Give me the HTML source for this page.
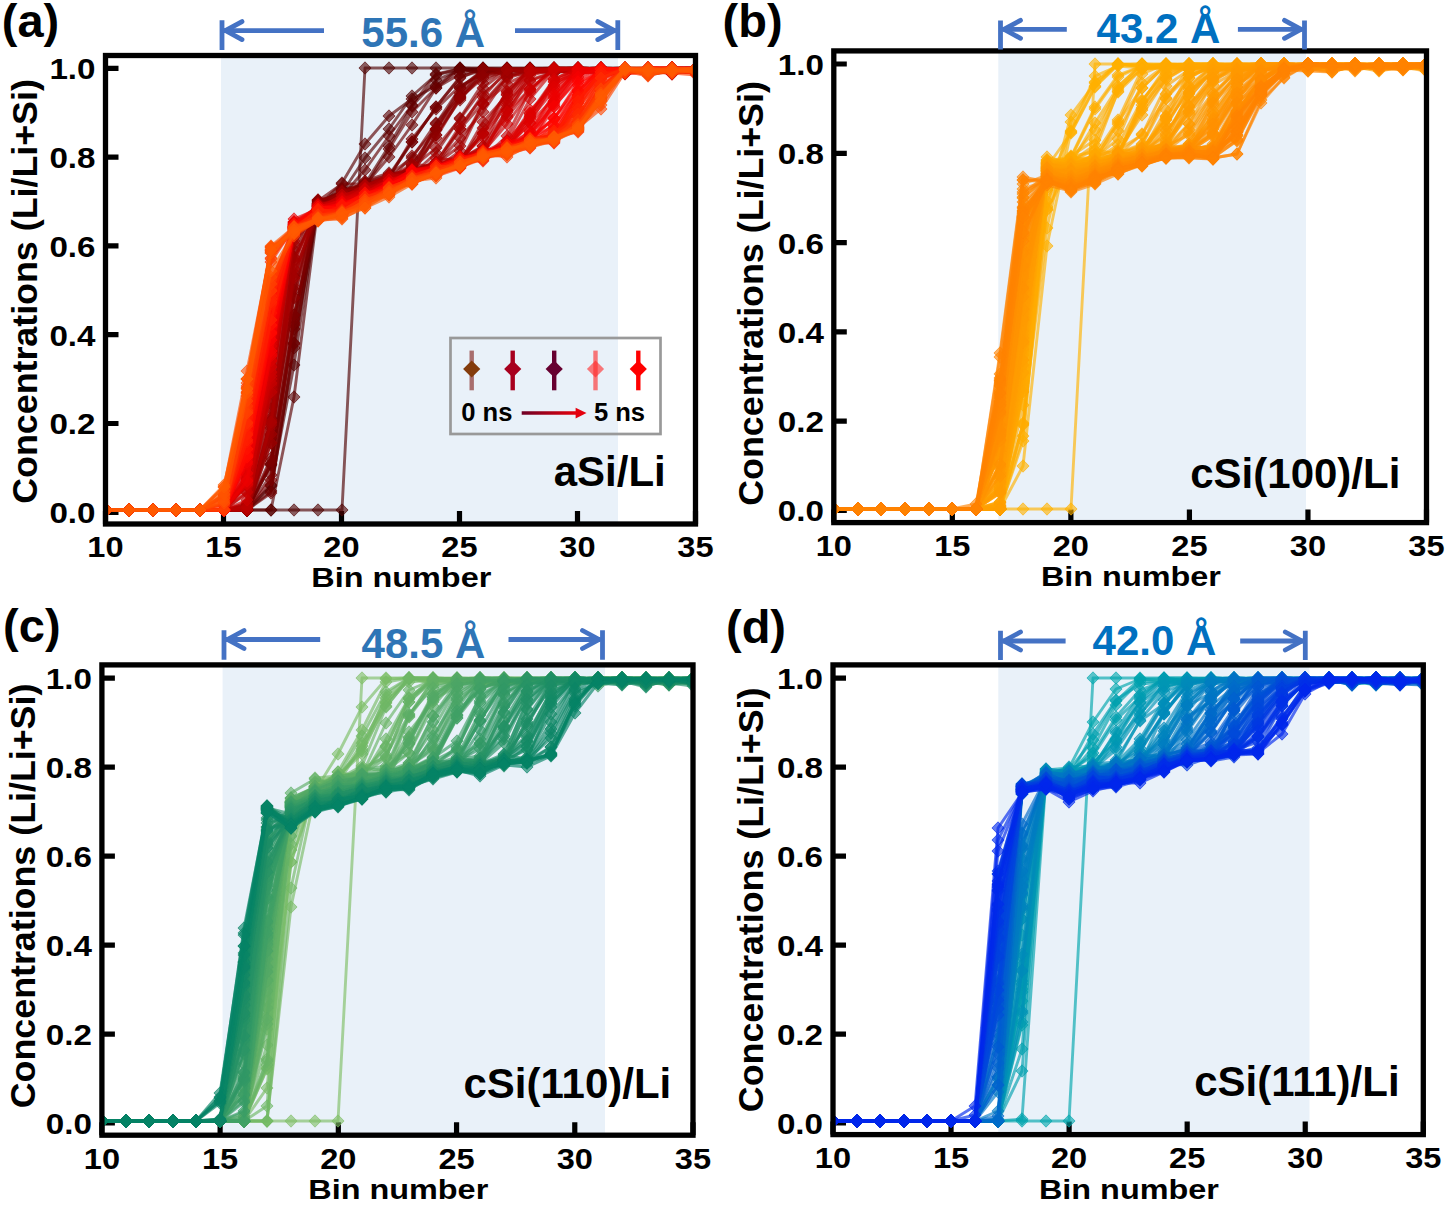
<!DOCTYPE html>
<html><head><meta charset="utf-8"><title>Li concentration profiles</title>
<style>html,body{margin:0;padding:0;background:#fff;}svg{display:block;}</style></head>
<body><svg width="1450" height="1207" viewBox="0 0 1450 1207" font-family="'Liberation Sans', sans-serif" font-weight="bold">
<defs><clipPath id="cla"><rect x="105.5" y="55.5" width="590.0" height="468.5"/></clipPath>
<marker id="m0" viewBox="-6 -6 12 12" markerWidth="12" markerHeight="12" markerUnits="userSpaceOnUse" refX="0" refY="0" overflow="visible"><path d="M0-6.2L6.1 0 0 6.2-6.1 0z" fill="#4e0000" fill-opacity="0.62" stroke="#4e0000" stroke-opacity="0.62" stroke-width="1"/></marker>
<marker id="m1" viewBox="-6 -6 12 12" markerWidth="12" markerHeight="12" markerUnits="userSpaceOnUse" refX="0" refY="0" overflow="visible"><path d="M0-6.2L6.1 0 0 6.2-6.1 0z" fill="#540000" fill-opacity="0.62" stroke="#540000" stroke-opacity="0.62" stroke-width="1"/></marker>
<marker id="m2" viewBox="-6 -6 12 12" markerWidth="12" markerHeight="12" markerUnits="userSpaceOnUse" refX="0" refY="0" overflow="visible"><path d="M0-6.2L6.1 0 0 6.2-6.1 0z" fill="#5b0000" fill-opacity="0.62" stroke="#5b0000" stroke-opacity="0.62" stroke-width="1"/></marker>
<marker id="m3" viewBox="-6 -6 12 12" markerWidth="12" markerHeight="12" markerUnits="userSpaceOnUse" refX="0" refY="0" overflow="visible"><path d="M0-6.2L6.1 0 0 6.2-6.1 0z" fill="#620000" fill-opacity="0.62" stroke="#620000" stroke-opacity="0.62" stroke-width="1"/></marker>
<marker id="m4" viewBox="-6 -6 12 12" markerWidth="12" markerHeight="12" markerUnits="userSpaceOnUse" refX="0" refY="0" overflow="visible"><path d="M0-6.2L6.1 0 0 6.2-6.1 0z" fill="#680000" fill-opacity="0.62" stroke="#680000" stroke-opacity="0.62" stroke-width="1"/></marker>
<marker id="m5" viewBox="-6 -6 12 12" markerWidth="12" markerHeight="12" markerUnits="userSpaceOnUse" refX="0" refY="0" overflow="visible"><path d="M0-6.2L6.1 0 0 6.2-6.1 0z" fill="#6f0000" fill-opacity="0.62" stroke="#6f0000" stroke-opacity="0.62" stroke-width="1"/></marker>
<marker id="m6" viewBox="-6 -6 12 12" markerWidth="12" markerHeight="12" markerUnits="userSpaceOnUse" refX="0" refY="0" overflow="visible"><path d="M0-6.2L6.1 0 0 6.2-6.1 0z" fill="#760000" fill-opacity="0.62" stroke="#760000" stroke-opacity="0.62" stroke-width="1"/></marker>
<marker id="m7" viewBox="-6 -6 12 12" markerWidth="12" markerHeight="12" markerUnits="userSpaceOnUse" refX="0" refY="0" overflow="visible"><path d="M0-6.2L6.1 0 0 6.2-6.1 0z" fill="#7c0000" fill-opacity="0.62" stroke="#7c0000" stroke-opacity="0.62" stroke-width="1"/></marker>
<marker id="m8" viewBox="-6 -6 12 12" markerWidth="12" markerHeight="12" markerUnits="userSpaceOnUse" refX="0" refY="0" overflow="visible"><path d="M0-6.2L6.1 0 0 6.2-6.1 0z" fill="#830000" fill-opacity="0.62" stroke="#830000" stroke-opacity="0.62" stroke-width="1"/></marker>
<marker id="m9" viewBox="-6 -6 12 12" markerWidth="12" markerHeight="12" markerUnits="userSpaceOnUse" refX="0" refY="0" overflow="visible"><path d="M0-6.2L6.1 0 0 6.2-6.1 0z" fill="#8a0000" fill-opacity="0.62" stroke="#8a0000" stroke-opacity="0.62" stroke-width="1"/></marker>
<marker id="m10" viewBox="-6 -6 12 12" markerWidth="12" markerHeight="12" markerUnits="userSpaceOnUse" refX="0" refY="0" overflow="visible"><path d="M0-6.2L6.1 0 0 6.2-6.1 0z" fill="#900000" fill-opacity="0.62" stroke="#900000" stroke-opacity="0.62" stroke-width="1"/></marker>
<marker id="m11" viewBox="-6 -6 12 12" markerWidth="12" markerHeight="12" markerUnits="userSpaceOnUse" refX="0" refY="0" overflow="visible"><path d="M0-6.2L6.1 0 0 6.2-6.1 0z" fill="#970000" fill-opacity="0.62" stroke="#970000" stroke-opacity="0.62" stroke-width="1"/></marker>
<marker id="m12" viewBox="-6 -6 12 12" markerWidth="12" markerHeight="12" markerUnits="userSpaceOnUse" refX="0" refY="0" overflow="visible"><path d="M0-6.2L6.1 0 0 6.2-6.1 0z" fill="#9e0000" fill-opacity="0.62" stroke="#9e0000" stroke-opacity="0.62" stroke-width="1"/></marker>
<marker id="m13" viewBox="-6 -6 12 12" markerWidth="12" markerHeight="12" markerUnits="userSpaceOnUse" refX="0" refY="0" overflow="visible"><path d="M0-6.2L6.1 0 0 6.2-6.1 0z" fill="#a50000" fill-opacity="0.62" stroke="#a50000" stroke-opacity="0.62" stroke-width="1"/></marker>
<marker id="m14" viewBox="-6 -6 12 12" markerWidth="12" markerHeight="12" markerUnits="userSpaceOnUse" refX="0" refY="0" overflow="visible"><path d="M0-6.2L6.1 0 0 6.2-6.1 0z" fill="#ab0000" fill-opacity="0.62" stroke="#ab0000" stroke-opacity="0.62" stroke-width="1"/></marker>
<marker id="m15" viewBox="-6 -6 12 12" markerWidth="12" markerHeight="12" markerUnits="userSpaceOnUse" refX="0" refY="0" overflow="visible"><path d="M0-6.2L6.1 0 0 6.2-6.1 0z" fill="#b20000" fill-opacity="0.62" stroke="#b20000" stroke-opacity="0.62" stroke-width="1"/></marker>
<marker id="m16" viewBox="-6 -6 12 12" markerWidth="12" markerHeight="12" markerUnits="userSpaceOnUse" refX="0" refY="0" overflow="visible"><path d="M0-6.2L6.1 0 0 6.2-6.1 0z" fill="#b90000" fill-opacity="0.62" stroke="#b90000" stroke-opacity="0.62" stroke-width="1"/></marker>
<marker id="m17" viewBox="-6 -6 12 12" markerWidth="12" markerHeight="12" markerUnits="userSpaceOnUse" refX="0" refY="0" overflow="visible"><path d="M0-6.2L6.1 0 0 6.2-6.1 0z" fill="#bf0000" fill-opacity="0.62" stroke="#bf0000" stroke-opacity="0.62" stroke-width="1"/></marker>
<marker id="m18" viewBox="-6 -6 12 12" markerWidth="12" markerHeight="12" markerUnits="userSpaceOnUse" refX="0" refY="0" overflow="visible"><path d="M0-6.2L6.1 0 0 6.2-6.1 0z" fill="#c60000" fill-opacity="0.62" stroke="#c60000" stroke-opacity="0.62" stroke-width="1"/></marker>
<marker id="m19" viewBox="-6 -6 12 12" markerWidth="12" markerHeight="12" markerUnits="userSpaceOnUse" refX="0" refY="0" overflow="visible"><path d="M0-6.2L6.1 0 0 6.2-6.1 0z" fill="#cd0000" fill-opacity="0.62" stroke="#cd0000" stroke-opacity="0.62" stroke-width="1"/></marker>
<marker id="m20" viewBox="-6 -6 12 12" markerWidth="12" markerHeight="12" markerUnits="userSpaceOnUse" refX="0" refY="0" overflow="visible"><path d="M0-6.2L6.1 0 0 6.2-6.1 0z" fill="#d30000" fill-opacity="0.62" stroke="#d30000" stroke-opacity="0.62" stroke-width="1"/></marker>
<marker id="m21" viewBox="-6 -6 12 12" markerWidth="12" markerHeight="12" markerUnits="userSpaceOnUse" refX="0" refY="0" overflow="visible"><path d="M0-6.2L6.1 0 0 6.2-6.1 0z" fill="#da0000" fill-opacity="0.62" stroke="#da0000" stroke-opacity="0.62" stroke-width="1"/></marker>
<marker id="m22" viewBox="-6 -6 12 12" markerWidth="12" markerHeight="12" markerUnits="userSpaceOnUse" refX="0" refY="0" overflow="visible"><path d="M0-6.2L6.1 0 0 6.2-6.1 0z" fill="#e10000" fill-opacity="0.62" stroke="#e10000" stroke-opacity="0.62" stroke-width="1"/></marker>
<marker id="m23" viewBox="-6 -6 12 12" markerWidth="12" markerHeight="12" markerUnits="userSpaceOnUse" refX="0" refY="0" overflow="visible"><path d="M0-6.2L6.1 0 0 6.2-6.1 0z" fill="#e80000" fill-opacity="0.62" stroke="#e80000" stroke-opacity="0.62" stroke-width="1"/></marker>
<marker id="m24" viewBox="-6 -6 12 12" markerWidth="12" markerHeight="12" markerUnits="userSpaceOnUse" refX="0" refY="0" overflow="visible"><path d="M0-6.2L6.1 0 0 6.2-6.1 0z" fill="#ee0000" fill-opacity="0.62" stroke="#ee0000" stroke-opacity="0.62" stroke-width="1"/></marker>
<marker id="m25" viewBox="-6 -6 12 12" markerWidth="12" markerHeight="12" markerUnits="userSpaceOnUse" refX="0" refY="0" overflow="visible"><path d="M0-6.2L6.1 0 0 6.2-6.1 0z" fill="#f50000" fill-opacity="0.62" stroke="#f50000" stroke-opacity="0.62" stroke-width="1"/></marker>
<marker id="m26" viewBox="-6 -6 12 12" markerWidth="12" markerHeight="12" markerUnits="userSpaceOnUse" refX="0" refY="0" overflow="visible"><path d="M0-6.2L6.1 0 0 6.2-6.1 0z" fill="#fc0000" fill-opacity="0.62" stroke="#fc0000" stroke-opacity="0.62" stroke-width="1"/></marker>
<marker id="m27" viewBox="-6 -6 12 12" markerWidth="12" markerHeight="12" markerUnits="userSpaceOnUse" refX="0" refY="0" overflow="visible"><path d="M0-6.2L6.1 0 0 6.2-6.1 0z" fill="#ff0300" fill-opacity="0.62" stroke="#ff0300" stroke-opacity="0.62" stroke-width="1"/></marker>
<marker id="m28" viewBox="-6 -6 12 12" markerWidth="12" markerHeight="12" markerUnits="userSpaceOnUse" refX="0" refY="0" overflow="visible"><path d="M0-6.2L6.1 0 0 6.2-6.1 0z" fill="#ff0a00" fill-opacity="0.62" stroke="#ff0a00" stroke-opacity="0.62" stroke-width="1"/></marker>
<marker id="m29" viewBox="-6 -6 12 12" markerWidth="12" markerHeight="12" markerUnits="userSpaceOnUse" refX="0" refY="0" overflow="visible"><path d="M0-6.2L6.1 0 0 6.2-6.1 0z" fill="#ff1100" fill-opacity="0.62" stroke="#ff1100" stroke-opacity="0.62" stroke-width="1"/></marker>
<marker id="m30" viewBox="-6 -6 12 12" markerWidth="12" markerHeight="12" markerUnits="userSpaceOnUse" refX="0" refY="0" overflow="visible"><path d="M0-6.2L6.1 0 0 6.2-6.1 0z" fill="#ff1700" fill-opacity="0.62" stroke="#ff1700" stroke-opacity="0.62" stroke-width="1"/></marker>
<marker id="m31" viewBox="-6 -6 12 12" markerWidth="12" markerHeight="12" markerUnits="userSpaceOnUse" refX="0" refY="0" overflow="visible"><path d="M0-6.2L6.1 0 0 6.2-6.1 0z" fill="#ff1e00" fill-opacity="0.62" stroke="#ff1e00" stroke-opacity="0.62" stroke-width="1"/></marker>
<marker id="m32" viewBox="-6 -6 12 12" markerWidth="12" markerHeight="12" markerUnits="userSpaceOnUse" refX="0" refY="0" overflow="visible"><path d="M0-6.2L6.1 0 0 6.2-6.1 0z" fill="#ff2500" fill-opacity="0.62" stroke="#ff2500" stroke-opacity="0.62" stroke-width="1"/></marker>
<marker id="m33" viewBox="-6 -6 12 12" markerWidth="12" markerHeight="12" markerUnits="userSpaceOnUse" refX="0" refY="0" overflow="visible"><path d="M0-6.2L6.1 0 0 6.2-6.1 0z" fill="#ff2b00" fill-opacity="0.62" stroke="#ff2b00" stroke-opacity="0.62" stroke-width="1"/></marker>
<marker id="m34" viewBox="-6 -6 12 12" markerWidth="12" markerHeight="12" markerUnits="userSpaceOnUse" refX="0" refY="0" overflow="visible"><path d="M0-6.2L6.1 0 0 6.2-6.1 0z" fill="#ff3200" fill-opacity="0.62" stroke="#ff3200" stroke-opacity="0.62" stroke-width="1"/></marker>
<marker id="m35" viewBox="-6 -6 12 12" markerWidth="12" markerHeight="12" markerUnits="userSpaceOnUse" refX="0" refY="0" overflow="visible"><path d="M0-6.2L6.1 0 0 6.2-6.1 0z" fill="#ff3900" fill-opacity="0.62" stroke="#ff3900" stroke-opacity="0.62" stroke-width="1"/></marker>
<marker id="m36" viewBox="-6 -6 12 12" markerWidth="12" markerHeight="12" markerUnits="userSpaceOnUse" refX="0" refY="0" overflow="visible"><path d="M0-6.2L6.1 0 0 6.2-6.1 0z" fill="#ff4000" fill-opacity="0.62" stroke="#ff4000" stroke-opacity="0.62" stroke-width="1"/></marker>
<marker id="m37" viewBox="-6 -6 12 12" markerWidth="12" markerHeight="12" markerUnits="userSpaceOnUse" refX="0" refY="0" overflow="visible"><path d="M0-6.2L6.1 0 0 6.2-6.1 0z" fill="#ff4600" fill-opacity="0.62" stroke="#ff4600" stroke-opacity="0.62" stroke-width="1"/></marker>
<marker id="m38" viewBox="-6 -6 12 12" markerWidth="12" markerHeight="12" markerUnits="userSpaceOnUse" refX="0" refY="0" overflow="visible"><path d="M0-6.2L6.1 0 0 6.2-6.1 0z" fill="#ff4d00" fill-opacity="0.62" stroke="#ff4d00" stroke-opacity="0.62" stroke-width="1"/></marker>
<marker id="m39" viewBox="-6 -6 12 12" markerWidth="12" markerHeight="12" markerUnits="userSpaceOnUse" refX="0" refY="0" overflow="visible"><path d="M0-6.2L6.1 0 0 6.2-6.1 0z" fill="#ff5400" fill-opacity="0.62" stroke="#ff5400" stroke-opacity="0.62" stroke-width="1"/></marker>
<marker id="m40" viewBox="-6 -6 12 12" markerWidth="12" markerHeight="12" markerUnits="userSpaceOnUse" refX="0" refY="0" overflow="visible"><path d="M0-6.2L6.1 0 0 6.2-6.1 0z" fill="#ff5a00" fill-opacity="0.62" stroke="#ff5a00" stroke-opacity="0.62" stroke-width="1"/></marker>
<clipPath id="clb"><rect x="833.8" y="50.9" width="592.7" height="471.7"/></clipPath>
<marker id="m41" viewBox="-6 -6 12 12" markerWidth="12" markerHeight="12" markerUnits="userSpaceOnUse" refX="0" refY="0" overflow="visible"><path d="M0-6.2L6.1 0 0 6.2-6.1 0z" fill="#ffb200" fill-opacity="0.62" stroke="#ffb200" stroke-opacity="0.62" stroke-width="1"/></marker>
<marker id="m42" viewBox="-6 -6 12 12" markerWidth="12" markerHeight="12" markerUnits="userSpaceOnUse" refX="0" refY="0" overflow="visible"><path d="M0-6.2L6.1 0 0 6.2-6.1 0z" fill="#ffb100" fill-opacity="0.62" stroke="#ffb100" stroke-opacity="0.62" stroke-width="1"/></marker>
<marker id="m43" viewBox="-6 -6 12 12" markerWidth="12" markerHeight="12" markerUnits="userSpaceOnUse" refX="0" refY="0" overflow="visible"><path d="M0-6.2L6.1 0 0 6.2-6.1 0z" fill="#ffb000" fill-opacity="0.62" stroke="#ffb000" stroke-opacity="0.62" stroke-width="1"/></marker>
<marker id="m44" viewBox="-6 -6 12 12" markerWidth="12" markerHeight="12" markerUnits="userSpaceOnUse" refX="0" refY="0" overflow="visible"><path d="M0-6.2L6.1 0 0 6.2-6.1 0z" fill="#ffaf00" fill-opacity="0.62" stroke="#ffaf00" stroke-opacity="0.62" stroke-width="1"/></marker>
<marker id="m45" viewBox="-6 -6 12 12" markerWidth="12" markerHeight="12" markerUnits="userSpaceOnUse" refX="0" refY="0" overflow="visible"><path d="M0-6.2L6.1 0 0 6.2-6.1 0z" fill="#ffae00" fill-opacity="0.62" stroke="#ffae00" stroke-opacity="0.62" stroke-width="1"/></marker>
<marker id="m46" viewBox="-6 -6 12 12" markerWidth="12" markerHeight="12" markerUnits="userSpaceOnUse" refX="0" refY="0" overflow="visible"><path d="M0-6.2L6.1 0 0 6.2-6.1 0z" fill="#ffac00" fill-opacity="0.62" stroke="#ffac00" stroke-opacity="0.62" stroke-width="1"/></marker>
<marker id="m47" viewBox="-6 -6 12 12" markerWidth="12" markerHeight="12" markerUnits="userSpaceOnUse" refX="0" refY="0" overflow="visible"><path d="M0-6.2L6.1 0 0 6.2-6.1 0z" fill="#ffab00" fill-opacity="0.62" stroke="#ffab00" stroke-opacity="0.62" stroke-width="1"/></marker>
<marker id="m48" viewBox="-6 -6 12 12" markerWidth="12" markerHeight="12" markerUnits="userSpaceOnUse" refX="0" refY="0" overflow="visible"><path d="M0-6.2L6.1 0 0 6.2-6.1 0z" fill="#ffaa00" fill-opacity="0.62" stroke="#ffaa00" stroke-opacity="0.62" stroke-width="1"/></marker>
<marker id="m49" viewBox="-6 -6 12 12" markerWidth="12" markerHeight="12" markerUnits="userSpaceOnUse" refX="0" refY="0" overflow="visible"><path d="M0-6.2L6.1 0 0 6.2-6.1 0z" fill="#ffa900" fill-opacity="0.62" stroke="#ffa900" stroke-opacity="0.62" stroke-width="1"/></marker>
<marker id="m50" viewBox="-6 -6 12 12" markerWidth="12" markerHeight="12" markerUnits="userSpaceOnUse" refX="0" refY="0" overflow="visible"><path d="M0-6.2L6.1 0 0 6.2-6.1 0z" fill="#ffa800" fill-opacity="0.62" stroke="#ffa800" stroke-opacity="0.62" stroke-width="1"/></marker>
<marker id="m51" viewBox="-6 -6 12 12" markerWidth="12" markerHeight="12" markerUnits="userSpaceOnUse" refX="0" refY="0" overflow="visible"><path d="M0-6.2L6.1 0 0 6.2-6.1 0z" fill="#ffa600" fill-opacity="0.62" stroke="#ffa600" stroke-opacity="0.62" stroke-width="1"/></marker>
<marker id="m52" viewBox="-6 -6 12 12" markerWidth="12" markerHeight="12" markerUnits="userSpaceOnUse" refX="0" refY="0" overflow="visible"><path d="M0-6.2L6.1 0 0 6.2-6.1 0z" fill="#ffa500" fill-opacity="0.62" stroke="#ffa500" stroke-opacity="0.62" stroke-width="1"/></marker>
<marker id="m53" viewBox="-6 -6 12 12" markerWidth="12" markerHeight="12" markerUnits="userSpaceOnUse" refX="0" refY="0" overflow="visible"><path d="M0-6.2L6.1 0 0 6.2-6.1 0z" fill="#ffa400" fill-opacity="0.62" stroke="#ffa400" stroke-opacity="0.62" stroke-width="1"/></marker>
<marker id="m54" viewBox="-6 -6 12 12" markerWidth="12" markerHeight="12" markerUnits="userSpaceOnUse" refX="0" refY="0" overflow="visible"><path d="M0-6.2L6.1 0 0 6.2-6.1 0z" fill="#ffa300" fill-opacity="0.62" stroke="#ffa300" stroke-opacity="0.62" stroke-width="1"/></marker>
<marker id="m55" viewBox="-6 -6 12 12" markerWidth="12" markerHeight="12" markerUnits="userSpaceOnUse" refX="0" refY="0" overflow="visible"><path d="M0-6.2L6.1 0 0 6.2-6.1 0z" fill="#ffa200" fill-opacity="0.62" stroke="#ffa200" stroke-opacity="0.62" stroke-width="1"/></marker>
<marker id="m56" viewBox="-6 -6 12 12" markerWidth="12" markerHeight="12" markerUnits="userSpaceOnUse" refX="0" refY="0" overflow="visible"><path d="M0-6.2L6.1 0 0 6.2-6.1 0z" fill="#ffa000" fill-opacity="0.62" stroke="#ffa000" stroke-opacity="0.62" stroke-width="1"/></marker>
<marker id="m57" viewBox="-6 -6 12 12" markerWidth="12" markerHeight="12" markerUnits="userSpaceOnUse" refX="0" refY="0" overflow="visible"><path d="M0-6.2L6.1 0 0 6.2-6.1 0z" fill="#ff9f00" fill-opacity="0.62" stroke="#ff9f00" stroke-opacity="0.62" stroke-width="1"/></marker>
<marker id="m58" viewBox="-6 -6 12 12" markerWidth="12" markerHeight="12" markerUnits="userSpaceOnUse" refX="0" refY="0" overflow="visible"><path d="M0-6.2L6.1 0 0 6.2-6.1 0z" fill="#ff9e00" fill-opacity="0.62" stroke="#ff9e00" stroke-opacity="0.62" stroke-width="1"/></marker>
<marker id="m59" viewBox="-6 -6 12 12" markerWidth="12" markerHeight="12" markerUnits="userSpaceOnUse" refX="0" refY="0" overflow="visible"><path d="M0-6.2L6.1 0 0 6.2-6.1 0z" fill="#ff9d00" fill-opacity="0.62" stroke="#ff9d00" stroke-opacity="0.62" stroke-width="1"/></marker>
<marker id="m60" viewBox="-6 -6 12 12" markerWidth="12" markerHeight="12" markerUnits="userSpaceOnUse" refX="0" refY="0" overflow="visible"><path d="M0-6.2L6.1 0 0 6.2-6.1 0z" fill="#ff9b00" fill-opacity="0.62" stroke="#ff9b00" stroke-opacity="0.62" stroke-width="1"/></marker>
<marker id="m61" viewBox="-6 -6 12 12" markerWidth="12" markerHeight="12" markerUnits="userSpaceOnUse" refX="0" refY="0" overflow="visible"><path d="M0-6.2L6.1 0 0 6.2-6.1 0z" fill="#ff9a00" fill-opacity="0.62" stroke="#ff9a00" stroke-opacity="0.62" stroke-width="1"/></marker>
<marker id="m62" viewBox="-6 -6 12 12" markerWidth="12" markerHeight="12" markerUnits="userSpaceOnUse" refX="0" refY="0" overflow="visible"><path d="M0-6.2L6.1 0 0 6.2-6.1 0z" fill="#ff9900" fill-opacity="0.62" stroke="#ff9900" stroke-opacity="0.62" stroke-width="1"/></marker>
<marker id="m63" viewBox="-6 -6 12 12" markerWidth="12" markerHeight="12" markerUnits="userSpaceOnUse" refX="0" refY="0" overflow="visible"><path d="M0-6.2L6.1 0 0 6.2-6.1 0z" fill="#ff9800" fill-opacity="0.62" stroke="#ff9800" stroke-opacity="0.62" stroke-width="1"/></marker>
<marker id="m64" viewBox="-6 -6 12 12" markerWidth="12" markerHeight="12" markerUnits="userSpaceOnUse" refX="0" refY="0" overflow="visible"><path d="M0-6.2L6.1 0 0 6.2-6.1 0z" fill="#ff9700" fill-opacity="0.62" stroke="#ff9700" stroke-opacity="0.62" stroke-width="1"/></marker>
<marker id="m65" viewBox="-6 -6 12 12" markerWidth="12" markerHeight="12" markerUnits="userSpaceOnUse" refX="0" refY="0" overflow="visible"><path d="M0-6.2L6.1 0 0 6.2-6.1 0z" fill="#ff9500" fill-opacity="0.62" stroke="#ff9500" stroke-opacity="0.62" stroke-width="1"/></marker>
<marker id="m66" viewBox="-6 -6 12 12" markerWidth="12" markerHeight="12" markerUnits="userSpaceOnUse" refX="0" refY="0" overflow="visible"><path d="M0-6.2L6.1 0 0 6.2-6.1 0z" fill="#ff9400" fill-opacity="0.62" stroke="#ff9400" stroke-opacity="0.62" stroke-width="1"/></marker>
<marker id="m67" viewBox="-6 -6 12 12" markerWidth="12" markerHeight="12" markerUnits="userSpaceOnUse" refX="0" refY="0" overflow="visible"><path d="M0-6.2L6.1 0 0 6.2-6.1 0z" fill="#ff9300" fill-opacity="0.62" stroke="#ff9300" stroke-opacity="0.62" stroke-width="1"/></marker>
<marker id="m68" viewBox="-6 -6 12 12" markerWidth="12" markerHeight="12" markerUnits="userSpaceOnUse" refX="0" refY="0" overflow="visible"><path d="M0-6.2L6.1 0 0 6.2-6.1 0z" fill="#ff9200" fill-opacity="0.62" stroke="#ff9200" stroke-opacity="0.62" stroke-width="1"/></marker>
<marker id="m69" viewBox="-6 -6 12 12" markerWidth="12" markerHeight="12" markerUnits="userSpaceOnUse" refX="0" refY="0" overflow="visible"><path d="M0-6.2L6.1 0 0 6.2-6.1 0z" fill="#ff9100" fill-opacity="0.62" stroke="#ff9100" stroke-opacity="0.62" stroke-width="1"/></marker>
<marker id="m70" viewBox="-6 -6 12 12" markerWidth="12" markerHeight="12" markerUnits="userSpaceOnUse" refX="0" refY="0" overflow="visible"><path d="M0-6.2L6.1 0 0 6.2-6.1 0z" fill="#ff8f00" fill-opacity="0.62" stroke="#ff8f00" stroke-opacity="0.62" stroke-width="1"/></marker>
<marker id="m71" viewBox="-6 -6 12 12" markerWidth="12" markerHeight="12" markerUnits="userSpaceOnUse" refX="0" refY="0" overflow="visible"><path d="M0-6.2L6.1 0 0 6.2-6.1 0z" fill="#ff8e00" fill-opacity="0.62" stroke="#ff8e00" stroke-opacity="0.62" stroke-width="1"/></marker>
<marker id="m72" viewBox="-6 -6 12 12" markerWidth="12" markerHeight="12" markerUnits="userSpaceOnUse" refX="0" refY="0" overflow="visible"><path d="M0-6.2L6.1 0 0 6.2-6.1 0z" fill="#ff8d00" fill-opacity="0.62" stroke="#ff8d00" stroke-opacity="0.62" stroke-width="1"/></marker>
<marker id="m73" viewBox="-6 -6 12 12" markerWidth="12" markerHeight="12" markerUnits="userSpaceOnUse" refX="0" refY="0" overflow="visible"><path d="M0-6.2L6.1 0 0 6.2-6.1 0z" fill="#ff8c00" fill-opacity="0.62" stroke="#ff8c00" stroke-opacity="0.62" stroke-width="1"/></marker>
<marker id="m74" viewBox="-6 -6 12 12" markerWidth="12" markerHeight="12" markerUnits="userSpaceOnUse" refX="0" refY="0" overflow="visible"><path d="M0-6.2L6.1 0 0 6.2-6.1 0z" fill="#ff8b00" fill-opacity="0.62" stroke="#ff8b00" stroke-opacity="0.62" stroke-width="1"/></marker>
<marker id="m75" viewBox="-6 -6 12 12" markerWidth="12" markerHeight="12" markerUnits="userSpaceOnUse" refX="0" refY="0" overflow="visible"><path d="M0-6.2L6.1 0 0 6.2-6.1 0z" fill="#ff8900" fill-opacity="0.62" stroke="#ff8900" stroke-opacity="0.62" stroke-width="1"/></marker>
<marker id="m76" viewBox="-6 -6 12 12" markerWidth="12" markerHeight="12" markerUnits="userSpaceOnUse" refX="0" refY="0" overflow="visible"><path d="M0-6.2L6.1 0 0 6.2-6.1 0z" fill="#ff8800" fill-opacity="0.62" stroke="#ff8800" stroke-opacity="0.62" stroke-width="1"/></marker>
<marker id="m77" viewBox="-6 -6 12 12" markerWidth="12" markerHeight="12" markerUnits="userSpaceOnUse" refX="0" refY="0" overflow="visible"><path d="M0-6.2L6.1 0 0 6.2-6.1 0z" fill="#ff8700" fill-opacity="0.62" stroke="#ff8700" stroke-opacity="0.62" stroke-width="1"/></marker>
<marker id="m78" viewBox="-6 -6 12 12" markerWidth="12" markerHeight="12" markerUnits="userSpaceOnUse" refX="0" refY="0" overflow="visible"><path d="M0-6.2L6.1 0 0 6.2-6.1 0z" fill="#ff8600" fill-opacity="0.62" stroke="#ff8600" stroke-opacity="0.62" stroke-width="1"/></marker>
<marker id="m79" viewBox="-6 -6 12 12" markerWidth="12" markerHeight="12" markerUnits="userSpaceOnUse" refX="0" refY="0" overflow="visible"><path d="M0-6.2L6.1 0 0 6.2-6.1 0z" fill="#ff8400" fill-opacity="0.62" stroke="#ff8400" stroke-opacity="0.62" stroke-width="1"/></marker>
<marker id="m80" viewBox="-6 -6 12 12" markerWidth="12" markerHeight="12" markerUnits="userSpaceOnUse" refX="0" refY="0" overflow="visible"><path d="M0-6.2L6.1 0 0 6.2-6.1 0z" fill="#ff8300" fill-opacity="0.62" stroke="#ff8300" stroke-opacity="0.62" stroke-width="1"/></marker>
<marker id="m81" viewBox="-6 -6 12 12" markerWidth="12" markerHeight="12" markerUnits="userSpaceOnUse" refX="0" refY="0" overflow="visible"><path d="M0-6.2L6.1 0 0 6.2-6.1 0z" fill="#ff8200" fill-opacity="0.62" stroke="#ff8200" stroke-opacity="0.62" stroke-width="1"/></marker>
<clipPath id="clc"><rect x="101.9" y="664.9" width="591.1" height="470.3"/></clipPath>
<marker id="m82" viewBox="-6 -6 12 12" markerWidth="12" markerHeight="12" markerUnits="userSpaceOnUse" refX="0" refY="0" overflow="visible"><path d="M0-6.2L6.1 0 0 6.2-6.1 0z" fill="#80bf66" fill-opacity="0.62" stroke="#80bf66" stroke-opacity="0.62" stroke-width="1"/></marker>
<marker id="m83" viewBox="-6 -6 12 12" markerWidth="12" markerHeight="12" markerUnits="userSpaceOnUse" refX="0" refY="0" overflow="visible"><path d="M0-6.2L6.1 0 0 6.2-6.1 0z" fill="#7cbe66" fill-opacity="0.62" stroke="#7cbe66" stroke-opacity="0.62" stroke-width="1"/></marker>
<marker id="m84" viewBox="-6 -6 12 12" markerWidth="12" markerHeight="12" markerUnits="userSpaceOnUse" refX="0" refY="0" overflow="visible"><path d="M0-6.2L6.1 0 0 6.2-6.1 0z" fill="#79bc66" fill-opacity="0.62" stroke="#79bc66" stroke-opacity="0.62" stroke-width="1"/></marker>
<marker id="m85" viewBox="-6 -6 12 12" markerWidth="12" markerHeight="12" markerUnits="userSpaceOnUse" refX="0" refY="0" overflow="visible"><path d="M0-6.2L6.1 0 0 6.2-6.1 0z" fill="#76bb66" fill-opacity="0.62" stroke="#76bb66" stroke-opacity="0.62" stroke-width="1"/></marker>
<marker id="m86" viewBox="-6 -6 12 12" markerWidth="12" markerHeight="12" markerUnits="userSpaceOnUse" refX="0" refY="0" overflow="visible"><path d="M0-6.2L6.1 0 0 6.2-6.1 0z" fill="#73b966" fill-opacity="0.62" stroke="#73b966" stroke-opacity="0.62" stroke-width="1"/></marker>
<marker id="m87" viewBox="-6 -6 12 12" markerWidth="12" markerHeight="12" markerUnits="userSpaceOnUse" refX="0" refY="0" overflow="visible"><path d="M0-6.2L6.1 0 0 6.2-6.1 0z" fill="#70b866" fill-opacity="0.62" stroke="#70b866" stroke-opacity="0.62" stroke-width="1"/></marker>
<marker id="m88" viewBox="-6 -6 12 12" markerWidth="12" markerHeight="12" markerUnits="userSpaceOnUse" refX="0" refY="0" overflow="visible"><path d="M0-6.2L6.1 0 0 6.2-6.1 0z" fill="#6db666" fill-opacity="0.62" stroke="#6db666" stroke-opacity="0.62" stroke-width="1"/></marker>
<marker id="m89" viewBox="-6 -6 12 12" markerWidth="12" markerHeight="12" markerUnits="userSpaceOnUse" refX="0" refY="0" overflow="visible"><path d="M0-6.2L6.1 0 0 6.2-6.1 0z" fill="#6ab566" fill-opacity="0.62" stroke="#6ab566" stroke-opacity="0.62" stroke-width="1"/></marker>
<marker id="m90" viewBox="-6 -6 12 12" markerWidth="12" markerHeight="12" markerUnits="userSpaceOnUse" refX="0" refY="0" overflow="visible"><path d="M0-6.2L6.1 0 0 6.2-6.1 0z" fill="#67b366" fill-opacity="0.62" stroke="#67b366" stroke-opacity="0.62" stroke-width="1"/></marker>
<marker id="m91" viewBox="-6 -6 12 12" markerWidth="12" markerHeight="12" markerUnits="userSpaceOnUse" refX="0" refY="0" overflow="visible"><path d="M0-6.2L6.1 0 0 6.2-6.1 0z" fill="#64b166" fill-opacity="0.62" stroke="#64b166" stroke-opacity="0.62" stroke-width="1"/></marker>
<marker id="m92" viewBox="-6 -6 12 12" markerWidth="12" markerHeight="12" markerUnits="userSpaceOnUse" refX="0" refY="0" overflow="visible"><path d="M0-6.2L6.1 0 0 6.2-6.1 0z" fill="#61b066" fill-opacity="0.62" stroke="#61b066" stroke-opacity="0.62" stroke-width="1"/></marker>
<marker id="m93" viewBox="-6 -6 12 12" markerWidth="12" markerHeight="12" markerUnits="userSpaceOnUse" refX="0" refY="0" overflow="visible"><path d="M0-6.2L6.1 0 0 6.2-6.1 0z" fill="#5eae66" fill-opacity="0.62" stroke="#5eae66" stroke-opacity="0.62" stroke-width="1"/></marker>
<marker id="m94" viewBox="-6 -6 12 12" markerWidth="12" markerHeight="12" markerUnits="userSpaceOnUse" refX="0" refY="0" overflow="visible"><path d="M0-6.2L6.1 0 0 6.2-6.1 0z" fill="#5bad66" fill-opacity="0.62" stroke="#5bad66" stroke-opacity="0.62" stroke-width="1"/></marker>
<marker id="m95" viewBox="-6 -6 12 12" markerWidth="12" markerHeight="12" markerUnits="userSpaceOnUse" refX="0" refY="0" overflow="visible"><path d="M0-6.2L6.1 0 0 6.2-6.1 0z" fill="#58ab66" fill-opacity="0.62" stroke="#58ab66" stroke-opacity="0.62" stroke-width="1"/></marker>
<marker id="m96" viewBox="-6 -6 12 12" markerWidth="12" markerHeight="12" markerUnits="userSpaceOnUse" refX="0" refY="0" overflow="visible"><path d="M0-6.2L6.1 0 0 6.2-6.1 0z" fill="#55aa66" fill-opacity="0.62" stroke="#55aa66" stroke-opacity="0.62" stroke-width="1"/></marker>
<marker id="m97" viewBox="-6 -6 12 12" markerWidth="12" markerHeight="12" markerUnits="userSpaceOnUse" refX="0" refY="0" overflow="visible"><path d="M0-6.2L6.1 0 0 6.2-6.1 0z" fill="#52a866" fill-opacity="0.62" stroke="#52a866" stroke-opacity="0.62" stroke-width="1"/></marker>
<marker id="m98" viewBox="-6 -6 12 12" markerWidth="12" markerHeight="12" markerUnits="userSpaceOnUse" refX="0" refY="0" overflow="visible"><path d="M0-6.2L6.1 0 0 6.2-6.1 0z" fill="#4fa766" fill-opacity="0.62" stroke="#4fa766" stroke-opacity="0.62" stroke-width="1"/></marker>
<marker id="m99" viewBox="-6 -6 12 12" markerWidth="12" markerHeight="12" markerUnits="userSpaceOnUse" refX="0" refY="0" overflow="visible"><path d="M0-6.2L6.1 0 0 6.2-6.1 0z" fill="#4ba566" fill-opacity="0.62" stroke="#4ba566" stroke-opacity="0.62" stroke-width="1"/></marker>
<marker id="m100" viewBox="-6 -6 12 12" markerWidth="12" markerHeight="12" markerUnits="userSpaceOnUse" refX="0" refY="0" overflow="visible"><path d="M0-6.2L6.1 0 0 6.2-6.1 0z" fill="#48a466" fill-opacity="0.62" stroke="#48a466" stroke-opacity="0.62" stroke-width="1"/></marker>
<marker id="m101" viewBox="-6 -6 12 12" markerWidth="12" markerHeight="12" markerUnits="userSpaceOnUse" refX="0" refY="0" overflow="visible"><path d="M0-6.2L6.1 0 0 6.2-6.1 0z" fill="#45a266" fill-opacity="0.62" stroke="#45a266" stroke-opacity="0.62" stroke-width="1"/></marker>
<marker id="m102" viewBox="-6 -6 12 12" markerWidth="12" markerHeight="12" markerUnits="userSpaceOnUse" refX="0" refY="0" overflow="visible"><path d="M0-6.2L6.1 0 0 6.2-6.1 0z" fill="#42a166" fill-opacity="0.62" stroke="#42a166" stroke-opacity="0.62" stroke-width="1"/></marker>
<marker id="m103" viewBox="-6 -6 12 12" markerWidth="12" markerHeight="12" markerUnits="userSpaceOnUse" refX="0" refY="0" overflow="visible"><path d="M0-6.2L6.1 0 0 6.2-6.1 0z" fill="#3f9f66" fill-opacity="0.62" stroke="#3f9f66" stroke-opacity="0.62" stroke-width="1"/></marker>
<marker id="m104" viewBox="-6 -6 12 12" markerWidth="12" markerHeight="12" markerUnits="userSpaceOnUse" refX="0" refY="0" overflow="visible"><path d="M0-6.2L6.1 0 0 6.2-6.1 0z" fill="#3c9e66" fill-opacity="0.62" stroke="#3c9e66" stroke-opacity="0.62" stroke-width="1"/></marker>
<marker id="m105" viewBox="-6 -6 12 12" markerWidth="12" markerHeight="12" markerUnits="userSpaceOnUse" refX="0" refY="0" overflow="visible"><path d="M0-6.2L6.1 0 0 6.2-6.1 0z" fill="#399c66" fill-opacity="0.62" stroke="#399c66" stroke-opacity="0.62" stroke-width="1"/></marker>
<marker id="m106" viewBox="-6 -6 12 12" markerWidth="12" markerHeight="12" markerUnits="userSpaceOnUse" refX="0" refY="0" overflow="visible"><path d="M0-6.2L6.1 0 0 6.2-6.1 0z" fill="#369b66" fill-opacity="0.62" stroke="#369b66" stroke-opacity="0.62" stroke-width="1"/></marker>
<marker id="m107" viewBox="-6 -6 12 12" markerWidth="12" markerHeight="12" markerUnits="userSpaceOnUse" refX="0" refY="0" overflow="visible"><path d="M0-6.2L6.1 0 0 6.2-6.1 0z" fill="#339966" fill-opacity="0.62" stroke="#339966" stroke-opacity="0.62" stroke-width="1"/></marker>
<marker id="m108" viewBox="-6 -6 12 12" markerWidth="12" markerHeight="12" markerUnits="userSpaceOnUse" refX="0" refY="0" overflow="visible"><path d="M0-6.2L6.1 0 0 6.2-6.1 0z" fill="#309766" fill-opacity="0.62" stroke="#309766" stroke-opacity="0.62" stroke-width="1"/></marker>
<marker id="m109" viewBox="-6 -6 12 12" markerWidth="12" markerHeight="12" markerUnits="userSpaceOnUse" refX="0" refY="0" overflow="visible"><path d="M0-6.2L6.1 0 0 6.2-6.1 0z" fill="#2d9666" fill-opacity="0.62" stroke="#2d9666" stroke-opacity="0.62" stroke-width="1"/></marker>
<marker id="m110" viewBox="-6 -6 12 12" markerWidth="12" markerHeight="12" markerUnits="userSpaceOnUse" refX="0" refY="0" overflow="visible"><path d="M0-6.2L6.1 0 0 6.2-6.1 0z" fill="#2a9466" fill-opacity="0.62" stroke="#2a9466" stroke-opacity="0.62" stroke-width="1"/></marker>
<marker id="m111" viewBox="-6 -6 12 12" markerWidth="12" markerHeight="12" markerUnits="userSpaceOnUse" refX="0" refY="0" overflow="visible"><path d="M0-6.2L6.1 0 0 6.2-6.1 0z" fill="#279366" fill-opacity="0.62" stroke="#279366" stroke-opacity="0.62" stroke-width="1"/></marker>
<marker id="m112" viewBox="-6 -6 12 12" markerWidth="12" markerHeight="12" markerUnits="userSpaceOnUse" refX="0" refY="0" overflow="visible"><path d="M0-6.2L6.1 0 0 6.2-6.1 0z" fill="#249166" fill-opacity="0.62" stroke="#249166" stroke-opacity="0.62" stroke-width="1"/></marker>
<marker id="m113" viewBox="-6 -6 12 12" markerWidth="12" markerHeight="12" markerUnits="userSpaceOnUse" refX="0" refY="0" overflow="visible"><path d="M0-6.2L6.1 0 0 6.2-6.1 0z" fill="#219066" fill-opacity="0.62" stroke="#219066" stroke-opacity="0.62" stroke-width="1"/></marker>
<marker id="m114" viewBox="-6 -6 12 12" markerWidth="12" markerHeight="12" markerUnits="userSpaceOnUse" refX="0" refY="0" overflow="visible"><path d="M0-6.2L6.1 0 0 6.2-6.1 0z" fill="#1e8e66" fill-opacity="0.62" stroke="#1e8e66" stroke-opacity="0.62" stroke-width="1"/></marker>
<marker id="m115" viewBox="-6 -6 12 12" markerWidth="12" markerHeight="12" markerUnits="userSpaceOnUse" refX="0" refY="0" overflow="visible"><path d="M0-6.2L6.1 0 0 6.2-6.1 0z" fill="#1b8d66" fill-opacity="0.62" stroke="#1b8d66" stroke-opacity="0.62" stroke-width="1"/></marker>
<marker id="m116" viewBox="-6 -6 12 12" markerWidth="12" markerHeight="12" markerUnits="userSpaceOnUse" refX="0" refY="0" overflow="visible"><path d="M0-6.2L6.1 0 0 6.2-6.1 0z" fill="#178b66" fill-opacity="0.62" stroke="#178b66" stroke-opacity="0.62" stroke-width="1"/></marker>
<marker id="m117" viewBox="-6 -6 12 12" markerWidth="12" markerHeight="12" markerUnits="userSpaceOnUse" refX="0" refY="0" overflow="visible"><path d="M0-6.2L6.1 0 0 6.2-6.1 0z" fill="#148a66" fill-opacity="0.62" stroke="#148a66" stroke-opacity="0.62" stroke-width="1"/></marker>
<marker id="m118" viewBox="-6 -6 12 12" markerWidth="12" markerHeight="12" markerUnits="userSpaceOnUse" refX="0" refY="0" overflow="visible"><path d="M0-6.2L6.1 0 0 6.2-6.1 0z" fill="#118866" fill-opacity="0.62" stroke="#118866" stroke-opacity="0.62" stroke-width="1"/></marker>
<marker id="m119" viewBox="-6 -6 12 12" markerWidth="12" markerHeight="12" markerUnits="userSpaceOnUse" refX="0" refY="0" overflow="visible"><path d="M0-6.2L6.1 0 0 6.2-6.1 0z" fill="#0e8766" fill-opacity="0.62" stroke="#0e8766" stroke-opacity="0.62" stroke-width="1"/></marker>
<marker id="m120" viewBox="-6 -6 12 12" markerWidth="12" markerHeight="12" markerUnits="userSpaceOnUse" refX="0" refY="0" overflow="visible"><path d="M0-6.2L6.1 0 0 6.2-6.1 0z" fill="#0b8566" fill-opacity="0.62" stroke="#0b8566" stroke-opacity="0.62" stroke-width="1"/></marker>
<marker id="m121" viewBox="-6 -6 12 12" markerWidth="12" markerHeight="12" markerUnits="userSpaceOnUse" refX="0" refY="0" overflow="visible"><path d="M0-6.2L6.1 0 0 6.2-6.1 0z" fill="#088466" fill-opacity="0.62" stroke="#088466" stroke-opacity="0.62" stroke-width="1"/></marker>
<marker id="m122" viewBox="-6 -6 12 12" markerWidth="12" markerHeight="12" markerUnits="userSpaceOnUse" refX="0" refY="0" overflow="visible"><path d="M0-6.2L6.1 0 0 6.2-6.1 0z" fill="#058266" fill-opacity="0.62" stroke="#058266" stroke-opacity="0.62" stroke-width="1"/></marker>
<clipPath id="cld"><rect x="833.0" y="664.9" width="590.3" height="469.7"/></clipPath>
<marker id="m123" viewBox="-6 -6 12 12" markerWidth="12" markerHeight="12" markerUnits="userSpaceOnUse" refX="0" refY="0" overflow="visible"><path d="M0-6.2L6.1 0 0 6.2-6.1 0z" fill="#00a6ac" fill-opacity="0.62" stroke="#00a6ac" stroke-opacity="0.62" stroke-width="1"/></marker>
<marker id="m124" viewBox="-6 -6 12 12" markerWidth="12" markerHeight="12" markerUnits="userSpaceOnUse" refX="0" refY="0" overflow="visible"><path d="M0-6.2L6.1 0 0 6.2-6.1 0z" fill="#00a3ae" fill-opacity="0.62" stroke="#00a3ae" stroke-opacity="0.62" stroke-width="1"/></marker>
<marker id="m125" viewBox="-6 -6 12 12" markerWidth="12" markerHeight="12" markerUnits="userSpaceOnUse" refX="0" refY="0" overflow="visible"><path d="M0-6.2L6.1 0 0 6.2-6.1 0z" fill="#009faf" fill-opacity="0.62" stroke="#009faf" stroke-opacity="0.62" stroke-width="1"/></marker>
<marker id="m126" viewBox="-6 -6 12 12" markerWidth="12" markerHeight="12" markerUnits="userSpaceOnUse" refX="0" refY="0" overflow="visible"><path d="M0-6.2L6.1 0 0 6.2-6.1 0z" fill="#009cb1" fill-opacity="0.62" stroke="#009cb1" stroke-opacity="0.62" stroke-width="1"/></marker>
<marker id="m127" viewBox="-6 -6 12 12" markerWidth="12" markerHeight="12" markerUnits="userSpaceOnUse" refX="0" refY="0" overflow="visible"><path d="M0-6.2L6.1 0 0 6.2-6.1 0z" fill="#0099b2" fill-opacity="0.62" stroke="#0099b2" stroke-opacity="0.62" stroke-width="1"/></marker>
<marker id="m128" viewBox="-6 -6 12 12" markerWidth="12" markerHeight="12" markerUnits="userSpaceOnUse" refX="0" refY="0" overflow="visible"><path d="M0-6.2L6.1 0 0 6.2-6.1 0z" fill="#0096b4" fill-opacity="0.62" stroke="#0096b4" stroke-opacity="0.62" stroke-width="1"/></marker>
<marker id="m129" viewBox="-6 -6 12 12" markerWidth="12" markerHeight="12" markerUnits="userSpaceOnUse" refX="0" refY="0" overflow="visible"><path d="M0-6.2L6.1 0 0 6.2-6.1 0z" fill="#0093b6" fill-opacity="0.62" stroke="#0093b6" stroke-opacity="0.62" stroke-width="1"/></marker>
<marker id="m130" viewBox="-6 -6 12 12" markerWidth="12" markerHeight="12" markerUnits="userSpaceOnUse" refX="0" refY="0" overflow="visible"><path d="M0-6.2L6.1 0 0 6.2-6.1 0z" fill="#008fb7" fill-opacity="0.62" stroke="#008fb7" stroke-opacity="0.62" stroke-width="1"/></marker>
<marker id="m131" viewBox="-6 -6 12 12" markerWidth="12" markerHeight="12" markerUnits="userSpaceOnUse" refX="0" refY="0" overflow="visible"><path d="M0-6.2L6.1 0 0 6.2-6.1 0z" fill="#008cb9" fill-opacity="0.62" stroke="#008cb9" stroke-opacity="0.62" stroke-width="1"/></marker>
<marker id="m132" viewBox="-6 -6 12 12" markerWidth="12" markerHeight="12" markerUnits="userSpaceOnUse" refX="0" refY="0" overflow="visible"><path d="M0-6.2L6.1 0 0 6.2-6.1 0z" fill="#0089ba" fill-opacity="0.62" stroke="#0089ba" stroke-opacity="0.62" stroke-width="1"/></marker>
<marker id="m133" viewBox="-6 -6 12 12" markerWidth="12" markerHeight="12" markerUnits="userSpaceOnUse" refX="0" refY="0" overflow="visible"><path d="M0-6.2L6.1 0 0 6.2-6.1 0z" fill="#0086bc" fill-opacity="0.62" stroke="#0086bc" stroke-opacity="0.62" stroke-width="1"/></marker>
<marker id="m134" viewBox="-6 -6 12 12" markerWidth="12" markerHeight="12" markerUnits="userSpaceOnUse" refX="0" refY="0" overflow="visible"><path d="M0-6.2L6.1 0 0 6.2-6.1 0z" fill="#0083be" fill-opacity="0.62" stroke="#0083be" stroke-opacity="0.62" stroke-width="1"/></marker>
<marker id="m135" viewBox="-6 -6 12 12" markerWidth="12" markerHeight="12" markerUnits="userSpaceOnUse" refX="0" refY="0" overflow="visible"><path d="M0-6.2L6.1 0 0 6.2-6.1 0z" fill="#0080bf" fill-opacity="0.62" stroke="#0080bf" stroke-opacity="0.62" stroke-width="1"/></marker>
<marker id="m136" viewBox="-6 -6 12 12" markerWidth="12" markerHeight="12" markerUnits="userSpaceOnUse" refX="0" refY="0" overflow="visible"><path d="M0-6.2L6.1 0 0 6.2-6.1 0z" fill="#007cc1" fill-opacity="0.62" stroke="#007cc1" stroke-opacity="0.62" stroke-width="1"/></marker>
<marker id="m137" viewBox="-6 -6 12 12" markerWidth="12" markerHeight="12" markerUnits="userSpaceOnUse" refX="0" refY="0" overflow="visible"><path d="M0-6.2L6.1 0 0 6.2-6.1 0z" fill="#0079c2" fill-opacity="0.62" stroke="#0079c2" stroke-opacity="0.62" stroke-width="1"/></marker>
<marker id="m138" viewBox="-6 -6 12 12" markerWidth="12" markerHeight="12" markerUnits="userSpaceOnUse" refX="0" refY="0" overflow="visible"><path d="M0-6.2L6.1 0 0 6.2-6.1 0z" fill="#0076c4" fill-opacity="0.62" stroke="#0076c4" stroke-opacity="0.62" stroke-width="1"/></marker>
<marker id="m139" viewBox="-6 -6 12 12" markerWidth="12" markerHeight="12" markerUnits="userSpaceOnUse" refX="0" refY="0" overflow="visible"><path d="M0-6.2L6.1 0 0 6.2-6.1 0z" fill="#0073c6" fill-opacity="0.62" stroke="#0073c6" stroke-opacity="0.62" stroke-width="1"/></marker>
<marker id="m140" viewBox="-6 -6 12 12" markerWidth="12" markerHeight="12" markerUnits="userSpaceOnUse" refX="0" refY="0" overflow="visible"><path d="M0-6.2L6.1 0 0 6.2-6.1 0z" fill="#0070c7" fill-opacity="0.62" stroke="#0070c7" stroke-opacity="0.62" stroke-width="1"/></marker>
<marker id="m141" viewBox="-6 -6 12 12" markerWidth="12" markerHeight="12" markerUnits="userSpaceOnUse" refX="0" refY="0" overflow="visible"><path d="M0-6.2L6.1 0 0 6.2-6.1 0z" fill="#006cc9" fill-opacity="0.62" stroke="#006cc9" stroke-opacity="0.62" stroke-width="1"/></marker>
<marker id="m142" viewBox="-6 -6 12 12" markerWidth="12" markerHeight="12" markerUnits="userSpaceOnUse" refX="0" refY="0" overflow="visible"><path d="M0-6.2L6.1 0 0 6.2-6.1 0z" fill="#0069ca" fill-opacity="0.62" stroke="#0069ca" stroke-opacity="0.62" stroke-width="1"/></marker>
<marker id="m143" viewBox="-6 -6 12 12" markerWidth="12" markerHeight="12" markerUnits="userSpaceOnUse" refX="0" refY="0" overflow="visible"><path d="M0-6.2L6.1 0 0 6.2-6.1 0z" fill="#0066cc" fill-opacity="0.62" stroke="#0066cc" stroke-opacity="0.62" stroke-width="1"/></marker>
<marker id="m144" viewBox="-6 -6 12 12" markerWidth="12" markerHeight="12" markerUnits="userSpaceOnUse" refX="0" refY="0" overflow="visible"><path d="M0-6.2L6.1 0 0 6.2-6.1 0z" fill="#0063ce" fill-opacity="0.62" stroke="#0063ce" stroke-opacity="0.62" stroke-width="1"/></marker>
<marker id="m145" viewBox="-6 -6 12 12" markerWidth="12" markerHeight="12" markerUnits="userSpaceOnUse" refX="0" refY="0" overflow="visible"><path d="M0-6.2L6.1 0 0 6.2-6.1 0z" fill="#0060cf" fill-opacity="0.62" stroke="#0060cf" stroke-opacity="0.62" stroke-width="1"/></marker>
<marker id="m146" viewBox="-6 -6 12 12" markerWidth="12" markerHeight="12" markerUnits="userSpaceOnUse" refX="0" refY="0" overflow="visible"><path d="M0-6.2L6.1 0 0 6.2-6.1 0z" fill="#005cd1" fill-opacity="0.62" stroke="#005cd1" stroke-opacity="0.62" stroke-width="1"/></marker>
<marker id="m147" viewBox="-6 -6 12 12" markerWidth="12" markerHeight="12" markerUnits="userSpaceOnUse" refX="0" refY="0" overflow="visible"><path d="M0-6.2L6.1 0 0 6.2-6.1 0z" fill="#0059d2" fill-opacity="0.62" stroke="#0059d2" stroke-opacity="0.62" stroke-width="1"/></marker>
<marker id="m148" viewBox="-6 -6 12 12" markerWidth="12" markerHeight="12" markerUnits="userSpaceOnUse" refX="0" refY="0" overflow="visible"><path d="M0-6.2L6.1 0 0 6.2-6.1 0z" fill="#0056d4" fill-opacity="0.62" stroke="#0056d4" stroke-opacity="0.62" stroke-width="1"/></marker>
<marker id="m149" viewBox="-6 -6 12 12" markerWidth="12" markerHeight="12" markerUnits="userSpaceOnUse" refX="0" refY="0" overflow="visible"><path d="M0-6.2L6.1 0 0 6.2-6.1 0z" fill="#0053d6" fill-opacity="0.62" stroke="#0053d6" stroke-opacity="0.62" stroke-width="1"/></marker>
<marker id="m150" viewBox="-6 -6 12 12" markerWidth="12" markerHeight="12" markerUnits="userSpaceOnUse" refX="0" refY="0" overflow="visible"><path d="M0-6.2L6.1 0 0 6.2-6.1 0z" fill="#0050d7" fill-opacity="0.62" stroke="#0050d7" stroke-opacity="0.62" stroke-width="1"/></marker>
<marker id="m151" viewBox="-6 -6 12 12" markerWidth="12" markerHeight="12" markerUnits="userSpaceOnUse" refX="0" refY="0" overflow="visible"><path d="M0-6.2L6.1 0 0 6.2-6.1 0z" fill="#004dd9" fill-opacity="0.62" stroke="#004dd9" stroke-opacity="0.62" stroke-width="1"/></marker>
<marker id="m152" viewBox="-6 -6 12 12" markerWidth="12" markerHeight="12" markerUnits="userSpaceOnUse" refX="0" refY="0" overflow="visible"><path d="M0-6.2L6.1 0 0 6.2-6.1 0z" fill="#0049da" fill-opacity="0.62" stroke="#0049da" stroke-opacity="0.62" stroke-width="1"/></marker>
<marker id="m153" viewBox="-6 -6 12 12" markerWidth="12" markerHeight="12" markerUnits="userSpaceOnUse" refX="0" refY="0" overflow="visible"><path d="M0-6.2L6.1 0 0 6.2-6.1 0z" fill="#0046dc" fill-opacity="0.62" stroke="#0046dc" stroke-opacity="0.62" stroke-width="1"/></marker>
<marker id="m154" viewBox="-6 -6 12 12" markerWidth="12" markerHeight="12" markerUnits="userSpaceOnUse" refX="0" refY="0" overflow="visible"><path d="M0-6.2L6.1 0 0 6.2-6.1 0z" fill="#0043de" fill-opacity="0.62" stroke="#0043de" stroke-opacity="0.62" stroke-width="1"/></marker>
<marker id="m155" viewBox="-6 -6 12 12" markerWidth="12" markerHeight="12" markerUnits="userSpaceOnUse" refX="0" refY="0" overflow="visible"><path d="M0-6.2L6.1 0 0 6.2-6.1 0z" fill="#0040df" fill-opacity="0.62" stroke="#0040df" stroke-opacity="0.62" stroke-width="1"/></marker>
<marker id="m156" viewBox="-6 -6 12 12" markerWidth="12" markerHeight="12" markerUnits="userSpaceOnUse" refX="0" refY="0" overflow="visible"><path d="M0-6.2L6.1 0 0 6.2-6.1 0z" fill="#003de1" fill-opacity="0.62" stroke="#003de1" stroke-opacity="0.62" stroke-width="1"/></marker>
<marker id="m157" viewBox="-6 -6 12 12" markerWidth="12" markerHeight="12" markerUnits="userSpaceOnUse" refX="0" refY="0" overflow="visible"><path d="M0-6.2L6.1 0 0 6.2-6.1 0z" fill="#0039e2" fill-opacity="0.62" stroke="#0039e2" stroke-opacity="0.62" stroke-width="1"/></marker>
<marker id="m158" viewBox="-6 -6 12 12" markerWidth="12" markerHeight="12" markerUnits="userSpaceOnUse" refX="0" refY="0" overflow="visible"><path d="M0-6.2L6.1 0 0 6.2-6.1 0z" fill="#0036e4" fill-opacity="0.62" stroke="#0036e4" stroke-opacity="0.62" stroke-width="1"/></marker>
<marker id="m159" viewBox="-6 -6 12 12" markerWidth="12" markerHeight="12" markerUnits="userSpaceOnUse" refX="0" refY="0" overflow="visible"><path d="M0-6.2L6.1 0 0 6.2-6.1 0z" fill="#0033e6" fill-opacity="0.62" stroke="#0033e6" stroke-opacity="0.62" stroke-width="1"/></marker>
<marker id="m160" viewBox="-6 -6 12 12" markerWidth="12" markerHeight="12" markerUnits="userSpaceOnUse" refX="0" refY="0" overflow="visible"><path d="M0-6.2L6.1 0 0 6.2-6.1 0z" fill="#0030e7" fill-opacity="0.62" stroke="#0030e7" stroke-opacity="0.62" stroke-width="1"/></marker>
<marker id="m161" viewBox="-6 -6 12 12" markerWidth="12" markerHeight="12" markerUnits="userSpaceOnUse" refX="0" refY="0" overflow="visible"><path d="M0-6.2L6.1 0 0 6.2-6.1 0z" fill="#002de9" fill-opacity="0.62" stroke="#002de9" stroke-opacity="0.62" stroke-width="1"/></marker>
<marker id="m162" viewBox="-6 -6 12 12" markerWidth="12" markerHeight="12" markerUnits="userSpaceOnUse" refX="0" refY="0" overflow="visible"><path d="M0-6.2L6.1 0 0 6.2-6.1 0z" fill="#0029ea" fill-opacity="0.62" stroke="#0029ea" stroke-opacity="0.62" stroke-width="1"/></marker>
<marker id="m163" viewBox="-6 -6 12 12" markerWidth="12" markerHeight="12" markerUnits="userSpaceOnUse" refX="0" refY="0" overflow="visible"><path d="M0-6.2L6.1 0 0 6.2-6.1 0z" fill="#0026ec" fill-opacity="0.62" stroke="#0026ec" stroke-opacity="0.62" stroke-width="1"/></marker>
<linearGradient id="lg" x1="0" x2="1" y1="0" y2="0"><stop offset="0" stop-color="#6e0025"/><stop offset="1" stop-color="#e8000c"/></linearGradient></defs>
<rect width="1450" height="1207" fill="#fff"/>
<rect x="221.0" y="55.5" width="397.0" height="468.5" fill="#e9f1f9"/>
<path d="M105.50 524.00V511.00M223.50 524.00V511.00M341.50 524.00V511.00M459.50 524.00V511.00M577.50 524.00V511.00M695.50 524.00V511.00M105.50 512.30H118.50M105.50 423.50H118.50M105.50 334.70H118.50M105.50 245.90H118.50M105.50 157.10H118.50M105.50 68.30H118.50" stroke="#000" stroke-width="5.2" fill="none"/>
<g clip-path="url(#cla)" fill="none" stroke-width="2.9" stroke-linejoin="round" stroke-opacity="0.65">
<polyline points="82,510 106,510 129,510 153,510 176,510 200,510 224,510 247,510 271,510 294,510 318,510 342,510 365,68 389,68 412,68 436,68 460,68 483,68 507,68 530,68 554,68 578,68 601,68 625,68 648,68 672,68 696,68 719,68" stroke="#4e0000" marker-start="url(#m0)" marker-mid="url(#m0)" marker-end="url(#m0)"/>
<polyline points="82,510 106,510 129,510 153,510 176,510 200,510 224,510 247,510 271,486 294,365 318,205 342,193 365,158 389,129 412,96 436,75 460,69 483,70 507,71 530,69 554,71 578,69 601,68 625,70 648,72 672,69 696,71 719,71" stroke="#540000" marker-start="url(#m1)" marker-mid="url(#m1)" marker-end="url(#m1)"/>
<polyline points="82,510 106,510 129,510 153,510 176,510 200,510 224,510 247,510 271,510 294,397 318,207 342,183 365,144 389,116 412,99 436,86 460,68 483,69 507,75 530,71 554,68 578,68 601,69 625,71 648,69 672,71 696,73 719,70" stroke="#5b0000" marker-start="url(#m2)" marker-mid="url(#m2)" marker-end="url(#m2)"/>
<polyline points="82,510 106,510 129,510 153,510 176,510 200,510 224,510 247,510 271,485 294,348 318,204 342,193 365,184 389,146 412,106 436,80 460,70 483,69 507,69 530,69 554,71 578,70 601,72 625,70 648,72 672,68 696,71 719,70" stroke="#5b0000" marker-start="url(#m2)" marker-mid="url(#m2)" marker-end="url(#m2)"/>
<polyline points="82,510 106,510 129,510 153,510 176,510 200,510 224,510 247,510 271,491 294,343 318,206 342,196 365,170 389,136 412,105 436,74 460,69 483,73 507,69 530,70 554,69 578,70 601,71 625,69 648,70 672,68 696,69 719,73" stroke="#620000" marker-start="url(#m3)" marker-mid="url(#m3)" marker-end="url(#m3)"/>
<polyline points="82,510 106,510 129,510 153,510 176,510 200,510 224,510 247,510 271,464 294,315 318,204 342,191 365,187 389,149 412,112 436,88 460,69 483,73 507,69 530,70 554,69 578,70 601,70 625,71 648,71 672,69 696,68 719,69" stroke="#680000" marker-start="url(#m4)" marker-mid="url(#m4)" marker-end="url(#m4)"/>
<polyline points="82,510 106,510 129,510 153,510 176,510 200,510 224,510 247,510 271,465 294,329 318,204 342,189 365,185 389,157 412,125 436,88 460,74 483,69 507,69 530,71 554,69 578,68 601,69 625,70 648,71 672,70 696,70 719,69" stroke="#680000" marker-start="url(#m4)" marker-mid="url(#m4)" marker-end="url(#m4)"/>
<polyline points="82,510 106,510 129,510 153,510 176,510 200,510 224,510 247,510 271,464 294,325 318,206 342,201 365,183 389,177 412,142 436,107 460,77 483,70 507,70 530,69 554,69 578,70 601,70 625,70 648,69 672,69 696,69 719,68" stroke="#6f0000" marker-start="url(#m5)" marker-mid="url(#m5)" marker-end="url(#m5)"/>
<polyline points="82,510 106,510 129,510 153,510 176,510 200,510 224,510 247,510 271,493 294,344 318,202 342,192 365,190 389,175 412,142 436,107 460,78 483,68 507,70 530,71 554,73 578,69 601,69 625,73 648,70 672,70 696,70 719,71" stroke="#6f0000" marker-start="url(#m5)" marker-mid="url(#m5)" marker-end="url(#m5)"/>
<polyline points="82,510 106,510 129,510 153,510 176,510 200,510 224,510 247,510 271,475 294,323 318,201 342,184 365,184 389,178 412,139 436,109 460,86 483,74 507,71 530,69 554,69 578,72 601,69 625,70 648,70 672,68 696,70 719,69" stroke="#760000" marker-start="url(#m6)" marker-mid="url(#m6)" marker-end="url(#m6)"/>
<polyline points="82,510 106,510 129,510 153,510 176,510 200,510 224,510 247,510 271,458 294,319 318,204 342,197 365,181 389,173 412,173 436,124 460,88 483,70 507,70 530,68 554,71 578,69 601,69 625,72 648,69 672,70 696,72 719,70" stroke="#760000" marker-start="url(#m6)" marker-mid="url(#m6)" marker-end="url(#m6)"/>
<polyline points="82,510 106,510 129,510 153,510 176,510 200,510 224,510 247,510 271,480 294,315 318,210 342,190 365,193 389,182 412,166 436,130 460,88 483,71 507,69 530,69 554,69 578,69 601,70 625,69 648,72 672,70 696,68 719,74" stroke="#7c0000" marker-start="url(#m7)" marker-mid="url(#m7)" marker-end="url(#m7)"/>
<polyline points="82,510 106,510 129,510 153,510 176,510 200,510 224,510 247,510 271,461 294,290 318,206 342,196 365,186 389,175 412,158 436,123 460,96 483,74 507,70 530,72 554,68 578,69 601,71 625,72 648,70 672,69 696,71 719,71" stroke="#7c0000" marker-start="url(#m7)" marker-mid="url(#m7)" marker-end="url(#m7)"/>
<polyline points="82,510 106,510 129,510 153,510 176,510 200,510 224,510 247,510 271,435 294,297 318,201 342,199 365,182 389,175 412,175 436,135 460,100 483,73 507,69 530,73 554,69 578,70 601,69 625,73 648,72 672,68 696,68 719,70" stroke="#830000" marker-start="url(#m8)" marker-mid="url(#m8)" marker-end="url(#m8)"/>
<polyline points="82,510 106,510 129,510 153,510 176,510 200,510 224,510 247,510 271,418 294,276 318,209 342,198 365,194 389,181 412,156 436,129 460,97 483,69 507,70 530,70 554,71 578,69 601,69 625,68 648,71 672,71 696,69 719,69" stroke="#830000" marker-start="url(#m8)" marker-mid="url(#m8)" marker-end="url(#m8)"/>
<polyline points="82,510 106,510 129,510 153,510 176,510 200,510 224,510 247,510 271,437 294,298 318,206 342,191 365,184 389,181 412,165 436,129 460,93 483,69 507,70 530,72 554,70 578,74 601,69 625,69 648,69 672,70 696,73 719,69" stroke="#8a0000" marker-start="url(#m9)" marker-mid="url(#m9)" marker-end="url(#m9)"/>
<polyline points="82,510 106,510 129,510 153,510 176,510 200,510 224,510 247,510 271,428 294,257 318,203 342,191 365,185 389,189 412,170 436,135 460,98 483,78 507,71 530,69 554,69 578,69 601,72 625,69 648,70 672,70 696,70 719,69" stroke="#8a0000" marker-start="url(#m9)" marker-mid="url(#m9)" marker-end="url(#m9)"/>
<polyline points="82,510 106,510 129,510 153,510 176,510 200,510 224,510 247,510 271,443 294,287 318,200 342,197 365,186 389,178 412,169 436,138 460,98 483,76 507,70 530,69 554,68 578,70 601,71 625,71 648,71 672,71 696,71 719,71" stroke="#900000" marker-start="url(#m10)" marker-mid="url(#m10)" marker-end="url(#m10)"/>
<polyline points="82,510 106,510 129,510 153,510 176,510 200,510 224,510 247,510 271,420 294,250 318,200 342,195 365,194 389,184 412,175 436,153 460,118 483,83 507,68 530,70 554,70 578,72 601,69 625,69 648,69 672,72 696,69 719,70" stroke="#900000" marker-start="url(#m10)" marker-mid="url(#m10)" marker-end="url(#m10)"/>
<polyline points="82,510 106,510 129,510 153,510 176,510 200,510 224,510 247,505 271,404 294,244 318,210 342,198 365,189 389,186 412,168 436,148 460,119 483,88 507,69 530,69 554,72 578,69 601,73 625,70 648,74 672,70 696,68 719,68" stroke="#970000" marker-start="url(#m11)" marker-mid="url(#m11)" marker-end="url(#m11)"/>
<polyline points="82,510 106,510 129,510 153,510 176,510 200,510 224,510 247,510 271,443 294,273 318,213 342,202 365,186 389,181 412,172 436,162 460,129 483,94 507,73 530,70 554,69 578,70 601,69 625,69 648,69 672,71 696,69 719,69" stroke="#970000" marker-start="url(#m11)" marker-mid="url(#m11)" marker-end="url(#m11)"/>
<polyline points="82,510 106,510 129,510 153,510 176,510 200,510 224,510 247,508 271,409 294,258 318,208 342,197 365,188 389,175 412,169 436,165 460,138 483,112 507,77 530,69 554,70 578,70 601,69 625,70 648,70 672,70 696,71 719,71" stroke="#9e0000" marker-start="url(#m12)" marker-mid="url(#m12)" marker-end="url(#m12)"/>
<polyline points="82,510 106,510 129,510 153,510 176,510 200,510 224,510 247,510 271,434 294,261 318,209 342,204 365,190 389,178 412,173 436,164 460,146 483,104 507,78 530,71 554,70 578,71 601,68 625,69 648,75 672,71 696,70 719,70" stroke="#9e0000" marker-start="url(#m12)" marker-mid="url(#m12)" marker-end="url(#m12)"/>
<polyline points="82,510 106,510 129,510 153,510 176,510 200,510 224,510 247,510 271,420 294,260 318,208 342,192 365,187 389,181 412,171 436,166 460,129 483,103 507,76 530,73 554,71 578,70 601,69 625,69 648,69 672,71 696,70 719,70" stroke="#9e0000" marker-start="url(#m12)" marker-mid="url(#m12)" marker-end="url(#m12)"/>
<polyline points="82,510 106,510 129,510 153,510 176,510 200,510 224,510 247,510 271,423 294,278 318,206 342,197 365,193 389,175 412,171 436,163 460,126 483,97 507,70 530,72 554,71 578,71 601,71 625,71 648,68 672,71 696,71 719,69" stroke="#a50000" marker-start="url(#m13)" marker-mid="url(#m13)" marker-end="url(#m13)"/>
<polyline points="82,510 106,510 129,510 153,510 176,510 200,510 224,510 247,510 271,425 294,269 318,203 342,201 365,192 389,179 412,164 436,167 460,162 483,122 507,95 530,71 554,69 578,70 601,69 625,69 648,73 672,69 696,68 719,69" stroke="#a50000" marker-start="url(#m13)" marker-mid="url(#m13)" marker-end="url(#m13)"/>
<polyline points="82,510 106,510 129,510 153,510 176,510 200,510 224,510 247,504 271,393 294,226 318,208 342,198 365,190 389,183 412,170 436,163 460,161 483,128 507,92 530,69 554,70 578,72 601,69 625,69 648,71 672,68 696,73 719,70" stroke="#ab0000" marker-start="url(#m14)" marker-mid="url(#m14)" marker-end="url(#m14)"/>
<polyline points="82,510 106,510 129,510 153,510 176,510 200,510 224,510 247,510 271,422 294,241 318,207 342,197 365,189 389,186 412,173 436,169 460,151 483,104 507,84 530,72 554,70 578,69 601,69 625,74 648,69 672,68 696,71 719,71" stroke="#ab0000" marker-start="url(#m14)" marker-mid="url(#m14)" marker-end="url(#m14)"/>
<polyline points="82,510 106,510 129,510 153,510 176,510 200,510 224,510 247,493 271,384 294,233 318,206 342,198 365,185 389,187 412,176 436,168 460,160 483,134 507,94 530,69 554,71 578,73 601,72 625,73 648,71 672,70 696,69 719,70" stroke="#b20000" marker-start="url(#m15)" marker-mid="url(#m15)" marker-end="url(#m15)"/>
<polyline points="82,510 106,510 129,510 153,510 176,510 200,510 224,510 247,506 271,389 294,236 318,205 342,208 365,194 389,181 412,178 436,158 460,161 483,133 507,91 530,69 554,69 578,68 601,69 625,68 648,73 672,68 696,70 719,69" stroke="#b20000" marker-start="url(#m15)" marker-mid="url(#m15)" marker-end="url(#m15)"/>
<polyline points="82,510 106,510 129,510 153,510 176,510 200,510 224,510 247,503 271,383 294,223 318,209 342,197 365,186 389,175 412,175 436,166 460,159 483,146 507,110 530,73 554,69 578,70 601,68 625,70 648,70 672,70 696,69 719,68" stroke="#b20000" marker-start="url(#m15)" marker-mid="url(#m15)" marker-end="url(#m15)"/>
<polyline points="82,510 106,510 129,510 153,510 176,510 200,510 224,510 247,475 271,365 294,228 318,210 342,198 365,197 389,184 412,179 436,169 460,161 483,133 507,102 530,80 554,72 578,70 601,72 625,71 648,72 672,68 696,70 719,72" stroke="#b90000" marker-start="url(#m16)" marker-mid="url(#m16)" marker-end="url(#m16)"/>
<polyline points="82,510 106,510 129,510 153,510 176,510 200,510 224,510 247,510 271,385 294,224 318,212 342,201 365,194 389,181 412,171 436,169 460,161 483,146 507,99 530,71 554,72 578,69 601,68 625,70 648,70 672,69 696,70 719,70" stroke="#b90000" marker-start="url(#m16)" marker-mid="url(#m16)" marker-end="url(#m16)"/>
<polyline points="82,510 106,510 129,510 153,510 176,510 200,510 224,510 247,477 271,360 294,225 318,212 342,200 365,188 389,183 412,173 436,166 460,159 483,137 507,105 530,71 554,69 578,69 601,70 625,68 648,71 672,70 696,69 719,73" stroke="#bf0000" marker-start="url(#m17)" marker-mid="url(#m17)" marker-end="url(#m17)"/>
<polyline points="82,510 106,510 129,510 153,510 176,510 200,510 224,510 247,484 271,373 294,234 318,209 342,200 365,191 389,184 412,170 436,172 460,163 483,152 507,110 530,81 554,72 578,70 601,73 625,68 648,70 672,70 696,69 719,70" stroke="#bf0000" marker-start="url(#m17)" marker-mid="url(#m17)" marker-end="url(#m17)"/>
<polyline points="82,510 106,510 129,510 153,510 176,510 200,510 224,510 247,507 271,392 294,230 318,204 342,202 365,190 389,177 412,173 436,163 460,156 483,150 507,115 530,75 554,70 578,73 601,68 625,69 648,70 672,74 696,68 719,69" stroke="#bf0000" marker-start="url(#m17)" marker-mid="url(#m17)" marker-end="url(#m17)"/>
<polyline points="82,510 106,510 129,510 153,510 176,510 200,510 224,510 247,486 271,383 294,233 318,209 342,195 365,190 389,180 412,172 436,170 460,161 483,154 507,117 530,89 554,68 578,71 601,68 625,71 648,69 672,72 696,72 719,71" stroke="#c60000" marker-start="url(#m18)" marker-mid="url(#m18)" marker-end="url(#m18)"/>
<polyline points="82,510 106,510 129,510 153,510 176,510 200,510 224,510 247,492 271,379 294,226 318,206 342,199 365,195 389,186 412,178 436,169 460,162 483,158 507,136 530,90 554,68 578,68 601,71 625,72 648,72 672,71 696,71 719,72" stroke="#c60000" marker-start="url(#m18)" marker-mid="url(#m18)" marker-end="url(#m18)"/>
<polyline points="82,510 106,510 129,510 153,510 176,510 200,510 224,510 247,480 271,360 294,231 318,215 342,198 365,192 389,184 412,177 436,166 460,158 483,152 507,112 530,89 554,69 578,69 601,71 625,69 648,70 672,68 696,68 719,71" stroke="#cd0000" marker-start="url(#m19)" marker-mid="url(#m19)" marker-end="url(#m19)"/>
<polyline points="82,510 106,510 129,510 153,510 176,510 200,510 224,510 247,500 271,372 294,222 318,215 342,200 365,194 389,183 412,175 436,165 460,158 483,152 507,124 530,92 554,69 578,68 601,69 625,71 648,68 672,74 696,69 719,70" stroke="#cd0000" marker-start="url(#m19)" marker-mid="url(#m19)" marker-end="url(#m19)"/>
<polyline points="82,510 106,510 129,510 153,510 176,510 200,510 224,510 247,485 271,376 294,225 318,214 342,205 365,195 389,180 412,180 436,168 460,163 483,156 507,141 530,99 554,70 578,69 601,68 625,70 648,70 672,69 696,69 719,68" stroke="#cd0000" marker-start="url(#m19)" marker-mid="url(#m19)" marker-end="url(#m19)"/>
<polyline points="82,510 106,510 129,510 153,510 176,510 200,510 224,510 247,479 271,367 294,228 318,209 342,200 365,189 389,193 412,176 436,167 460,164 483,152 507,145 530,113 554,79 578,69 601,70 625,72 648,69 672,69 696,71 719,68" stroke="#d30000" marker-start="url(#m20)" marker-mid="url(#m20)" marker-end="url(#m20)"/>
<polyline points="82,510 106,510 129,510 153,510 176,510 200,510 224,510 247,467 271,351 294,226 318,210 342,201 365,194 389,185 412,176 436,174 460,161 483,155 507,146 530,117 554,79 578,68 601,69 625,71 648,73 672,68 696,72 719,73" stroke="#d30000" marker-start="url(#m20)" marker-mid="url(#m20)" marker-end="url(#m20)"/>
<polyline points="82,510 106,510 129,510 153,510 176,510 200,510 224,510 247,482 271,361 294,225 318,210 342,199 365,193 389,191 412,174 436,169 460,162 483,153 507,148 530,116 554,85 578,68 601,71 625,69 648,72 672,70 696,70 719,69" stroke="#da0000" marker-start="url(#m21)" marker-mid="url(#m21)" marker-end="url(#m21)"/>
<polyline points="82,510 106,510 129,510 153,510 176,510 200,510 224,510 247,474 271,356 294,226 318,211 342,205 365,198 389,184 412,179 436,170 460,163 483,152 507,141 530,114 554,81 578,70 601,75 625,73 648,72 672,71 696,73 719,72" stroke="#da0000" marker-start="url(#m21)" marker-mid="url(#m21)" marker-end="url(#m21)"/>
<polyline points="82,510 106,510 129,510 153,510 176,510 200,510 224,510 247,478 271,343 294,225 318,213 342,205 365,193 389,183 412,170 436,166 460,161 483,150 507,148 530,123 554,82 578,74 601,68 625,71 648,70 672,72 696,69 719,71" stroke="#da0000" marker-start="url(#m21)" marker-mid="url(#m21)" marker-end="url(#m21)"/>
<polyline points="82,510 106,510 129,510 153,510 176,510 200,510 224,510 247,484 271,346 294,222 318,207 342,201 365,193 389,180 412,174 436,169 460,160 483,153 507,145 530,110 554,87 578,70 601,69 625,70 648,73 672,71 696,72 719,73" stroke="#e10000" marker-start="url(#m22)" marker-mid="url(#m22)" marker-end="url(#m22)"/>
<polyline points="82,510 106,510 129,510 153,510 176,510 200,510 224,510 247,452 271,322 294,232 318,212 342,210 365,197 389,187 412,178 436,168 460,162 483,160 507,148 530,119 554,90 578,70 601,69 625,70 648,68 672,69 696,71 719,72" stroke="#e10000" marker-start="url(#m22)" marker-mid="url(#m22)" marker-end="url(#m22)"/>
<polyline points="82,510 106,510 129,510 153,510 176,510 200,510 224,510 247,480 271,334 294,223 318,211 342,202 365,193 389,191 412,173 436,171 460,159 483,152 507,147 530,123 554,98 578,69 601,70 625,72 648,68 672,71 696,70 719,68" stroke="#e10000" marker-start="url(#m22)" marker-mid="url(#m22)" marker-end="url(#m22)"/>
<polyline points="82,510 106,510 129,510 153,510 176,510 200,510 224,510 247,473 271,356 294,227 318,205 342,208 365,195 389,185 412,172 436,173 460,160 483,153 507,148 530,131 554,94 578,71 601,70 625,68 648,71 672,72 696,69 719,69" stroke="#e80000" marker-start="url(#m23)" marker-mid="url(#m23)" marker-end="url(#m23)"/>
<polyline points="82,510 106,510 129,510 153,510 176,510 200,510 224,510 247,456 271,330 294,219 318,209 342,203 365,196 389,183 412,170 436,167 460,159 483,151 507,149 530,134 554,101 578,70 601,69 625,70 648,71 672,69 696,70 719,70" stroke="#e80000" marker-start="url(#m23)" marker-mid="url(#m23)" marker-end="url(#m23)"/>
<polyline points="82,510 106,510 129,510 153,510 176,510 200,510 224,510 247,481 271,354 294,231 318,212 342,206 365,197 389,189 412,176 436,164 460,166 483,154 507,147 530,132 554,96 578,69 601,68 625,71 648,68 672,69 696,71 719,71" stroke="#ee0000" marker-start="url(#m24)" marker-mid="url(#m24)" marker-end="url(#m24)"/>
<polyline points="82,510 106,510 129,510 153,510 176,510 200,510 224,510 247,464 271,318 294,227 318,213 342,204 365,195 389,185 412,177 436,170 460,162 483,153 507,150 530,144 554,102 578,73 601,70 625,70 648,70 672,68 696,68 719,68" stroke="#ee0000" marker-start="url(#m24)" marker-mid="url(#m24)" marker-end="url(#m24)"/>
<polyline points="82,510 106,510 129,510 153,510 176,510 200,510 224,510 247,453 271,323 294,222 318,212 342,204 365,194 389,185 412,179 436,169 460,159 483,153 507,149 530,135 554,104 578,73 601,70 625,72 648,68 672,68 696,74 719,69" stroke="#ee0000" marker-start="url(#m24)" marker-mid="url(#m24)" marker-end="url(#m24)"/>
<polyline points="82,510 106,510 129,510 153,510 176,510 200,510 224,510 247,462 271,351 294,229 318,214 342,204 365,196 389,184 412,170 436,168 460,160 483,155 507,145 530,144 554,107 578,77 601,68 625,71 648,69 672,69 696,71 719,70" stroke="#f50000" marker-start="url(#m25)" marker-mid="url(#m25)" marker-end="url(#m25)"/>
<polyline points="82,510 106,510 129,510 153,510 176,510 200,510 224,510 247,456 271,334 294,224 318,215 342,202 365,199 389,188 412,177 436,170 460,157 483,158 507,150 530,135 554,106 578,80 601,70 625,69 648,70 672,70 696,73 719,69" stroke="#f50000" marker-start="url(#m25)" marker-mid="url(#m25)" marker-end="url(#m25)"/>
<polyline points="82,510 106,510 129,510 153,510 176,510 200,510 224,510 247,443 271,323 294,228 318,215 342,204 365,196 389,191 412,171 436,169 460,161 483,155 507,146 530,140 554,118 578,91 601,69 625,69 648,70 672,69 696,70 719,68" stroke="#f50000" marker-start="url(#m25)" marker-mid="url(#m25)" marker-end="url(#m25)"/>
<polyline points="82,510 106,510 129,510 153,510 176,510 200,510 224,510 247,456 271,313 294,227 318,209 342,204 365,195 389,183 412,180 436,166 460,162 483,157 507,145 530,138 554,118 578,85 601,71 625,71 648,69 672,69 696,69 719,69" stroke="#fc0000" marker-start="url(#m26)" marker-mid="url(#m26)" marker-end="url(#m26)"/>
<polyline points="82,510 106,510 129,510 153,510 176,510 200,510 224,510 247,451 271,340 294,232 318,211 342,208 365,200 389,185 412,177 436,169 460,159 483,157 507,142 530,138 554,126 578,92 601,69 625,70 648,70 672,70 696,69 719,70" stroke="#fc0000" marker-start="url(#m26)" marker-mid="url(#m26)" marker-end="url(#m26)"/>
<polyline points="82,510 106,510 129,510 153,510 176,510 200,510 224,510 247,442 271,327 294,229 318,212 342,204 365,195 389,191 412,171 436,171 460,163 483,151 507,147 530,143 554,133 578,95 601,70 625,71 648,68 672,69 696,70 719,71" stroke="#fc0000" marker-start="url(#m26)" marker-mid="url(#m26)" marker-end="url(#m26)"/>
<polyline points="82,510 106,510 129,510 153,510 176,510 200,510 224,510 247,457 271,326 294,227 318,211 342,206 365,197 389,186 412,172 436,174 460,163 483,156 507,147 530,139 554,119 578,82 601,73 625,71 648,68 672,68 696,71 719,72" stroke="#ff0300" marker-start="url(#m27)" marker-mid="url(#m27)" marker-end="url(#m27)"/>
<polyline points="82,510 106,510 129,510 153,510 176,510 200,510 224,510 247,449 271,332 294,228 318,213 342,206 365,197 389,187 412,177 436,167 460,157 483,155 507,153 530,141 554,135 578,102 601,69 625,69 648,70 672,70 696,69 719,69" stroke="#ff0300" marker-start="url(#m27)" marker-mid="url(#m27)" marker-end="url(#m27)"/>
<polyline points="82,510 106,510 129,510 153,510 176,510 200,510 224,510 247,457 271,325 294,227 318,214 342,207 365,199 389,190 412,178 436,170 460,165 483,157 507,151 530,142 554,125 578,90 601,69 625,70 648,68 672,68 696,68 719,69" stroke="#ff0a00" marker-start="url(#m28)" marker-mid="url(#m28)" marker-end="url(#m28)"/>
<polyline points="82,510 106,510 129,510 153,510 176,510 200,510 224,510 247,455 271,333 294,228 318,216 342,208 365,199 389,184 412,175 436,168 460,160 483,158 507,146 530,143 554,138 578,103 601,72 625,68 648,69 672,72 696,71 719,69" stroke="#ff0a00" marker-start="url(#m28)" marker-mid="url(#m28)" marker-end="url(#m28)"/>
<polyline points="82,510 106,510 129,510 153,510 176,510 200,510 224,510 247,443 271,292 294,224 318,207 342,208 365,199 389,189 412,179 436,173 460,168 483,156 507,146 530,144 554,128 578,96 601,74 625,73 648,72 672,71 696,69 719,70" stroke="#ff0a00" marker-start="url(#m28)" marker-mid="url(#m28)" marker-end="url(#m28)"/>
<polyline points="82,510 106,510 129,510 153,510 176,510 200,510 224,510 247,433 271,313 294,227 318,213 342,207 365,195 389,194 412,177 436,171 460,164 483,155 507,148 530,142 554,134 578,95 601,69 625,69 648,69 672,70 696,68 719,68" stroke="#ff1100" marker-start="url(#m29)" marker-mid="url(#m29)" marker-end="url(#m29)"/>
<polyline points="82,510 106,510 129,510 153,510 176,510 200,510 224,510 247,449 271,325 294,228 318,214 342,206 365,193 389,189 412,179 436,172 460,161 483,153 507,146 530,138 554,136 578,108 601,69 625,69 648,68 672,72 696,69 719,72" stroke="#ff1100" marker-start="url(#m29)" marker-mid="url(#m29)" marker-end="url(#m29)"/>
<polyline points="82,510 106,510 129,510 153,510 176,510 200,510 224,510 247,425 271,287 294,224 318,217 342,209 365,196 389,189 412,178 436,171 460,162 483,155 507,147 530,141 554,137 578,98 601,78 625,73 648,73 672,69 696,71 719,70" stroke="#ff1100" marker-start="url(#m29)" marker-mid="url(#m29)" marker-end="url(#m29)"/>
<polyline points="82,510 106,510 129,510 153,510 176,510 200,510 224,510 247,431 271,320 294,227 318,215 342,209 365,200 389,188 412,179 436,171 460,163 483,156 507,153 530,148 554,132 578,117 601,79 625,69 648,69 672,71 696,73 719,69" stroke="#ff1700" marker-start="url(#m30)" marker-mid="url(#m30)" marker-end="url(#m30)"/>
<polyline points="82,510 106,510 129,510 153,510 176,510 200,510 224,510 247,433 271,299 294,229 318,218 342,205 365,200 389,188 412,178 436,171 460,162 483,156 507,148 530,138 554,137 578,97 601,76 625,68 648,71 672,71 696,68 719,69" stroke="#ff1700" marker-start="url(#m30)" marker-mid="url(#m30)" marker-end="url(#m30)"/>
<polyline points="82,510 106,510 129,510 153,510 176,510 200,510 224,510 247,442 271,305 294,229 318,214 342,212 365,204 389,188 412,179 436,168 460,159 483,154 507,148 530,143 554,139 578,108 601,78 625,69 648,72 672,71 696,69 719,69" stroke="#ff1700" marker-start="url(#m30)" marker-mid="url(#m30)" marker-end="url(#m30)"/>
<polyline points="82,510 106,510 129,510 153,510 176,510 200,510 224,510 247,440 271,320 294,229 318,209 342,214 365,204 389,188 412,178 436,171 460,160 483,152 507,149 530,143 554,143 578,117 601,86 625,69 648,71 672,70 696,69 719,70" stroke="#ff1e00" marker-start="url(#m31)" marker-mid="url(#m31)" marker-end="url(#m31)"/>
<polyline points="82,510 106,510 129,510 153,510 176,510 200,510 224,510 247,434 271,289 294,234 318,218 342,210 365,199 389,194 412,180 436,172 460,163 483,151 507,151 530,141 554,136 578,101 601,72 625,72 648,70 672,72 696,72 719,71" stroke="#ff1e00" marker-start="url(#m31)" marker-mid="url(#m31)" marker-end="url(#m31)"/>
<polyline points="82,510 106,510 129,510 153,510 176,510 200,510 224,510 247,435 271,304 294,227 318,211 342,213 365,198 389,187 412,180 436,169 460,162 483,157 507,154 530,142 554,141 578,106 601,75 625,70 648,69 672,69 696,70 719,71" stroke="#ff1e00" marker-start="url(#m31)" marker-mid="url(#m31)" marker-end="url(#m31)"/>
<polyline points="82,510 106,510 129,510 153,510 176,510 200,510 224,510 247,426 271,296 294,227 318,214 342,211 365,197 389,189 412,180 436,171 460,166 483,155 507,152 530,143 554,142 578,109 601,78 625,69 648,71 672,72 696,68 719,71" stroke="#ff2500" marker-start="url(#m32)" marker-mid="url(#m32)" marker-end="url(#m32)"/>
<polyline points="82,510 106,510 129,510 153,510 176,510 200,510 224,510 247,425 271,299 294,231 318,214 342,211 365,204 389,189 412,179 436,170 460,164 483,155 507,148 530,141 554,131 578,122 601,86 625,71 648,70 672,72 696,69 719,72" stroke="#ff2500" marker-start="url(#m32)" marker-mid="url(#m32)" marker-end="url(#m32)"/>
<polyline points="82,510 106,510 129,510 153,510 176,510 200,510 224,509 247,422 271,302 294,229 318,210 342,211 365,199 389,187 412,179 436,173 460,159 483,157 507,151 530,145 554,133 578,122 601,88 625,69 648,71 672,70 696,72 719,69" stroke="#ff2500" marker-start="url(#m32)" marker-mid="url(#m32)" marker-end="url(#m32)"/>
<polyline points="82,510 106,510 129,510 153,510 176,510 200,510 224,510 247,408 271,262 294,227 318,216 342,210 365,200 389,192 412,176 436,172 460,166 483,158 507,147 530,146 554,140 578,122 601,87 625,68 648,72 672,70 696,71 719,70" stroke="#ff2b00" marker-start="url(#m33)" marker-mid="url(#m33)" marker-end="url(#m33)"/>
<polyline points="82,510 106,510 129,510 153,510 176,510 200,510 224,510 247,423 271,283 294,230 318,217 342,215 365,201 389,192 412,179 436,170 460,161 483,161 507,145 530,145 554,139 578,117 601,78 625,68 648,70 672,68 696,71 719,71" stroke="#ff2b00" marker-start="url(#m33)" marker-mid="url(#m33)" marker-end="url(#m33)"/>
<polyline points="82,510 106,510 129,510 153,510 176,510 200,510 224,510 247,423 271,281 294,230 318,216 342,211 365,201 389,192 412,176 436,168 460,164 483,154 507,153 530,146 554,136 578,114 601,84 625,70 648,68 672,68 696,69 719,74" stroke="#ff2b00" marker-start="url(#m33)" marker-mid="url(#m33)" marker-end="url(#m33)"/>
<polyline points="82,510 106,510 129,510 153,510 176,510 200,510 224,510 247,411 271,280 294,233 318,216 342,213 365,203 389,189 412,182 436,175 460,163 483,155 507,147 530,144 554,136 578,127 601,90 625,69 648,70 672,69 696,70 719,72" stroke="#ff3200" marker-start="url(#m34)" marker-mid="url(#m34)" marker-end="url(#m34)"/>
<polyline points="82,510 106,510 129,510 153,510 176,510 200,510 224,506 247,413 271,291 294,229 318,219 342,211 365,197 389,191 412,180 436,171 460,165 483,152 507,151 530,142 554,138 578,128 601,91 625,73 648,72 672,68 696,71 719,69" stroke="#ff3200" marker-start="url(#m34)" marker-mid="url(#m34)" marker-end="url(#m34)"/>
<polyline points="82,510 106,510 129,510 153,510 176,510 200,510 224,503 247,410 271,290 294,228 318,219 342,211 365,202 389,190 412,182 436,166 460,167 483,158 507,150 530,139 554,138 578,125 601,91 625,73 648,69 672,70 696,68 719,70" stroke="#ff3200" marker-start="url(#m34)" marker-mid="url(#m34)" marker-end="url(#m34)"/>
<polyline points="82,510 106,510 129,510 153,510 176,510 200,510 224,510 247,406 271,258 294,229 318,215 342,213 365,204 389,189 412,184 436,173 460,166 483,158 507,149 530,145 554,138 578,123 601,90 625,68 648,71 672,71 696,72 719,68" stroke="#ff3900" marker-start="url(#m35)" marker-mid="url(#m35)" marker-end="url(#m35)"/>
<polyline points="82,510 106,510 129,510 153,510 176,510 200,510 224,504 247,411 271,291 294,227 318,220 342,214 365,202 389,191 412,178 436,176 460,168 483,153 507,152 530,145 554,136 578,132 601,89 625,71 648,76 672,69 696,69 719,71" stroke="#ff3900" marker-start="url(#m35)" marker-mid="url(#m35)" marker-end="url(#m35)"/>
<polyline points="82,510 106,510 129,510 153,510 176,510 200,510 224,504 247,393 271,251 294,226 318,219 342,214 365,201 389,192 412,181 436,171 460,162 483,155 507,151 530,144 554,137 578,120 601,89 625,73 648,69 672,73 696,75 719,69" stroke="#ff3900" marker-start="url(#m35)" marker-mid="url(#m35)" marker-end="url(#m35)"/>
<polyline points="82,510 106,510 129,510 153,510 176,510 200,510 224,495 247,388 271,250 294,229 318,220 342,215 365,203 389,188 412,178 436,172 460,166 483,153 507,150 530,145 554,139 578,126 601,89 625,70 648,68 672,69 696,72 719,69" stroke="#ff4000" marker-start="url(#m36)" marker-mid="url(#m36)" marker-end="url(#m36)"/>
<polyline points="82,510 106,510 129,510 153,510 176,510 200,510 224,510 247,413 271,284 294,232 318,217 342,214 365,203 389,190 412,180 436,171 460,163 483,154 507,157 530,145 554,139 578,131 601,93 625,70 648,70 672,69 696,71 719,69" stroke="#ff4000" marker-start="url(#m36)" marker-mid="url(#m36)" marker-end="url(#m36)"/>
<polyline points="82,510 106,510 129,510 153,510 176,510 200,510 224,499 247,386 271,247 294,230 318,217 342,213 365,203 389,192 412,179 436,174 460,165 483,155 507,152 530,145 554,137 578,130 601,100 625,70 648,72 672,69 696,68 719,69" stroke="#ff4000" marker-start="url(#m36)" marker-mid="url(#m36)" marker-end="url(#m36)"/>
<polyline points="82,510 106,510 129,510 153,510 176,510 200,510 224,495 247,383 271,252 294,231 318,219 342,213 365,205 389,188 412,184 436,173 460,164 483,158 507,154 530,139 554,140 578,128 601,109 625,72 648,72 672,69 696,72 719,71" stroke="#ff4600" marker-start="url(#m37)" marker-mid="url(#m37)" marker-end="url(#m37)"/>
<polyline points="82,510 106,510 129,510 153,510 176,510 200,510 224,497 247,396 271,259 294,227 318,220 342,215 365,203 389,195 412,178 436,172 460,166 483,155 507,151 530,144 554,141 578,124 601,96 625,69 648,70 672,72 696,69 719,70" stroke="#ff4600" marker-start="url(#m37)" marker-mid="url(#m37)" marker-end="url(#m37)"/>
<polyline points="82,510 106,510 129,510 153,510 176,510 200,510 224,496 247,401 271,277 294,236 318,220 342,212 365,204 389,193 412,179 436,175 460,167 483,159 507,148 530,141 554,139 578,129 601,98 625,69 648,73 672,71 696,69 719,70" stroke="#ff4600" marker-start="url(#m37)" marker-mid="url(#m37)" marker-end="url(#m37)"/>
<polyline points="82,510 106,510 129,510 153,510 176,510 200,510 224,503 247,392 271,253 294,228 318,219 342,212 365,202 389,192 412,179 436,173 460,164 483,155 507,151 530,143 554,142 578,127 601,105 625,70 648,73 672,70 696,68 719,69" stroke="#ff4d00" marker-start="url(#m38)" marker-mid="url(#m38)" marker-end="url(#m38)"/>
<polyline points="82,510 106,510 129,510 153,510 176,510 200,510 224,487 247,371 271,250 294,230 318,219 342,215 365,200 389,192 412,181 436,173 460,164 483,155 507,154 530,143 554,138 578,125 601,94 625,70 648,74 672,72 696,68 719,71" stroke="#ff4d00" marker-start="url(#m38)" marker-mid="url(#m38)" marker-end="url(#m38)"/>
<polyline points="82,510 106,510 129,510 153,510 176,510 200,510 224,498 247,388 271,247 294,234 318,221 342,217 365,202 389,195 412,182 436,175 460,165 483,155 507,151 530,147 554,140 578,128 601,93 625,70 648,69 672,73 696,70 719,71" stroke="#ff4d00" marker-start="url(#m38)" marker-mid="url(#m38)" marker-end="url(#m38)"/>
<polyline points="82,510 106,510 129,510 153,510 176,510 200,510 224,501 247,393 271,253 294,232 318,219 342,215 365,204 389,193 412,181 436,178 460,162 483,156 507,155 530,147 554,141 578,130 601,98 625,69 648,71 672,68 696,69 719,70" stroke="#ff5400" marker-start="url(#m39)" marker-mid="url(#m39)" marker-end="url(#m39)"/>
<polyline points="82,510 106,510 129,510 153,510 176,510 200,510 224,491 247,379 271,248 294,232 318,219 342,215 365,205 389,191 412,181 436,173 460,166 483,154 507,148 530,145 554,138 578,129 601,97 625,68 648,68 672,71 696,72 719,71" stroke="#ff5400" marker-start="url(#m39)" marker-mid="url(#m39)" marker-end="url(#m39)"/>
<polyline points="82,510 106,510 129,510 153,510 176,510 200,510 224,494 247,379 271,246 294,227 318,220 342,219 365,206 389,194 412,179 436,175 460,166 483,155 507,151 530,146 554,137 578,130 601,101 625,69 648,75 672,70 696,72 719,69" stroke="#ff5400" marker-start="url(#m39)" marker-mid="url(#m39)" marker-end="url(#m39)"/>
<polyline points="82,510 106,510 129,510 153,510 176,510 200,510 224,485 247,389 271,271 294,233 318,221 342,213 365,208 389,193 412,183 436,173 460,166 483,158 507,149 530,145 554,137 578,129 601,95 625,68 648,71 672,71 696,68 719,68" stroke="#ff5a00" marker-start="url(#m40)" marker-mid="url(#m40)" marker-end="url(#m40)"/>
<polyline points="82,510 106,510 129,510 153,510 176,510 200,510 224,487 247,379 271,250 294,230 318,218 342,218 365,208 389,197 412,184 436,173 460,166 483,156 507,152 530,141 554,140 578,127 601,101 625,70 648,70 672,70 696,71 719,71" stroke="#ff5a00" marker-start="url(#m40)" marker-mid="url(#m40)" marker-end="url(#m40)"/>
</g>
<rect x="105.50" y="55.50" width="590.00" height="468.50" fill="none" stroke="#000" stroke-width="5.3"/>
<text x="105.50" y="557.30" font-size="29.20" text-anchor="middle" fill="#000" textLength="36.23" lengthAdjust="spacingAndGlyphs">10</text>
<text x="223.50" y="557.30" font-size="29.20" text-anchor="middle" fill="#000" textLength="36.23" lengthAdjust="spacingAndGlyphs">15</text>
<text x="341.50" y="557.30" font-size="29.20" text-anchor="middle" fill="#000" textLength="36.23" lengthAdjust="spacingAndGlyphs">20</text>
<text x="459.50" y="557.30" font-size="29.20" text-anchor="middle" fill="#000" textLength="36.23" lengthAdjust="spacingAndGlyphs">25</text>
<text x="577.50" y="557.30" font-size="29.20" text-anchor="middle" fill="#000" textLength="36.23" lengthAdjust="spacingAndGlyphs">30</text>
<text x="695.50" y="557.30" font-size="29.20" text-anchor="middle" fill="#000" textLength="36.23" lengthAdjust="spacingAndGlyphs">35</text>
<text x="95.55" y="523.20" font-size="29.20" text-anchor="end" fill="#000" textLength="46.12" lengthAdjust="spacingAndGlyphs">0.0</text>
<text x="95.55" y="434.40" font-size="29.20" text-anchor="end" fill="#000" textLength="46.12" lengthAdjust="spacingAndGlyphs">0.2</text>
<text x="95.55" y="345.60" font-size="29.20" text-anchor="end" fill="#000" textLength="46.12" lengthAdjust="spacingAndGlyphs">0.4</text>
<text x="95.55" y="256.80" font-size="29.20" text-anchor="end" fill="#000" textLength="46.12" lengthAdjust="spacingAndGlyphs">0.6</text>
<text x="95.55" y="168.00" font-size="29.20" text-anchor="end" fill="#000" textLength="46.12" lengthAdjust="spacingAndGlyphs">0.8</text>
<text x="95.55" y="79.20" font-size="29.20" text-anchor="end" fill="#000" textLength="46.12" lengthAdjust="spacingAndGlyphs">1.0</text>
<text x="401.30" y="587.40" font-size="28.20" text-anchor="middle" fill="#000" textLength="180.00" lengthAdjust="spacingAndGlyphs">Bin number</text>
<text transform="translate(37.40 503.77) rotate(-90)" font-size="35.8" fill="#000">Concentrations (Li/Li+Si)</text>
<g stroke="#4472c4" stroke-width="4.8" fill="none">
<path d="M222.0 20.3V50.0M617.8 20.3V50.0"/>
<path d="M224.0 30.6H324.0M515.0 30.6H615.8"/>
<path d="M242.0 21.6L225.5 30.6L242.0 39.6M597.8 21.6L614.3 30.6L597.8 39.6" stroke-linecap="round" stroke-linejoin="miter"/>
</g>
<text x="361.36" y="47.30" font-size="42.00" text-anchor="start" fill="#2e75b6">55.6 Å</text>
<text x="553.70" y="486.30" font-size="42.00" text-anchor="start" fill="#000">aSi/Li</text>
<text x="1.80" y="37.20" font-size="47.00" text-anchor="start" fill="#000">(a)</text>
<rect x="998.3" y="50.9" width="307.7" height="471.7" fill="#e9f1f9"/>
<path d="M833.80 522.60V509.60M952.34 522.60V509.60M1070.88 522.60V509.60M1189.42 522.60V509.60M1307.96 522.60V509.60M1426.50 522.60V509.60M833.80 510.50H846.80M833.80 421.20H846.80M833.80 331.90H846.80M833.80 242.60H846.80M833.80 153.30H846.80M833.80 64.00H846.80" stroke="#000" stroke-width="5.2" fill="none"/>
<g clip-path="url(#clb)" fill="none" stroke-width="2.9" stroke-linejoin="round" stroke-opacity="0.65">
<polyline points="810,509 834,509 858,509 881,509 905,509 929,509 952,509 976,509 1000,509 1023,509 1047,509 1071,509 1095,64 1118,64 1142,64 1166,64 1189,64 1213,64 1237,64 1261,64 1284,64 1308,64 1332,64 1355,64 1379,64 1403,64 1426,64 1450,64" stroke="#ffb200" marker-start="url(#m41)" marker-mid="url(#m41)" marker-end="url(#m41)"/>
<polyline points="810,509 834,509 858,509 881,509 905,509 929,509 952,509 976,509 1000,509 1023,466 1047,246 1071,131 1095,76 1118,66 1142,68 1166,67 1189,64 1213,64 1237,73 1261,64 1284,67 1308,64 1332,64 1355,68 1379,65 1403,64 1426,67 1450,70" stroke="#ffb200" marker-start="url(#m41)" marker-mid="url(#m41)" marker-end="url(#m41)"/>
<polyline points="810,509 834,509 858,509 881,509 905,509 929,509 952,509 976,509 1000,509 1023,423 1047,228 1071,122 1095,82 1118,64 1142,66 1166,64 1189,70 1213,64 1237,66 1261,65 1284,64 1308,65 1332,64 1355,66 1379,65 1403,65 1426,67 1450,66" stroke="#ffb100" marker-start="url(#m42)" marker-mid="url(#m42)" marker-end="url(#m42)"/>
<polyline points="810,509 834,509 858,509 881,509 905,509 929,509 952,509 976,509 1000,509 1023,391 1047,207 1071,115 1095,83 1118,64 1142,67 1166,64 1189,67 1213,66 1237,66 1261,65 1284,66 1308,65 1332,66 1355,65 1379,66 1403,66 1426,67 1450,64" stroke="#ffb100" marker-start="url(#m42)" marker-mid="url(#m42)" marker-end="url(#m42)"/>
<polyline points="810,509 834,509 858,509 881,509 905,509 929,509 952,509 976,509 1000,507 1023,370 1047,167 1071,133 1095,87 1118,65 1142,64 1166,65 1189,64 1213,67 1237,65 1261,65 1284,68 1308,67 1332,64 1355,67 1379,64 1403,65 1426,70 1450,65" stroke="#ffb000" marker-start="url(#m43)" marker-mid="url(#m43)" marker-end="url(#m43)"/>
<polyline points="810,509 834,509 858,509 881,509 905,509 929,509 952,509 976,509 1000,509 1023,441 1047,185 1071,132 1095,86 1118,64 1142,66 1166,66 1189,65 1213,66 1237,69 1261,64 1284,68 1308,67 1332,66 1355,66 1379,64 1403,65 1426,66 1450,66" stroke="#ffb000" marker-start="url(#m43)" marker-mid="url(#m43)" marker-end="url(#m43)"/>
<polyline points="810,509 834,509 858,509 881,509 905,509 929,509 952,509 976,509 1000,509 1023,386 1047,170 1071,158 1095,109 1118,77 1142,66 1166,68 1189,66 1213,64 1237,66 1261,64 1284,68 1308,65 1332,64 1355,68 1379,65 1403,66 1426,65 1450,65" stroke="#ffb000" marker-start="url(#m43)" marker-mid="url(#m43)" marker-end="url(#m43)"/>
<polyline points="810,509 834,509 858,509 881,509 905,509 929,509 952,509 976,509 1000,509 1023,436 1047,183 1071,163 1095,123 1118,87 1142,64 1166,68 1189,64 1213,64 1237,65 1261,66 1284,66 1308,66 1332,66 1355,64 1379,69 1403,66 1426,68 1450,65" stroke="#ffaf00" marker-start="url(#m44)" marker-mid="url(#m44)" marker-end="url(#m44)"/>
<polyline points="810,509 834,509 858,509 881,509 905,509 929,509 952,509 976,509 1000,509 1023,380 1047,161 1071,157 1095,107 1118,75 1142,66 1166,67 1189,64 1213,64 1237,66 1261,67 1284,66 1308,65 1332,66 1355,65 1379,67 1403,66 1426,64 1450,70" stroke="#ffaf00" marker-start="url(#m44)" marker-mid="url(#m44)" marker-end="url(#m44)"/>
<polyline points="810,509 834,509 858,509 881,509 905,509 929,509 952,509 976,509 1000,507 1023,378 1047,201 1071,156 1095,140 1118,86 1142,65 1166,67 1189,67 1213,68 1237,65 1261,70 1284,68 1308,68 1332,71 1355,67 1379,66 1403,65 1426,64 1450,65" stroke="#ffae00" marker-start="url(#m45)" marker-mid="url(#m45)" marker-end="url(#m45)"/>
<polyline points="810,509 834,509 858,509 881,509 905,509 929,509 952,509 976,509 1000,509 1023,389 1047,209 1071,157 1095,151 1118,91 1142,65 1166,66 1189,66 1213,65 1237,67 1261,64 1284,66 1308,65 1332,64 1355,68 1379,65 1403,64 1426,64 1450,68" stroke="#ffae00" marker-start="url(#m45)" marker-mid="url(#m45)" marker-end="url(#m45)"/>
<polyline points="810,509 834,509 858,509 881,509 905,509 929,509 952,509 976,509 1000,509 1023,405 1047,183 1071,159 1095,130 1118,89 1142,69 1166,68 1189,69 1213,64 1237,65 1261,65 1284,66 1308,65 1332,66 1355,66 1379,65 1403,65 1426,65 1450,66" stroke="#ffae00" marker-start="url(#m45)" marker-mid="url(#m45)" marker-end="url(#m45)"/>
<polyline points="810,509 834,509 858,509 881,509 905,509 929,509 952,509 976,509 1000,509 1023,425 1047,210 1071,164 1095,155 1118,120 1142,69 1166,67 1189,64 1213,65 1237,66 1261,67 1284,67 1308,65 1332,68 1355,64 1379,65 1403,66 1426,70 1450,64" stroke="#ffac00" marker-start="url(#m46)" marker-mid="url(#m46)" marker-end="url(#m46)"/>
<polyline points="810,509 834,509 858,509 881,509 905,509 929,509 952,509 976,509 1000,509 1023,378 1047,160 1071,162 1095,145 1118,92 1142,69 1166,64 1189,66 1213,66 1237,65 1261,65 1284,66 1308,65 1332,65 1355,67 1379,67 1403,64 1426,65 1450,69" stroke="#ffac00" marker-start="url(#m46)" marker-mid="url(#m46)" marker-end="url(#m46)"/>
<polyline points="810,509 834,509 858,509 881,509 905,509 929,509 952,509 976,509 1000,506 1023,355 1047,162 1071,165 1095,159 1118,124 1142,74 1166,64 1189,65 1213,66 1237,65 1261,64 1284,67 1308,66 1332,66 1355,66 1379,66 1403,64 1426,69 1450,69" stroke="#ffab00" marker-start="url(#m47)" marker-mid="url(#m47)" marker-end="url(#m47)"/>
<polyline points="810,509 834,509 858,509 881,509 905,509 929,509 952,509 976,509 1000,509 1023,377 1047,163 1071,158 1095,158 1118,139 1142,83 1166,65 1189,65 1213,65 1237,70 1261,65 1284,67 1308,67 1332,68 1355,67 1379,66 1403,64 1426,66 1450,68" stroke="#ffab00" marker-start="url(#m47)" marker-mid="url(#m47)" marker-end="url(#m47)"/>
<polyline points="810,509 834,509 858,509 881,509 905,509 929,509 952,509 976,509 1000,509 1023,424 1047,190 1071,161 1095,150 1118,154 1142,101 1166,70 1189,65 1213,64 1237,64 1261,64 1284,64 1308,67 1332,66 1355,64 1379,64 1403,64 1426,66 1450,67" stroke="#ffab00" marker-start="url(#m47)" marker-mid="url(#m47)" marker-end="url(#m47)"/>
<polyline points="810,509 834,509 858,509 881,509 905,509 929,509 952,509 976,509 1000,502 1023,360 1047,163 1071,162 1095,159 1118,122 1142,88 1166,65 1189,68 1213,68 1237,65 1261,65 1284,65 1308,66 1332,64 1355,68 1379,64 1403,66 1426,66 1450,64" stroke="#ffaa00" marker-start="url(#m48)" marker-mid="url(#m48)" marker-end="url(#m48)"/>
<polyline points="810,509 834,509 858,509 881,509 905,509 929,509 952,509 976,509 1000,509 1023,387 1047,188 1071,160 1095,160 1118,154 1142,102 1166,67 1189,67 1213,66 1237,64 1261,66 1284,66 1308,64 1332,67 1355,64 1379,65 1403,69 1426,66 1450,65" stroke="#ffaa00" marker-start="url(#m48)" marker-mid="url(#m48)" marker-end="url(#m48)"/>
<polyline points="810,509 834,509 858,509 881,509 905,509 929,509 952,509 976,509 1000,509 1023,367 1047,157 1071,164 1095,159 1118,131 1142,88 1166,65 1189,65 1213,68 1237,66 1261,67 1284,65 1308,64 1332,66 1355,65 1379,67 1403,64 1426,67 1450,64" stroke="#ffa900" marker-start="url(#m49)" marker-mid="url(#m49)" marker-end="url(#m49)"/>
<polyline points="810,509 834,509 858,509 881,509 905,509 929,509 952,509 976,509 1000,509 1023,383 1047,163 1071,158 1095,160 1118,145 1142,100 1166,73 1189,64 1213,67 1237,68 1261,69 1284,64 1308,66 1332,64 1355,65 1379,65 1403,65 1426,67 1450,64" stroke="#ffa900" marker-start="url(#m49)" marker-mid="url(#m49)" marker-end="url(#m49)"/>
<polyline points="810,509 834,509 858,509 881,509 905,509 929,509 952,509 976,509 1000,509 1023,381 1047,176 1071,160 1095,164 1118,155 1142,105 1166,77 1189,64 1213,65 1237,66 1261,66 1284,66 1308,65 1332,65 1355,65 1379,65 1403,66 1426,66 1450,67" stroke="#ffa900" marker-start="url(#m49)" marker-mid="url(#m49)" marker-end="url(#m49)"/>
<polyline points="810,509 834,509 858,509 881,509 905,509 929,509 952,509 976,509 1000,509 1023,373 1047,166 1071,168 1095,159 1118,154 1142,108 1166,74 1189,65 1213,65 1237,65 1261,64 1284,66 1308,65 1332,64 1355,65 1379,65 1403,66 1426,67 1450,66" stroke="#ffa800" marker-start="url(#m50)" marker-mid="url(#m50)" marker-end="url(#m50)"/>
<polyline points="810,509 834,509 858,509 881,509 905,509 929,509 952,509 976,509 1000,508 1023,351 1047,166 1071,161 1095,164 1118,152 1142,115 1166,79 1189,66 1213,65 1237,64 1261,65 1284,65 1308,64 1332,65 1355,64 1379,66 1403,64 1426,64 1450,69" stroke="#ffa800" marker-start="url(#m50)" marker-mid="url(#m50)" marker-end="url(#m50)"/>
<polyline points="810,509 834,509 858,509 881,509 905,509 929,509 952,509 976,509 1000,509 1023,392 1047,160 1071,166 1095,156 1118,150 1142,135 1166,86 1189,70 1213,67 1237,66 1261,65 1284,66 1308,68 1332,67 1355,66 1379,68 1403,64 1426,69 1450,66" stroke="#ffa600" marker-start="url(#m51)" marker-mid="url(#m51)" marker-end="url(#m51)"/>
<polyline points="810,509 834,509 858,509 881,509 905,509 929,509 952,509 976,509 1000,479 1023,313 1047,167 1071,167 1095,154 1118,156 1142,110 1166,79 1189,65 1213,68 1237,65 1261,64 1284,65 1308,65 1332,69 1355,65 1379,66 1403,66 1426,65 1450,65" stroke="#ffa600" marker-start="url(#m51)" marker-mid="url(#m51)" marker-end="url(#m51)"/>
<polyline points="810,509 834,509 858,509 881,509 905,509 929,509 952,509 976,509 1000,509 1023,373 1047,162 1071,165 1095,164 1118,154 1142,145 1166,99 1189,69 1213,66 1237,65 1261,65 1284,66 1308,66 1332,70 1355,65 1379,65 1403,68 1426,65 1450,65" stroke="#ffa500" marker-start="url(#m52)" marker-mid="url(#m52)" marker-end="url(#m52)"/>
<polyline points="810,509 834,509 858,509 881,509 905,509 929,509 952,509 976,509 1000,487 1023,341 1047,165 1071,165 1095,160 1118,155 1142,134 1166,98 1189,75 1213,68 1237,69 1261,64 1284,65 1308,64 1332,65 1355,68 1379,69 1403,64 1426,66 1450,65" stroke="#ffa500" marker-start="url(#m52)" marker-mid="url(#m52)" marker-end="url(#m52)"/>
<polyline points="810,509 834,509 858,509 881,509 905,509 929,509 952,509 976,509 1000,509 1023,372 1047,171 1071,163 1095,161 1118,153 1142,144 1166,94 1189,75 1213,67 1237,67 1261,68 1284,66 1308,68 1332,67 1355,64 1379,69 1403,68 1426,67 1450,65" stroke="#ffa500" marker-start="url(#m52)" marker-mid="url(#m52)" marker-end="url(#m52)"/>
<polyline points="810,509 834,509 858,509 881,509 905,509 929,509 952,509 976,509 1000,502 1023,340 1047,163 1071,170 1095,167 1118,152 1142,149 1166,119 1189,78 1213,64 1237,65 1261,68 1284,66 1308,66 1332,64 1355,64 1379,67 1403,65 1426,65 1450,67" stroke="#ffa400" marker-start="url(#m53)" marker-mid="url(#m53)" marker-end="url(#m53)"/>
<polyline points="810,509 834,509 858,509 881,509 905,509 929,509 952,509 976,509 1000,487 1023,317 1047,166 1071,165 1095,165 1118,163 1142,149 1166,116 1189,73 1213,65 1237,65 1261,65 1284,65 1308,66 1332,66 1355,67 1379,66 1403,65 1426,67 1450,64" stroke="#ffa400" marker-start="url(#m53)" marker-mid="url(#m53)" marker-end="url(#m53)"/>
<polyline points="810,509 834,509 858,509 881,509 905,509 929,509 952,509 976,509 1000,506 1023,349 1047,165 1071,168 1095,163 1118,154 1142,152 1166,110 1189,78 1213,65 1237,69 1261,68 1284,64 1308,64 1332,64 1355,65 1379,64 1403,64 1426,66 1450,68" stroke="#ffa300" marker-start="url(#m54)" marker-mid="url(#m54)" marker-end="url(#m54)"/>
<polyline points="810,509 834,509 858,509 881,509 905,509 929,509 952,509 976,509 1000,509 1023,365 1047,165 1071,163 1095,164 1118,162 1142,152 1166,126 1189,87 1213,66 1237,66 1261,64 1284,64 1308,67 1332,65 1355,66 1379,66 1403,64 1426,65 1450,67" stroke="#ffa300" marker-start="url(#m54)" marker-mid="url(#m54)" marker-end="url(#m54)"/>
<polyline points="810,509 834,509 858,509 881,509 905,509 929,509 952,509 976,509 1000,489 1023,345 1047,164 1071,170 1095,160 1118,159 1142,152 1166,136 1189,94 1213,64 1237,66 1261,68 1284,66 1308,65 1332,64 1355,67 1379,65 1403,69 1426,64 1450,66" stroke="#ffa300" marker-start="url(#m54)" marker-mid="url(#m54)" marker-end="url(#m54)"/>
<polyline points="810,509 834,509 858,509 881,509 905,509 929,509 952,509 976,509 1000,493 1023,335 1047,169 1071,166 1095,162 1118,157 1142,154 1166,117 1189,86 1213,65 1237,67 1261,65 1284,65 1308,66 1332,67 1355,64 1379,66 1403,64 1426,64 1450,65" stroke="#ffa200" marker-start="url(#m55)" marker-mid="url(#m55)" marker-end="url(#m55)"/>
<polyline points="810,509 834,509 858,509 881,509 905,509 929,509 952,509 976,509 1000,484 1023,304 1047,171 1071,167 1095,167 1118,155 1142,147 1166,125 1189,89 1213,72 1237,64 1261,64 1284,64 1308,65 1332,65 1355,64 1379,66 1403,64 1426,67 1450,66" stroke="#ffa200" marker-start="url(#m55)" marker-mid="url(#m55)" marker-end="url(#m55)"/>
<polyline points="810,509 834,509 858,509 881,509 905,509 929,509 952,509 976,509 1000,477 1023,331 1047,168 1071,177 1095,163 1118,159 1142,155 1166,140 1189,92 1213,71 1237,67 1261,66 1284,66 1308,64 1332,67 1355,65 1379,68 1403,65 1426,66 1450,65" stroke="#ffa000" marker-start="url(#m56)" marker-mid="url(#m56)" marker-end="url(#m56)"/>
<polyline points="810,509 834,509 858,509 881,509 905,509 929,509 952,509 976,509 1000,509 1023,360 1047,164 1071,166 1095,162 1118,162 1142,150 1166,144 1189,98 1213,69 1237,64 1261,66 1284,66 1308,68 1332,65 1355,65 1379,67 1403,69 1426,65 1450,64" stroke="#ffa000" marker-start="url(#m56)" marker-mid="url(#m56)" marker-end="url(#m56)"/>
<polyline points="810,509 834,509 858,509 881,509 905,509 929,509 952,509 976,509 1000,503 1023,344 1047,167 1071,174 1095,170 1118,156 1142,152 1166,120 1189,93 1213,72 1237,67 1261,66 1284,69 1308,65 1332,64 1355,64 1379,67 1403,69 1426,68 1450,68" stroke="#ffa000" marker-start="url(#m56)" marker-mid="url(#m56)" marker-end="url(#m56)"/>
<polyline points="810,509 834,509 858,509 881,509 905,509 929,509 952,509 976,509 1000,505 1023,341 1047,167 1071,165 1095,165 1118,158 1142,153 1166,134 1189,97 1213,71 1237,64 1261,67 1284,64 1308,65 1332,66 1355,68 1379,65 1403,64 1426,67 1450,64" stroke="#ff9f00" marker-start="url(#m57)" marker-mid="url(#m57)" marker-end="url(#m57)"/>
<polyline points="810,509 834,509 858,509 881,509 905,509 929,509 952,509 976,509 1000,509 1023,342 1047,168 1071,169 1095,166 1118,164 1142,151 1166,147 1189,111 1213,81 1237,65 1261,68 1284,66 1308,64 1332,67 1355,65 1379,66 1403,67 1426,65 1450,64" stroke="#ff9f00" marker-start="url(#m57)" marker-mid="url(#m57)" marker-end="url(#m57)"/>
<polyline points="810,509 834,509 858,509 881,509 905,509 929,509 952,509 976,509 1000,509 1023,338 1047,171 1071,171 1095,161 1118,160 1142,152 1166,145 1189,114 1213,85 1237,71 1261,68 1284,66 1308,64 1332,68 1355,69 1379,64 1403,69 1426,65 1450,65" stroke="#ff9e00" marker-start="url(#m58)" marker-mid="url(#m58)" marker-end="url(#m58)"/>
<polyline points="810,509 834,509 858,509 881,509 905,509 929,509 952,509 976,509 1000,490 1023,317 1047,169 1071,177 1095,165 1118,156 1142,151 1166,144 1189,106 1213,78 1237,65 1261,67 1284,66 1308,64 1332,67 1355,67 1379,71 1403,67 1426,65 1450,65" stroke="#ff9e00" marker-start="url(#m58)" marker-mid="url(#m58)" marker-end="url(#m58)"/>
<polyline points="810,509 834,509 858,509 881,509 905,509 929,509 952,509 976,509 1000,489 1023,306 1047,169 1071,172 1095,172 1118,152 1142,156 1166,147 1189,124 1213,82 1237,66 1261,68 1284,64 1308,66 1332,64 1355,66 1379,65 1403,67 1426,64 1450,67" stroke="#ff9e00" marker-start="url(#m58)" marker-mid="url(#m58)" marker-end="url(#m58)"/>
<polyline points="810,509 834,509 858,509 881,509 905,509 929,509 952,509 976,509 1000,453 1023,299 1047,164 1071,169 1095,163 1118,158 1142,148 1166,145 1189,107 1213,79 1237,65 1261,64 1284,64 1308,70 1332,64 1355,64 1379,67 1403,66 1426,65 1450,64" stroke="#ff9d00" marker-start="url(#m59)" marker-mid="url(#m59)" marker-end="url(#m59)"/>
<polyline points="810,509 834,509 858,509 881,509 905,509 929,509 952,509 976,509 1000,482 1023,320 1047,167 1071,176 1095,165 1118,158 1142,155 1166,130 1189,106 1213,74 1237,65 1261,66 1284,65 1308,64 1332,65 1355,67 1379,69 1403,65 1426,66 1450,69" stroke="#ff9d00" marker-start="url(#m59)" marker-mid="url(#m59)" marker-end="url(#m59)"/>
<polyline points="810,509 834,509 858,509 881,509 905,509 929,509 952,509 976,509 1000,493 1023,342 1047,169 1071,170 1095,172 1118,153 1142,156 1166,149 1189,130 1213,94 1237,69 1261,66 1284,65 1308,64 1332,64 1355,69 1379,65 1403,66 1426,64 1450,67" stroke="#ff9b00" marker-start="url(#m60)" marker-mid="url(#m60)" marker-end="url(#m60)"/>
<polyline points="810,509 834,509 858,509 881,509 905,509 929,509 952,509 976,509 1000,492 1023,319 1047,171 1071,174 1095,167 1118,161 1142,154 1166,142 1189,112 1213,79 1237,70 1261,68 1284,66 1308,69 1332,65 1355,66 1379,66 1403,68 1426,66 1450,66" stroke="#ff9b00" marker-start="url(#m60)" marker-mid="url(#m60)" marker-end="url(#m60)"/>
<polyline points="810,509 834,509 858,509 881,509 905,509 929,509 952,509 976,509 1000,451 1023,309 1047,173 1071,173 1095,167 1118,159 1142,156 1166,150 1189,124 1213,93 1237,72 1261,65 1284,65 1308,67 1332,70 1355,68 1379,65 1403,69 1426,66 1450,65" stroke="#ff9b00" marker-start="url(#m60)" marker-mid="url(#m60)" marker-end="url(#m60)"/>
<polyline points="810,509 834,509 858,509 881,509 905,509 929,509 952,509 976,509 1000,448 1023,272 1047,171 1071,173 1095,166 1118,161 1142,153 1166,151 1189,133 1213,96 1237,70 1261,64 1284,64 1308,66 1332,64 1355,64 1379,66 1403,65 1426,64 1450,65" stroke="#ff9a00" marker-start="url(#m61)" marker-mid="url(#m61)" marker-end="url(#m61)"/>
<polyline points="810,509 834,509 858,509 881,509 905,509 929,509 952,509 976,509 1000,464 1023,290 1047,170 1071,172 1095,168 1118,167 1142,149 1166,149 1189,148 1213,111 1237,79 1261,65 1284,68 1308,67 1332,64 1355,66 1379,68 1403,64 1426,67 1450,67" stroke="#ff9a00" marker-start="url(#m61)" marker-mid="url(#m61)" marker-end="url(#m61)"/>
<polyline points="810,509 834,509 858,509 881,509 905,509 929,509 952,509 976,509 1000,454 1023,262 1047,168 1071,170 1095,167 1118,159 1142,152 1166,149 1189,148 1213,115 1237,81 1261,64 1284,64 1308,68 1332,65 1355,66 1379,69 1403,66 1426,64 1450,67" stroke="#ff9900" marker-start="url(#m62)" marker-mid="url(#m62)" marker-end="url(#m62)"/>
<polyline points="810,509 834,509 858,509 881,509 905,509 929,509 952,509 976,509 1000,447 1023,291 1047,169 1071,172 1095,169 1118,161 1142,155 1166,146 1189,135 1213,101 1237,75 1261,64 1284,65 1308,67 1332,66 1355,65 1379,65 1403,67 1426,71 1450,64" stroke="#ff9900" marker-start="url(#m62)" marker-mid="url(#m62)" marker-end="url(#m62)"/>
<polyline points="810,509 834,509 858,509 881,509 905,509 929,509 952,509 976,509 1000,469 1023,309 1047,171 1071,178 1095,167 1118,166 1142,154 1166,152 1189,144 1213,99 1237,77 1261,64 1284,66 1308,65 1332,68 1355,64 1379,70 1403,65 1426,65 1450,70" stroke="#ff9900" marker-start="url(#m62)" marker-mid="url(#m62)" marker-end="url(#m62)"/>
<polyline points="810,509 834,509 858,509 881,509 905,509 929,509 952,509 976,509 1000,451 1023,263 1047,170 1071,172 1095,171 1118,159 1142,153 1166,152 1189,145 1213,105 1237,73 1261,64 1284,65 1308,67 1332,66 1355,67 1379,68 1403,69 1426,64 1450,64" stroke="#ff9800" marker-start="url(#m63)" marker-mid="url(#m63)" marker-end="url(#m63)"/>
<polyline points="810,509 834,509 858,509 881,509 905,509 929,509 952,509 976,509 1000,451 1023,273 1047,174 1071,175 1095,168 1118,164 1142,153 1166,148 1189,147 1213,115 1237,81 1261,66 1284,64 1308,65 1332,66 1355,67 1379,65 1403,64 1426,68 1450,64" stroke="#ff9800" marker-start="url(#m63)" marker-mid="url(#m63)" marker-end="url(#m63)"/>
<polyline points="810,509 834,509 858,509 881,509 905,509 929,509 952,509 976,509 1000,467 1023,286 1047,169 1071,172 1095,167 1118,163 1142,155 1166,146 1189,147 1213,127 1237,84 1261,66 1284,70 1308,64 1332,64 1355,65 1379,64 1403,65 1426,67 1450,66" stroke="#ff9700" marker-start="url(#m64)" marker-mid="url(#m64)" marker-end="url(#m64)"/>
<polyline points="810,509 834,509 858,509 881,509 905,509 929,509 952,509 976,509 1000,473 1023,282 1047,174 1071,178 1095,168 1118,160 1142,155 1166,150 1189,144 1213,121 1237,84 1261,65 1284,65 1308,67 1332,67 1355,66 1379,64 1403,64 1426,67 1450,67" stroke="#ff9700" marker-start="url(#m64)" marker-mid="url(#m64)" marker-end="url(#m64)"/>
<polyline points="810,509 834,509 858,509 881,509 905,509 929,509 952,509 976,509 1000,451 1023,290 1047,174 1071,176 1095,166 1118,162 1142,153 1166,155 1189,152 1213,144 1237,102 1261,67 1284,66 1308,65 1332,69 1355,65 1379,65 1403,65 1426,66 1450,65" stroke="#ff9700" marker-start="url(#m64)" marker-mid="url(#m64)" marker-end="url(#m64)"/>
<polyline points="810,509 834,509 858,509 881,509 905,509 929,509 952,509 976,509 1000,476 1023,274 1047,174 1071,177 1095,171 1118,160 1142,154 1166,152 1189,151 1213,103 1237,79 1261,64 1284,65 1308,64 1332,64 1355,66 1379,68 1403,65 1426,65 1450,64" stroke="#ff9500" marker-start="url(#m65)" marker-mid="url(#m65)" marker-end="url(#m65)"/>
<polyline points="810,509 834,509 858,509 881,509 905,509 929,509 952,509 976,509 1000,441 1023,278 1047,171 1071,178 1095,170 1118,165 1142,159 1166,157 1189,152 1213,119 1237,87 1261,64 1284,64 1308,65 1332,66 1355,66 1379,65 1403,64 1426,71 1450,66" stroke="#ff9500" marker-start="url(#m65)" marker-mid="url(#m65)" marker-end="url(#m65)"/>
<polyline points="810,509 834,509 858,509 881,509 905,509 929,509 952,509 976,509 1000,440 1023,276 1047,176 1071,180 1095,178 1118,161 1142,156 1166,151 1189,149 1213,133 1237,91 1261,70 1284,64 1308,64 1332,69 1355,67 1379,64 1403,65 1426,65 1450,66" stroke="#ff9400" marker-start="url(#m66)" marker-mid="url(#m66)" marker-end="url(#m66)"/>
<polyline points="810,509 834,509 858,509 881,509 905,509 929,509 952,509 976,509 1000,466 1023,297 1047,173 1071,177 1095,167 1118,167 1142,157 1166,152 1189,152 1213,135 1237,84 1261,70 1284,68 1308,64 1332,65 1355,65 1379,68 1403,65 1426,64 1450,66" stroke="#ff9400" marker-start="url(#m66)" marker-mid="url(#m66)" marker-end="url(#m66)"/>
<polyline points="810,509 834,509 858,509 881,509 905,509 929,509 952,509 976,509 1000,421 1023,238 1047,176 1071,179 1095,171 1118,164 1142,155 1166,153 1189,147 1213,122 1237,87 1261,66 1284,69 1308,66 1332,68 1355,68 1379,67 1403,67 1426,65 1450,65" stroke="#ff9400" marker-start="url(#m66)" marker-mid="url(#m66)" marker-end="url(#m66)"/>
<polyline points="810,509 834,509 858,509 881,509 905,509 929,509 952,509 976,509 1000,424 1023,246 1047,168 1071,179 1095,174 1118,163 1142,156 1166,151 1189,151 1213,133 1237,96 1261,70 1284,67 1308,65 1332,65 1355,64 1379,66 1403,66 1426,67 1450,67" stroke="#ff9300" marker-start="url(#m67)" marker-mid="url(#m67)" marker-end="url(#m67)"/>
<polyline points="810,509 834,509 858,509 881,509 905,509 929,509 952,509 976,509 1000,430 1023,238 1047,173 1071,176 1095,167 1118,166 1142,159 1166,149 1189,149 1213,146 1237,112 1261,79 1284,64 1308,67 1332,68 1355,68 1379,64 1403,68 1426,68 1450,64" stroke="#ff9300" marker-start="url(#m67)" marker-mid="url(#m67)" marker-end="url(#m67)"/>
<polyline points="810,509 834,509 858,509 881,509 905,509 929,509 952,509 976,509 1000,440 1023,267 1047,174 1071,179 1095,177 1118,161 1142,156 1166,150 1189,147 1213,129 1237,96 1261,72 1284,64 1308,65 1332,65 1355,71 1379,64 1403,66 1426,68 1450,67" stroke="#ff9200" marker-start="url(#m68)" marker-mid="url(#m68)" marker-end="url(#m68)"/>
<polyline points="810,509 834,509 858,509 881,509 905,509 929,509 952,509 976,509 1000,464 1023,288 1047,171 1071,181 1095,174 1118,168 1142,160 1166,152 1189,148 1213,147 1237,105 1261,83 1284,64 1308,65 1332,64 1355,66 1379,64 1403,68 1426,64 1450,65" stroke="#ff9200" marker-start="url(#m68)" marker-mid="url(#m68)" marker-end="url(#m68)"/>
<polyline points="810,509 834,509 858,509 881,509 905,509 929,509 952,509 976,509 1000,440 1023,265 1047,173 1071,178 1095,172 1118,168 1142,160 1166,155 1189,148 1213,147 1237,104 1261,78 1284,64 1308,67 1332,64 1355,64 1379,64 1403,68 1426,65 1450,64" stroke="#ff9200" marker-start="url(#m68)" marker-mid="url(#m68)" marker-end="url(#m68)"/>
<polyline points="810,509 834,509 858,509 881,509 905,509 929,509 952,509 976,509 1000,431 1023,225 1047,176 1071,178 1095,172 1118,160 1142,159 1166,155 1189,154 1213,148 1237,111 1261,79 1284,65 1308,66 1332,65 1355,64 1379,67 1403,64 1426,67 1450,67" stroke="#ff9100" marker-start="url(#m69)" marker-mid="url(#m69)" marker-end="url(#m69)"/>
<polyline points="810,509 834,509 858,509 881,509 905,509 929,509 952,509 976,509 1000,410 1023,218 1047,176 1071,181 1095,170 1118,170 1142,162 1166,152 1189,149 1213,134 1237,97 1261,79 1284,65 1308,66 1332,64 1355,68 1379,64 1403,65 1426,67 1450,65" stroke="#ff9100" marker-start="url(#m69)" marker-mid="url(#m69)" marker-end="url(#m69)"/>
<polyline points="810,509 834,509 858,509 881,509 905,509 929,509 952,509 976,509 1000,432 1023,250 1047,177 1071,180 1095,175 1118,163 1142,155 1166,154 1189,148 1213,124 1237,93 1261,71 1284,64 1308,69 1332,72 1355,65 1379,64 1403,67 1426,64 1450,64" stroke="#ff8f00" marker-start="url(#m70)" marker-mid="url(#m70)" marker-end="url(#m70)"/>
<polyline points="810,509 834,509 858,509 881,509 905,509 929,509 952,509 976,509 1000,434 1023,216 1047,176 1071,185 1095,174 1118,167 1142,160 1166,153 1189,149 1213,154 1237,113 1261,82 1284,65 1308,65 1332,67 1355,65 1379,65 1403,64 1426,65 1450,64" stroke="#ff8f00" marker-start="url(#m70)" marker-mid="url(#m70)" marker-end="url(#m70)"/>
<polyline points="810,509 834,509 858,509 881,509 905,509 929,509 952,509 976,509 1000,425 1023,253 1047,177 1071,180 1095,175 1118,167 1142,160 1166,156 1189,151 1213,136 1237,98 1261,74 1284,64 1308,69 1332,67 1355,64 1379,68 1403,65 1426,67 1450,66" stroke="#ff8f00" marker-start="url(#m70)" marker-mid="url(#m70)" marker-end="url(#m70)"/>
<polyline points="810,509 834,509 858,509 881,509 905,509 929,509 952,509 976,509 1000,436 1023,228 1047,178 1071,181 1095,174 1118,166 1142,158 1166,150 1189,152 1213,151 1237,117 1261,81 1284,66 1308,71 1332,65 1355,65 1379,64 1403,64 1426,67 1450,64" stroke="#ff8e00" marker-start="url(#m71)" marker-mid="url(#m71)" marker-end="url(#m71)"/>
<polyline points="810,509 834,509 858,509 881,509 905,509 929,509 952,509 976,509 1000,430 1023,225 1047,175 1071,181 1095,170 1118,165 1142,159 1166,150 1189,149 1213,152 1237,111 1261,79 1284,66 1308,68 1332,66 1355,64 1379,65 1403,64 1426,65 1450,64" stroke="#ff8e00" marker-start="url(#m71)" marker-mid="url(#m71)" marker-end="url(#m71)"/>
<polyline points="810,509 834,509 858,509 881,509 905,509 929,509 952,509 976,509 1000,396 1023,207 1047,178 1071,184 1095,178 1118,169 1142,162 1166,156 1189,152 1213,154 1237,112 1261,79 1284,65 1308,66 1332,66 1355,66 1379,67 1403,64 1426,64 1450,66" stroke="#ff8d00" marker-start="url(#m72)" marker-mid="url(#m72)" marker-end="url(#m72)"/>
<polyline points="810,509 834,509 858,509 881,509 905,509 929,509 952,509 976,509 1000,401 1023,217 1047,179 1071,183 1095,173 1118,164 1142,161 1166,151 1189,155 1213,150 1237,125 1261,86 1284,64 1308,67 1332,67 1355,65 1379,65 1403,66 1426,64 1450,65" stroke="#ff8d00" marker-start="url(#m72)" marker-mid="url(#m72)" marker-end="url(#m72)"/>
<polyline points="810,509 834,509 858,509 881,509 905,509 929,509 952,509 976,509 1000,409 1023,211 1047,180 1071,185 1095,173 1118,167 1142,161 1166,154 1189,153 1213,148 1237,103 1261,80 1284,67 1308,67 1332,65 1355,64 1379,67 1403,69 1426,66 1450,65" stroke="#ff8c00" marker-start="url(#m73)" marker-mid="url(#m73)" marker-end="url(#m73)"/>
<polyline points="810,509 834,509 858,509 881,509 905,509 929,509 952,509 976,509 1000,411 1023,223 1047,177 1071,185 1095,178 1118,172 1142,159 1166,156 1189,150 1213,157 1237,141 1261,94 1284,73 1308,64 1332,68 1355,64 1379,67 1403,65 1426,64 1450,65" stroke="#ff8c00" marker-start="url(#m73)" marker-mid="url(#m73)" marker-end="url(#m73)"/>
<polyline points="810,509 834,509 858,509 881,509 905,509 929,509 952,509 976,509 1000,404 1023,198 1047,177 1071,181 1095,181 1118,172 1142,162 1166,154 1189,153 1213,156 1237,113 1261,81 1284,67 1308,66 1332,66 1355,69 1379,65 1403,65 1426,65 1450,68" stroke="#ff8c00" marker-start="url(#m73)" marker-mid="url(#m73)" marker-end="url(#m73)"/>
<polyline points="810,509 834,509 858,509 881,509 905,509 929,509 952,509 976,509 1000,413 1023,197 1047,179 1071,182 1095,175 1118,166 1142,163 1166,153 1189,151 1213,152 1237,135 1261,91 1284,68 1308,64 1332,65 1355,66 1379,64 1403,69 1426,66 1450,65" stroke="#ff8b00" marker-start="url(#m74)" marker-mid="url(#m74)" marker-end="url(#m74)"/>
<polyline points="810,509 834,509 858,509 881,509 905,509 929,509 952,509 976,509 1000,415 1023,221 1047,178 1071,184 1095,178 1118,169 1142,159 1166,157 1189,153 1213,154 1237,131 1261,90 1284,71 1308,65 1332,65 1355,67 1379,68 1403,65 1426,64 1450,66" stroke="#ff8b00" marker-start="url(#m74)" marker-mid="url(#m74)" marker-end="url(#m74)"/>
<polyline points="810,509 834,509 858,509 881,509 905,509 929,509 952,509 976,509 1000,386 1023,194 1047,175 1071,186 1095,176 1118,168 1142,159 1166,155 1189,153 1213,150 1237,135 1261,95 1284,71 1308,64 1332,65 1355,64 1379,65 1403,65 1426,65 1450,67" stroke="#ff8900" marker-start="url(#m75)" marker-mid="url(#m75)" marker-end="url(#m75)"/>
<polyline points="810,509 834,509 858,509 881,509 905,509 929,509 952,509 976,509 1000,374 1023,184 1047,175 1071,187 1095,175 1118,168 1142,166 1166,156 1189,152 1213,152 1237,136 1261,92 1284,69 1308,64 1332,67 1355,64 1379,69 1403,65 1426,64 1450,68" stroke="#ff8900" marker-start="url(#m75)" marker-mid="url(#m75)" marker-end="url(#m75)"/>
<polyline points="810,509 834,509 858,509 881,509 905,509 929,509 952,509 976,509 1000,391 1023,189 1047,180 1071,186 1095,177 1118,168 1142,161 1166,156 1189,152 1213,154 1237,114 1261,86 1284,72 1308,64 1332,69 1355,64 1379,70 1403,67 1426,66 1450,67" stroke="#ff8900" marker-start="url(#m75)" marker-mid="url(#m75)" marker-end="url(#m75)"/>
<polyline points="810,509 834,509 858,509 881,509 905,509 929,509 952,509 976,509 1000,398 1023,241 1047,178 1071,184 1095,183 1118,165 1142,160 1166,155 1189,155 1213,153 1237,126 1261,91 1284,68 1308,67 1332,66 1355,66 1379,64 1403,67 1426,65 1450,66" stroke="#ff8800" marker-start="url(#m76)" marker-mid="url(#m76)" marker-end="url(#m76)"/>
<polyline points="810,509 834,509 858,509 881,509 905,509 929,509 952,509 976,509 1000,412 1023,223 1047,179 1071,185 1095,179 1118,167 1142,162 1166,155 1189,151 1213,156 1237,132 1261,92 1284,67 1308,64 1332,64 1355,66 1379,66 1403,68 1426,64 1450,67" stroke="#ff8800" marker-start="url(#m76)" marker-mid="url(#m76)" marker-end="url(#m76)"/>
<polyline points="810,509 834,509 858,509 881,509 905,509 929,509 952,509 976,509 1000,394 1023,233 1047,182 1071,185 1095,180 1118,170 1142,165 1166,157 1189,152 1213,151 1237,117 1261,88 1284,69 1308,65 1332,65 1355,65 1379,68 1403,70 1426,64 1450,66" stroke="#ff8700" marker-start="url(#m77)" marker-mid="url(#m77)" marker-end="url(#m77)"/>
<polyline points="810,509 834,509 858,509 881,509 905,509 929,509 952,509 976,509 1000,406 1023,235 1047,181 1071,187 1095,181 1118,168 1142,161 1166,155 1189,156 1213,155 1237,121 1261,88 1284,69 1308,64 1332,66 1355,65 1379,66 1403,65 1426,66 1450,65" stroke="#ff8700" marker-start="url(#m77)" marker-mid="url(#m77)" marker-end="url(#m77)"/>
<polyline points="810,509 834,509 858,509 881,509 905,509 929,509 952,509 976,509 1000,405 1023,208 1047,183 1071,186 1095,180 1118,169 1142,163 1166,156 1189,152 1213,153 1237,139 1261,92 1284,69 1308,64 1332,67 1355,65 1379,64 1403,64 1426,64 1450,65" stroke="#ff8700" marker-start="url(#m77)" marker-mid="url(#m77)" marker-end="url(#m77)"/>
<polyline points="810,509 834,509 858,509 881,509 905,509 929,509 952,509 976,509 1000,402 1023,232 1047,181 1071,188 1095,183 1118,170 1142,164 1166,156 1189,153 1213,157 1237,119 1261,87 1284,70 1308,71 1332,72 1355,65 1379,67 1403,64 1426,64 1450,64" stroke="#ff8600" marker-start="url(#m78)" marker-mid="url(#m78)" marker-end="url(#m78)"/>
<polyline points="810,509 834,509 858,509 881,509 905,509 929,509 952,509 976,509 1000,385 1023,202 1047,181 1071,190 1095,178 1118,173 1142,165 1166,156 1189,155 1213,158 1237,154 1261,100 1284,78 1308,64 1332,64 1355,66 1379,64 1403,66 1426,67 1450,64" stroke="#ff8600" marker-start="url(#m78)" marker-mid="url(#m78)" marker-end="url(#m78)"/>
<polyline points="810,509 834,509 858,509 881,509 905,509 929,509 952,509 976,509 1000,380 1023,192 1047,180 1071,190 1095,178 1118,169 1142,165 1166,158 1189,155 1213,158 1237,154 1261,103 1284,77 1308,64 1332,66 1355,65 1379,64 1403,65 1426,65 1450,66" stroke="#ff8400" marker-start="url(#m79)" marker-mid="url(#m79)" marker-end="url(#m79)"/>
<polyline points="810,509 834,509 858,509 881,509 905,509 929,509 952,509 976,509 1000,383 1023,180 1047,182 1071,188 1095,181 1118,169 1142,163 1166,158 1189,157 1213,152 1237,132 1261,92 1284,71 1308,64 1332,65 1355,70 1379,65 1403,64 1426,68 1450,68" stroke="#ff8400" marker-start="url(#m79)" marker-mid="url(#m79)" marker-end="url(#m79)"/>
<polyline points="810,509 834,509 858,509 881,509 905,509 929,509 952,509 976,508 1000,381 1023,211 1047,180 1071,187 1095,181 1118,169 1142,163 1166,157 1189,154 1213,159 1237,127 1261,93 1284,73 1308,64 1332,67 1355,64 1379,66 1403,67 1426,67 1450,65" stroke="#ff8400" marker-start="url(#m79)" marker-mid="url(#m79)" marker-end="url(#m79)"/>
<polyline points="810,509 834,509 858,509 881,509 905,509 929,509 952,509 976,504 1000,378 1023,213 1047,181 1071,189 1095,176 1118,174 1142,163 1166,158 1189,158 1213,159 1237,116 1261,87 1284,69 1308,64 1332,65 1355,68 1379,64 1403,65 1426,64 1450,66" stroke="#ff8300" marker-start="url(#m80)" marker-mid="url(#m80)" marker-end="url(#m80)"/>
<polyline points="810,509 834,509 858,509 881,509 905,509 929,509 952,509 976,509 1000,393 1023,217 1047,185 1071,191 1095,182 1118,168 1142,166 1166,157 1189,155 1213,158 1237,132 1261,94 1284,70 1308,64 1332,65 1355,64 1379,67 1403,68 1426,64 1450,66" stroke="#ff8300" marker-start="url(#m80)" marker-mid="url(#m80)" marker-end="url(#m80)"/>
<polyline points="810,509 834,509 858,509 881,509 905,509 929,509 952,509 976,509 1000,353 1023,177 1047,182 1071,190 1095,179 1118,170 1142,163 1166,154 1189,154 1213,158 1237,140 1261,96 1284,73 1308,64 1332,65 1355,67 1379,65 1403,64 1426,64 1450,64" stroke="#ff8200" marker-start="url(#m81)" marker-mid="url(#m81)" marker-end="url(#m81)"/>
<polyline points="810,509 834,509 858,509 881,509 905,509 929,509 952,509 976,509 1000,357 1023,180 1047,180 1071,192 1095,184 1118,174 1142,164 1166,158 1189,157 1213,159 1237,128 1261,91 1284,70 1308,65 1332,66 1355,64 1379,65 1403,64 1426,68 1450,64" stroke="#ff8200" marker-start="url(#m81)" marker-mid="url(#m81)" marker-end="url(#m81)"/>
</g>
<rect x="833.80" y="50.90" width="592.70" height="471.70" fill="none" stroke="#000" stroke-width="5.3"/>
<text x="833.80" y="556.00" font-size="29.20" text-anchor="middle" fill="#000" textLength="36.23" lengthAdjust="spacingAndGlyphs">10</text>
<text x="952.34" y="556.00" font-size="29.20" text-anchor="middle" fill="#000" textLength="36.23" lengthAdjust="spacingAndGlyphs">15</text>
<text x="1070.88" y="556.00" font-size="29.20" text-anchor="middle" fill="#000" textLength="36.23" lengthAdjust="spacingAndGlyphs">20</text>
<text x="1189.42" y="556.00" font-size="29.20" text-anchor="middle" fill="#000" textLength="36.23" lengthAdjust="spacingAndGlyphs">25</text>
<text x="1307.96" y="556.00" font-size="29.20" text-anchor="middle" fill="#000" textLength="36.23" lengthAdjust="spacingAndGlyphs">30</text>
<text x="1426.50" y="556.00" font-size="29.20" text-anchor="middle" fill="#000" textLength="36.23" lengthAdjust="spacingAndGlyphs">35</text>
<text x="823.85" y="521.40" font-size="29.20" text-anchor="end" fill="#000" textLength="46.12" lengthAdjust="spacingAndGlyphs">0.0</text>
<text x="823.85" y="432.10" font-size="29.20" text-anchor="end" fill="#000" textLength="46.12" lengthAdjust="spacingAndGlyphs">0.2</text>
<text x="823.85" y="342.80" font-size="29.20" text-anchor="end" fill="#000" textLength="46.12" lengthAdjust="spacingAndGlyphs">0.4</text>
<text x="823.85" y="253.50" font-size="29.20" text-anchor="end" fill="#000" textLength="46.12" lengthAdjust="spacingAndGlyphs">0.6</text>
<text x="823.85" y="164.20" font-size="29.20" text-anchor="end" fill="#000" textLength="46.12" lengthAdjust="spacingAndGlyphs">0.8</text>
<text x="823.85" y="74.90" font-size="29.20" text-anchor="end" fill="#000" textLength="46.12" lengthAdjust="spacingAndGlyphs">1.0</text>
<text x="1130.95" y="585.50" font-size="28.20" text-anchor="middle" fill="#000" textLength="180.00" lengthAdjust="spacingAndGlyphs">Bin number</text>
<text transform="translate(763.00 505.77) rotate(-90)" font-size="35.8" fill="#000">Concentrations (Li/Li+Si)</text>
<g stroke="#4472c4" stroke-width="4.8" fill="none">
<path d="M1000.5 20.4V49.5M1304.5 20.4V49.5"/>
<path d="M1002.5 29.3H1066.8M1237.9 29.3H1302.5"/>
<path d="M1020.5 20.3L1004.0 29.3L1020.5 38.3M1284.5 20.3L1301.0 29.3L1284.5 38.3" stroke-linecap="round" stroke-linejoin="miter"/>
</g>
<text x="1096.56" y="42.70" font-size="42.00" text-anchor="start" fill="#0070c0">43.2 Å</text>
<text x="1190.26" y="488.30" font-size="42.00" text-anchor="start" fill="#000">cSi(100)/Li</text>
<text x="722.60" y="37.00" font-size="47.00" text-anchor="start" fill="#000">(b)</text>
<rect x="222.6" y="664.9" width="382.4" height="470.3" fill="#e9f1f9"/>
<path d="M101.90 1135.20V1122.20M220.12 1135.20V1122.20M338.34 1135.20V1122.20M456.56 1135.20V1122.20M574.78 1135.20V1122.20M693.00 1135.20V1122.20M101.90 1123.00H114.90M101.90 1034.04H114.90M101.90 945.08H114.90M101.90 856.12H114.90M101.90 767.16H114.90M101.90 678.20H114.90" stroke="#000" stroke-width="5.2" fill="none"/>
<g clip-path="url(#clc)" fill="none" stroke-width="2.9" stroke-linejoin="round" stroke-opacity="0.65">
<polyline points="78,1121 102,1121 126,1121 149,1121 173,1121 196,1121 220,1121 244,1121 267,1121 291,1121 315,1121 338,1121 362,678 386,678 409,678 433,678 457,678 480,678 504,678 527,678 551,678 575,678 598,678 622,678 646,678 669,678 693,678 717,678" stroke="#80bf66" marker-start="url(#m82)" marker-mid="url(#m82)" marker-end="url(#m82)"/>
<polyline points="78,1121 102,1121 126,1121 149,1121 173,1121 196,1121 220,1121 244,1121 267,1068 291,862 315,791 338,754 362,707 386,679 409,678 433,680 457,679 480,679 504,682 527,684 551,679 575,679 598,681 622,679 646,681 669,680 693,683 717,680" stroke="#7cbe66" marker-start="url(#m83)" marker-mid="url(#m83)" marker-end="url(#m83)"/>
<polyline points="78,1121 102,1121 126,1121 149,1121 173,1121 196,1121 220,1121 244,1121 267,1121 291,907 315,794 338,772 362,730 386,682 409,678 433,678 457,680 480,683 504,678 527,679 551,678 575,680 598,679 622,679 646,684 669,679 693,679 717,681" stroke="#79bc66" marker-start="url(#m84)" marker-mid="url(#m84)" marker-end="url(#m84)"/>
<polyline points="78,1121 102,1121 126,1121 149,1121 173,1121 196,1121 220,1121 244,1121 267,1088 291,862 315,786 338,780 362,743 386,703 409,678 433,684 457,681 480,679 504,680 527,681 551,680 575,679 598,680 622,680 646,680 669,681 693,679 717,680" stroke="#79bc66" marker-start="url(#m84)" marker-mid="url(#m84)" marker-end="url(#m84)"/>
<polyline points="78,1121 102,1121 126,1121 149,1121 173,1121 196,1121 220,1121 244,1121 267,1121 291,850 315,783 338,776 362,754 386,702 409,679 433,680 457,679 480,684 504,684 527,684 551,680 575,678 598,680 622,678 646,678 669,680 693,678 717,681" stroke="#76bb66" marker-start="url(#m85)" marker-mid="url(#m85)" marker-end="url(#m85)"/>
<polyline points="78,1121 102,1121 126,1121 149,1121 173,1121 196,1121 220,1121 244,1121 267,1121 291,888 315,778 338,776 362,749 386,706 409,679 433,682 457,678 480,682 504,680 527,678 551,681 575,678 598,679 622,679 646,683 669,681 693,679 717,680" stroke="#73b966" marker-start="url(#m86)" marker-mid="url(#m86)" marker-end="url(#m86)"/>
<polyline points="78,1121 102,1121 126,1121 149,1121 173,1121 196,1121 220,1121 244,1121 267,1069 291,825 315,789 338,783 362,746 386,698 409,682 433,680 457,683 480,680 504,682 527,678 551,681 575,681 598,679 622,678 646,681 669,679 693,678 717,679" stroke="#73b966" marker-start="url(#m86)" marker-mid="url(#m86)" marker-end="url(#m86)"/>
<polyline points="78,1121 102,1121 126,1121 149,1121 173,1121 196,1121 220,1121 244,1121 267,1106 291,807 315,786 338,775 362,736 386,692 409,678 433,678 457,680 480,680 504,681 527,681 551,678 575,680 598,679 622,682 646,679 669,682 693,681 717,682" stroke="#70b866" marker-start="url(#m87)" marker-mid="url(#m87)" marker-end="url(#m87)"/>
<polyline points="78,1121 102,1121 126,1121 149,1121 173,1121 196,1121 220,1121 244,1121 267,1016 291,806 315,790 338,776 362,751 386,695 409,678 433,678 457,679 480,681 504,678 527,680 551,685 575,678 598,682 622,684 646,679 669,680 693,682 717,682" stroke="#70b866" marker-start="url(#m87)" marker-mid="url(#m87)" marker-end="url(#m87)"/>
<polyline points="78,1121 102,1121 126,1121 149,1121 173,1121 196,1121 220,1121 244,1121 267,1029 291,844 315,782 338,779 362,766 386,707 409,678 433,679 457,679 480,682 504,682 527,682 551,682 575,679 598,678 622,678 646,682 669,679 693,681 717,683" stroke="#6db666" marker-start="url(#m88)" marker-mid="url(#m88)" marker-end="url(#m88)"/>
<polyline points="78,1121 102,1121 126,1121 149,1121 173,1121 196,1121 220,1121 244,1121 267,1045 291,801 315,791 338,775 362,774 386,746 409,699 433,680 457,679 480,682 504,679 527,679 551,682 575,679 598,680 622,682 646,679 669,679 693,678 717,680" stroke="#6db666" marker-start="url(#m88)" marker-mid="url(#m88)" marker-end="url(#m88)"/>
<polyline points="78,1121 102,1121 126,1121 149,1121 173,1121 196,1121 220,1121 244,1121 267,1059 291,801 315,787 338,783 362,775 386,723 409,690 433,680 457,681 480,679 504,681 527,679 551,679 575,679 598,683 622,679 646,681 669,680 693,680 717,684" stroke="#6ab566" marker-start="url(#m89)" marker-mid="url(#m89)" marker-end="url(#m89)"/>
<polyline points="78,1121 102,1121 126,1121 149,1121 173,1121 196,1121 220,1121 244,1121 267,1065 291,803 315,791 338,772 362,778 386,739 409,698 433,678 457,679 480,678 504,679 527,679 551,678 575,681 598,678 622,679 646,679 669,679 693,679 717,679" stroke="#6ab566" marker-start="url(#m89)" marker-mid="url(#m89)" marker-end="url(#m89)"/>
<polyline points="78,1121 102,1121 126,1121 149,1121 173,1121 196,1121 220,1121 244,1121 267,1008 291,802 315,786 338,789 362,775 386,747 409,698 433,679 457,679 480,678 504,684 527,678 551,681 575,678 598,683 622,680 646,681 669,679 693,682 717,681" stroke="#67b366" marker-start="url(#m90)" marker-mid="url(#m90)" marker-end="url(#m90)"/>
<polyline points="78,1121 102,1121 126,1121 149,1121 173,1121 196,1121 220,1121 244,1121 267,1061 291,799 315,787 338,781 362,768 386,757 409,702 433,681 457,680 480,679 504,678 527,678 551,680 575,679 598,681 622,678 646,685 669,681 693,680 717,681" stroke="#67b366" marker-start="url(#m90)" marker-mid="url(#m90)" marker-end="url(#m90)"/>
<polyline points="78,1121 102,1121 126,1121 149,1121 173,1121 196,1121 220,1121 244,1121 267,1001 291,802 315,796 338,776 362,775 386,758 409,702 433,679 457,679 480,680 504,679 527,681 551,681 575,680 598,678 622,678 646,679 669,680 693,683 717,682" stroke="#64b166" marker-start="url(#m91)" marker-mid="url(#m91)" marker-end="url(#m91)"/>
<polyline points="78,1121 102,1121 126,1121 149,1121 173,1121 196,1121 220,1121 244,1121 267,1008 291,802 315,790 338,778 362,772 386,755 409,715 433,681 457,678 480,682 504,685 527,679 551,679 575,681 598,678 622,682 646,681 669,681 693,680 717,678" stroke="#64b166" marker-start="url(#m91)" marker-mid="url(#m91)" marker-end="url(#m91)"/>
<polyline points="78,1121 102,1121 126,1121 149,1121 173,1121 196,1121 220,1121 244,1121 267,979 291,798 315,787 338,779 362,769 386,770 409,717 433,685 457,680 480,679 504,683 527,678 551,679 575,678 598,682 622,680 646,683 669,681 693,680 717,679" stroke="#61b066" marker-start="url(#m92)" marker-mid="url(#m92)" marker-end="url(#m92)"/>
<polyline points="78,1121 102,1121 126,1121 149,1121 173,1121 196,1121 220,1121 244,1121 267,1024 291,836 315,790 338,783 362,776 386,779 409,716 433,680 457,682 480,679 504,679 527,681 551,680 575,680 598,680 622,679 646,685 669,679 693,679 717,679" stroke="#61b066" marker-start="url(#m92)" marker-mid="url(#m92)" marker-end="url(#m92)"/>
<polyline points="78,1121 102,1121 126,1121 149,1121 173,1121 196,1121 220,1121 244,1121 267,1019 291,793 315,779 338,786 362,775 386,773 409,738 433,694 457,679 480,679 504,683 527,679 551,679 575,683 598,679 622,681 646,678 669,683 693,678 717,678" stroke="#5eae66" marker-start="url(#m93)" marker-mid="url(#m93)" marker-end="url(#m93)"/>
<polyline points="78,1121 102,1121 126,1121 149,1121 173,1121 196,1121 220,1121 244,1121 267,991 291,804 315,787 338,780 362,776 386,773 409,732 433,702 457,681 480,679 504,679 527,681 551,681 575,680 598,681 622,679 646,682 669,685 693,679 717,678" stroke="#5eae66" marker-start="url(#m93)" marker-mid="url(#m93)" marker-end="url(#m93)"/>
<polyline points="78,1121 102,1121 126,1121 149,1121 173,1121 196,1121 220,1121 244,1121 267,980 291,805 315,787 338,776 362,775 386,768 409,714 433,688 457,681 480,679 504,682 527,679 551,680 575,679 598,679 622,679 646,679 669,679 693,682 717,679" stroke="#5bad66" marker-start="url(#m94)" marker-mid="url(#m94)" marker-end="url(#m94)"/>
<polyline points="78,1121 102,1121 126,1121 149,1121 173,1121 196,1121 220,1121 244,1121 267,981 291,803 315,787 338,783 362,781 386,771 409,753 433,700 457,686 480,678 504,678 527,681 551,680 575,681 598,680 622,680 646,679 669,678 693,679 717,679" stroke="#5bad66" marker-start="url(#m94)" marker-mid="url(#m94)" marker-end="url(#m94)"/>
<polyline points="78,1121 102,1121 126,1121 149,1121 173,1121 196,1121 220,1121 244,1121 267,981 291,805 315,789 338,782 362,770 386,766 409,753 433,706 457,679 480,681 504,682 527,678 551,680 575,679 598,678 622,679 646,678 669,680 693,678 717,680" stroke="#5bad66" marker-start="url(#m94)" marker-mid="url(#m94)" marker-end="url(#m94)"/>
<polyline points="78,1121 102,1121 126,1121 149,1121 173,1121 196,1121 220,1121 244,1121 267,967 291,802 315,787 338,790 362,778 386,773 409,744 433,694 457,680 480,683 504,681 527,682 551,678 575,678 598,680 622,680 646,683 669,678 693,682 717,678" stroke="#58ab66" marker-start="url(#m95)" marker-mid="url(#m95)" marker-end="url(#m95)"/>
<polyline points="78,1121 102,1121 126,1121 149,1121 173,1121 196,1121 220,1121 244,1121 267,971 291,803 315,787 338,782 362,776 386,780 409,737 433,697 457,678 480,679 504,681 527,680 551,680 575,681 598,678 622,683 646,678 669,681 693,678 717,685" stroke="#58ab66" marker-start="url(#m95)" marker-mid="url(#m95)" marker-end="url(#m95)"/>
<polyline points="78,1121 102,1121 126,1121 149,1121 173,1121 196,1121 220,1121 244,1121 267,967 291,807 315,792 338,781 362,776 386,780 409,740 433,699 457,682 480,679 504,682 527,678 551,678 575,682 598,679 622,680 646,679 669,679 693,678 717,686" stroke="#55aa66" marker-start="url(#m96)" marker-mid="url(#m96)" marker-end="url(#m96)"/>
<polyline points="78,1121 102,1121 126,1121 149,1121 173,1121 196,1121 220,1121 244,1121 267,959 291,802 315,793 338,784 362,777 386,773 409,765 433,730 457,687 480,679 504,679 527,680 551,678 575,680 598,681 622,678 646,679 669,683 693,681 717,679" stroke="#55aa66" marker-start="url(#m96)" marker-mid="url(#m96)" marker-end="url(#m96)"/>
<polyline points="78,1121 102,1121 126,1121 149,1121 173,1121 196,1121 220,1121 244,1121 267,972 291,798 315,788 338,785 362,779 386,770 409,743 433,697 457,680 480,678 504,678 527,679 551,679 575,678 598,682 622,680 646,679 669,680 693,678 717,679" stroke="#52a866" marker-start="url(#m97)" marker-mid="url(#m97)" marker-end="url(#m97)"/>
<polyline points="78,1121 102,1121 126,1121 149,1121 173,1121 196,1121 220,1121 244,1121 267,947 291,803 315,790 338,787 362,776 386,776 409,763 433,716 457,682 480,678 504,679 527,681 551,682 575,680 598,681 622,679 646,680 669,679 693,682 717,680" stroke="#52a866" marker-start="url(#m97)" marker-mid="url(#m97)" marker-end="url(#m97)"/>
<polyline points="78,1121 102,1121 126,1121 149,1121 173,1121 196,1121 220,1121 244,1113 267,945 291,805 315,790 338,777 362,780 386,771 409,763 433,746 457,694 480,680 504,679 527,681 551,680 575,679 598,682 622,678 646,678 669,682 693,683 717,679" stroke="#52a866" marker-start="url(#m97)" marker-mid="url(#m97)" marker-end="url(#m97)"/>
<polyline points="78,1121 102,1121 126,1121 149,1121 173,1121 196,1121 220,1121 244,1121 267,926 291,806 315,793 338,785 362,777 386,773 409,766 433,750 457,700 480,683 504,682 527,679 551,680 575,680 598,683 622,680 646,678 669,681 693,681 717,682" stroke="#4fa766" marker-start="url(#m98)" marker-mid="url(#m98)" marker-end="url(#m98)"/>
<polyline points="78,1121 102,1121 126,1121 149,1121 173,1121 196,1121 220,1121 244,1116 267,951 291,803 315,796 338,791 362,779 386,777 409,765 433,716 457,687 480,678 504,682 527,679 551,679 575,682 598,681 622,678 646,681 669,678 693,679 717,680" stroke="#4fa766" marker-start="url(#m98)" marker-mid="url(#m98)" marker-end="url(#m98)"/>
<polyline points="78,1121 102,1121 126,1121 149,1121 173,1121 196,1121 220,1121 244,1121 267,951 291,802 315,799 338,784 362,781 386,777 409,770 433,722 457,684 480,683 504,680 527,681 551,680 575,678 598,679 622,680 646,679 669,678 693,680 717,679" stroke="#4ba566" marker-start="url(#m99)" marker-mid="url(#m99)" marker-end="url(#m99)"/>
<polyline points="78,1121 102,1121 126,1121 149,1121 173,1121 196,1121 220,1121 244,1121 267,944 291,805 315,796 338,782 362,783 386,777 409,769 433,739 457,692 480,678 504,679 527,681 551,682 575,679 598,680 622,678 646,680 669,682 693,679 717,680" stroke="#4ba566" marker-start="url(#m99)" marker-mid="url(#m99)" marker-end="url(#m99)"/>
<polyline points="78,1121 102,1121 126,1121 149,1121 173,1121 196,1121 220,1121 244,1088 267,941 291,804 315,794 338,787 362,784 386,771 409,766 433,748 457,704 480,680 504,680 527,679 551,678 575,680 598,681 622,679 646,680 669,682 693,682 717,685" stroke="#4ba566" marker-start="url(#m99)" marker-mid="url(#m99)" marker-end="url(#m99)"/>
<polyline points="78,1121 102,1121 126,1121 149,1121 173,1121 196,1121 220,1121 244,1121 267,935 291,805 315,795 338,786 362,783 386,770 409,774 433,736 457,698 480,679 504,681 527,678 551,681 575,681 598,678 622,681 646,679 669,679 693,678 717,680" stroke="#48a466" marker-start="url(#m100)" marker-mid="url(#m100)" marker-end="url(#m100)"/>
<polyline points="78,1121 102,1121 126,1121 149,1121 173,1121 196,1121 220,1121 244,1118 267,938 291,804 315,796 338,789 362,782 386,770 409,769 433,757 457,708 480,679 504,678 527,681 551,679 575,685 598,680 622,679 646,678 669,678 693,681 717,682" stroke="#48a466" marker-start="url(#m100)" marker-mid="url(#m100)" marker-end="url(#m100)"/>
<polyline points="78,1121 102,1121 126,1121 149,1121 173,1121 196,1121 220,1121 244,1093 267,923 291,807 315,790 338,781 362,778 386,780 409,770 433,758 457,715 480,687 504,682 527,680 551,681 575,678 598,679 622,678 646,679 669,684 693,683 717,678" stroke="#45a266" marker-start="url(#m101)" marker-mid="url(#m101)" marker-end="url(#m101)"/>
<polyline points="78,1121 102,1121 126,1121 149,1121 173,1121 196,1121 220,1121 244,1076 267,922 291,802 315,801 338,789 362,775 386,776 409,769 433,761 457,718 480,689 504,681 527,680 551,679 575,680 598,679 622,679 646,681 669,679 693,679 717,681" stroke="#45a266" marker-start="url(#m101)" marker-mid="url(#m101)" marker-end="url(#m101)"/>
<polyline points="78,1121 102,1121 126,1121 149,1121 173,1121 196,1121 220,1121 244,1100 267,937 291,808 315,799 338,788 362,774 386,774 409,774 433,762 457,716 480,688 504,681 527,683 551,681 575,679 598,678 622,683 646,683 669,679 693,680 717,680" stroke="#45a266" marker-start="url(#m101)" marker-mid="url(#m101)" marker-end="url(#m101)"/>
<polyline points="78,1121 102,1121 126,1121 149,1121 173,1121 196,1121 220,1121 244,1121 267,929 291,807 315,795 338,787 362,784 386,774 409,769 433,764 457,718 480,680 504,681 527,678 551,682 575,678 598,686 622,680 646,678 669,678 693,680 717,681" stroke="#42a166" marker-start="url(#m102)" marker-mid="url(#m102)" marker-end="url(#m102)"/>
<polyline points="78,1121 102,1121 126,1121 149,1121 173,1121 196,1121 220,1121 244,1079 267,899 291,806 315,793 338,790 362,780 386,778 409,770 433,765 457,715 480,682 504,680 527,681 551,680 575,681 598,678 622,678 646,681 669,679 693,679 717,682" stroke="#42a166" marker-start="url(#m102)" marker-mid="url(#m102)" marker-end="url(#m102)"/>
<polyline points="78,1121 102,1121 126,1121 149,1121 173,1121 196,1121 220,1121 244,1121 267,933 291,817 315,791 338,790 362,784 386,782 409,773 433,761 457,711 480,689 504,679 527,680 551,679 575,680 598,679 622,679 646,680 669,680 693,679 717,679" stroke="#3f9f66" marker-start="url(#m103)" marker-mid="url(#m103)" marker-end="url(#m103)"/>
<polyline points="78,1121 102,1121 126,1121 149,1121 173,1121 196,1121 220,1121 244,1088 267,921 291,807 315,794 338,785 362,785 386,773 409,774 433,761 457,749 480,701 504,679 527,679 551,679 575,680 598,680 622,679 646,680 669,678 693,679 717,682" stroke="#3f9f66" marker-start="url(#m103)" marker-mid="url(#m103)" marker-end="url(#m103)"/>
<polyline points="78,1121 102,1121 126,1121 149,1121 173,1121 196,1121 220,1121 244,1095 267,906 291,805 315,796 338,791 362,782 386,776 409,770 433,758 457,741 480,697 504,681 527,681 551,681 575,679 598,680 622,682 646,681 669,680 693,678 717,679" stroke="#3f9f66" marker-start="url(#m103)" marker-mid="url(#m103)" marker-end="url(#m103)"/>
<polyline points="78,1121 102,1121 126,1121 149,1121 173,1121 196,1121 220,1121 244,1064 267,896 291,812 315,792 338,791 362,791 386,780 409,779 433,766 457,747 480,703 504,682 527,681 551,680 575,679 598,680 622,680 646,680 669,679 693,680 717,680" stroke="#3c9e66" marker-start="url(#m104)" marker-mid="url(#m104)" marker-end="url(#m104)"/>
<polyline points="78,1121 102,1121 126,1121 149,1121 173,1121 196,1121 220,1121 244,1095 267,899 291,803 315,798 338,791 362,785 386,780 409,772 433,765 457,750 480,695 504,681 527,680 551,678 575,679 598,679 622,680 646,678 669,680 693,682 717,681" stroke="#3c9e66" marker-start="url(#m104)" marker-mid="url(#m104)" marker-end="url(#m104)"/>
<polyline points="78,1121 102,1121 126,1121 149,1121 173,1121 196,1121 220,1121 244,1054 267,880 291,811 315,796 338,788 362,789 386,777 409,769 433,768 457,760 480,715 504,685 527,680 551,680 575,681 598,680 622,679 646,681 669,682 693,683 717,679" stroke="#3c9e66" marker-start="url(#m104)" marker-mid="url(#m104)" marker-end="url(#m104)"/>
<polyline points="78,1121 102,1121 126,1121 149,1121 173,1121 196,1121 220,1121 244,1037 267,861 291,810 315,797 338,791 362,789 386,779 409,769 433,765 457,757 480,712 504,681 527,680 551,680 575,682 598,679 622,682 646,681 669,680 693,681 717,679" stroke="#399c66" marker-start="url(#m105)" marker-mid="url(#m105)" marker-end="url(#m105)"/>
<polyline points="78,1121 102,1121 126,1121 149,1121 173,1121 196,1121 220,1121 244,1111 267,897 291,806 315,798 338,790 362,787 386,780 409,776 433,767 457,762 480,720 504,687 527,679 551,680 575,683 598,679 622,682 646,683 669,681 693,680 717,679" stroke="#399c66" marker-start="url(#m105)" marker-mid="url(#m105)" marker-end="url(#m105)"/>
<polyline points="78,1121 102,1121 126,1121 149,1121 173,1121 196,1121 220,1121 244,1102 267,886 291,811 315,799 338,789 362,784 386,782 409,774 433,770 457,762 480,721 504,681 527,679 551,678 575,680 598,679 622,678 646,679 669,682 693,680 717,679" stroke="#369b66" marker-start="url(#m106)" marker-mid="url(#m106)" marker-end="url(#m106)"/>
<polyline points="78,1121 102,1121 126,1121 149,1121 173,1121 196,1121 220,1121 244,1080 267,884 291,807 315,797 338,787 362,786 386,775 409,774 433,767 457,759 480,743 504,694 527,679 551,682 575,680 598,679 622,681 646,679 669,678 693,681 717,681" stroke="#369b66" marker-start="url(#m106)" marker-mid="url(#m106)" marker-end="url(#m106)"/>
<polyline points="78,1121 102,1121 126,1121 149,1121 173,1121 196,1121 220,1121 244,1041 267,866 291,813 315,802 338,798 362,786 386,782 409,774 433,762 457,764 480,739 504,693 527,681 551,683 575,678 598,679 622,678 646,680 669,678 693,680 717,680" stroke="#369b66" marker-start="url(#m106)" marker-mid="url(#m106)" marker-end="url(#m106)"/>
<polyline points="78,1121 102,1121 126,1121 149,1121 173,1121 196,1121 220,1121 244,1073 267,880 291,808 315,797 338,791 362,788 386,786 409,771 433,768 457,760 480,721 504,682 527,679 551,681 575,682 598,682 622,681 646,682 669,679 693,681 717,680" stroke="#339966" marker-start="url(#m107)" marker-mid="url(#m107)" marker-end="url(#m107)"/>
<polyline points="78,1121 102,1121 126,1121 149,1121 173,1121 196,1121 220,1121 244,1053 267,844 291,808 315,802 338,793 362,789 386,781 409,779 433,770 457,764 480,744 504,695 527,682 551,681 575,682 598,678 622,680 646,679 669,681 693,678 717,678" stroke="#339966" marker-start="url(#m107)" marker-mid="url(#m107)" marker-end="url(#m107)"/>
<polyline points="78,1121 102,1121 126,1121 149,1121 173,1121 196,1121 220,1121 244,1081 267,890 291,815 315,796 338,795 362,783 386,777 409,778 433,769 457,759 480,756 504,705 527,678 551,678 575,678 598,679 622,678 646,679 669,679 693,684 717,679" stroke="#339966" marker-start="url(#m107)" marker-mid="url(#m107)" marker-end="url(#m107)"/>
<polyline points="78,1121 102,1121 126,1121 149,1121 173,1121 196,1121 220,1121 244,1035 267,872 291,816 315,798 338,793 362,794 386,783 409,776 433,763 457,765 480,730 504,689 527,679 551,680 575,680 598,680 622,682 646,680 669,683 693,679 717,680" stroke="#309766" marker-start="url(#m108)" marker-mid="url(#m108)" marker-end="url(#m108)"/>
<polyline points="78,1121 102,1121 126,1121 149,1121 173,1121 196,1121 220,1121 244,1078 267,877 291,816 315,799 338,793 362,786 386,779 409,777 433,770 457,761 480,763 504,707 527,678 551,681 575,679 598,681 622,678 646,678 669,678 693,682 717,678" stroke="#309766" marker-start="url(#m108)" marker-mid="url(#m108)" marker-end="url(#m108)"/>
<polyline points="78,1121 102,1121 126,1121 149,1121 173,1121 196,1121 220,1121 244,1072 267,866 291,813 315,799 338,797 362,788 386,780 409,775 433,762 457,761 480,749 504,703 527,679 551,681 575,682 598,678 622,680 646,682 669,679 693,679 717,679" stroke="#309766" marker-start="url(#m108)" marker-mid="url(#m108)" marker-end="url(#m108)"/>
<polyline points="78,1121 102,1121 126,1121 149,1121 173,1121 196,1121 220,1121 244,1014 267,833 291,811 315,802 338,793 362,785 386,782 409,779 433,770 457,766 480,759 504,713 527,679 551,679 575,683 598,678 622,683 646,681 669,678 693,681 717,682" stroke="#2d9666" marker-start="url(#m109)" marker-mid="url(#m109)" marker-end="url(#m109)"/>
<polyline points="78,1121 102,1121 126,1121 149,1121 173,1121 196,1121 220,1121 244,1025 267,855 291,810 315,800 338,797 362,787 386,781 409,777 433,767 457,761 480,761 504,721 527,683 551,683 575,684 598,682 622,679 646,679 669,680 693,678 717,681" stroke="#2d9666" marker-start="url(#m109)" marker-mid="url(#m109)" marker-end="url(#m109)"/>
<polyline points="78,1121 102,1121 126,1121 149,1121 173,1121 196,1121 220,1121 244,1019 267,827 291,809 315,801 338,796 362,786 386,783 409,783 433,768 457,759 480,761 504,729 527,691 551,678 575,683 598,678 622,681 646,682 669,683 693,679 717,681" stroke="#2a9466" marker-start="url(#m110)" marker-mid="url(#m110)" marker-end="url(#m110)"/>
<polyline points="78,1121 102,1121 126,1121 149,1121 173,1121 196,1121 220,1121 244,1040 267,872 291,813 315,803 338,793 362,792 386,778 409,781 433,767 457,762 480,758 504,712 527,678 551,680 575,682 598,680 622,679 646,680 669,678 693,678 717,681" stroke="#2a9466" marker-start="url(#m110)" marker-mid="url(#m110)" marker-end="url(#m110)"/>
<polyline points="78,1121 102,1121 126,1121 149,1121 173,1121 196,1121 220,1121 244,1050 267,872 291,815 315,796 338,796 362,789 386,785 409,778 433,768 457,759 480,761 504,726 527,686 551,679 575,678 598,679 622,681 646,680 669,678 693,678 717,679" stroke="#2a9466" marker-start="url(#m110)" marker-mid="url(#m110)" marker-end="url(#m110)"/>
<polyline points="78,1121 102,1121 126,1121 149,1121 173,1121 196,1121 220,1121 244,1016 267,841 291,814 315,805 338,795 362,787 386,780 409,779 433,768 457,764 480,759 504,727 527,685 551,679 575,681 598,682 622,681 646,679 669,680 693,681 717,682" stroke="#279366" marker-start="url(#m111)" marker-mid="url(#m111)" marker-end="url(#m111)"/>
<polyline points="78,1121 102,1121 126,1121 149,1121 173,1121 196,1121 220,1121 244,1013 267,840 291,812 315,799 338,794 362,789 386,784 409,782 433,769 457,766 480,764 504,743 527,695 551,678 575,678 598,679 622,679 646,679 669,680 693,681 717,681" stroke="#279366" marker-start="url(#m111)" marker-mid="url(#m111)" marker-end="url(#m111)"/>
<polyline points="78,1121 102,1121 126,1121 149,1121 173,1121 196,1121 220,1121 244,1021 267,831 291,815 315,798 338,799 362,786 386,781 409,781 433,772 457,762 480,762 504,739 527,692 551,679 575,683 598,681 622,684 646,681 669,679 693,682 717,679" stroke="#279366" marker-start="url(#m111)" marker-mid="url(#m111)" marker-end="url(#m111)"/>
<polyline points="78,1121 102,1121 126,1121 149,1121 173,1121 196,1121 220,1121 244,999 267,845 291,816 315,804 338,797 362,787 386,785 409,783 433,767 457,763 480,766 504,727 527,691 551,678 575,680 598,680 622,679 646,679 669,678 693,683 717,680" stroke="#249166" marker-start="url(#m112)" marker-mid="url(#m112)" marker-end="url(#m112)"/>
<polyline points="78,1121 102,1121 126,1121 149,1121 173,1121 196,1121 220,1121 244,990 267,808 291,814 315,804 338,794 362,789 386,783 409,781 433,772 457,764 480,762 504,736 527,699 551,681 575,678 598,681 622,678 646,680 669,682 693,679 717,679" stroke="#249166" marker-start="url(#m112)" marker-mid="url(#m112)" marker-end="url(#m112)"/>
<polyline points="78,1121 102,1121 126,1121 149,1121 173,1121 196,1121 220,1121 244,1036 267,862 291,818 315,803 338,794 362,789 386,783 409,776 433,772 457,764 480,764 504,760 527,709 551,679 575,680 598,680 622,683 646,681 669,678 693,679 717,680" stroke="#249166" marker-start="url(#m112)" marker-mid="url(#m112)" marker-end="url(#m112)"/>
<polyline points="78,1121 102,1121 126,1121 149,1121 173,1121 196,1121 220,1121 244,1005 267,818 291,818 315,800 338,802 362,788 386,782 409,782 433,770 457,765 480,768 504,757 527,700 551,678 575,679 598,680 622,680 646,680 669,679 693,685 717,680" stroke="#219066" marker-start="url(#m113)" marker-mid="url(#m113)" marker-end="url(#m113)"/>
<polyline points="78,1121 102,1121 126,1121 149,1121 173,1121 196,1121 220,1121 244,1005 267,813 291,818 315,801 338,797 362,790 386,781 409,780 433,772 457,764 480,765 504,760 527,710 551,680 575,679 598,678 622,680 646,678 669,679 693,683 717,682" stroke="#219066" marker-start="url(#m113)" marker-mid="url(#m113)" marker-end="url(#m113)"/>
<polyline points="78,1121 102,1121 126,1121 149,1121 173,1121 196,1121 220,1121 244,1016 267,848 291,819 315,807 338,800 362,793 386,786 409,784 433,772 457,768 480,764 504,754 527,703 551,679 575,683 598,679 622,680 646,684 669,678 693,678 717,681" stroke="#219066" marker-start="url(#m113)" marker-mid="url(#m113)" marker-end="url(#m113)"/>
<polyline points="78,1121 102,1121 126,1121 149,1121 173,1121 196,1121 220,1121 244,1013 267,823 291,819 315,799 338,799 362,795 386,783 409,777 433,770 457,765 480,765 504,766 527,719 551,682 575,681 598,679 622,681 646,680 669,679 693,678 717,681" stroke="#1e8e66" marker-start="url(#m114)" marker-mid="url(#m114)" marker-end="url(#m114)"/>
<polyline points="78,1121 102,1121 126,1121 149,1121 173,1121 196,1121 220,1121 244,996 267,848 291,816 315,808 338,795 362,793 386,784 409,783 433,772 457,764 480,763 504,758 527,722 551,687 575,680 598,680 622,680 646,681 669,685 693,680 717,679" stroke="#1e8e66" marker-start="url(#m114)" marker-mid="url(#m114)" marker-end="url(#m114)"/>
<polyline points="78,1121 102,1121 126,1121 149,1121 173,1121 196,1121 220,1121 244,995 267,827 291,821 315,803 338,804 362,793 386,788 409,782 433,771 457,764 480,766 504,758 527,726 551,681 575,678 598,680 622,678 646,678 669,681 693,682 717,679" stroke="#1e8e66" marker-start="url(#m114)" marker-mid="url(#m114)" marker-end="url(#m114)"/>
<polyline points="78,1121 102,1121 126,1121 149,1121 173,1121 196,1121 220,1121 244,999 267,843 291,821 315,810 338,801 362,792 386,782 409,780 433,775 457,768 480,767 504,760 527,724 551,686 575,680 598,680 622,678 646,679 669,681 693,679 717,681" stroke="#1b8d66" marker-start="url(#m115)" marker-mid="url(#m115)" marker-end="url(#m115)"/>
<polyline points="78,1121 102,1121 126,1121 149,1121 173,1121 196,1121 220,1121 244,994 267,820 291,822 315,806 338,800 362,792 386,784 409,787 433,776 457,762 480,768 504,757 527,735 551,692 575,680 598,680 622,679 646,681 669,681 693,679 717,678" stroke="#1b8d66" marker-start="url(#m115)" marker-mid="url(#m115)" marker-end="url(#m115)"/>
<polyline points="78,1121 102,1121 126,1121 149,1121 173,1121 196,1121 220,1121 244,984 267,829 291,823 315,808 338,798 362,794 386,784 409,786 433,773 457,767 480,766 504,759 527,737 551,691 575,681 598,681 622,679 646,683 669,683 693,686 717,683" stroke="#1b8d66" marker-start="url(#m115)" marker-mid="url(#m115)" marker-end="url(#m115)"/>
<polyline points="78,1121 102,1121 126,1121 149,1121 173,1121 196,1121 220,1121 244,968 267,806 291,820 315,802 338,802 362,792 386,785 409,782 433,772 457,771 480,764 504,760 527,750 551,698 575,678 598,678 622,680 646,686 669,679 693,682 717,683" stroke="#178b66" marker-start="url(#m116)" marker-mid="url(#m116)" marker-end="url(#m116)"/>
<polyline points="78,1121 102,1121 126,1121 149,1121 173,1121 196,1121 220,1121 244,982 267,830 291,819 315,803 338,802 362,790 386,792 409,781 433,776 457,770 480,768 504,758 527,742 551,697 575,678 598,679 622,679 646,679 669,683 693,678 717,681" stroke="#178b66" marker-start="url(#m116)" marker-mid="url(#m116)" marker-end="url(#m116)"/>
<polyline points="78,1121 102,1121 126,1121 149,1121 173,1121 196,1121 220,1121 244,963 267,810 291,825 315,807 338,801 362,795 386,787 409,783 433,771 457,768 480,768 504,759 527,741 551,695 575,679 598,680 622,681 646,687 669,679 693,681 717,680" stroke="#178b66" marker-start="url(#m116)" marker-mid="url(#m116)" marker-end="url(#m116)"/>
<polyline points="78,1121 102,1121 126,1121 149,1121 173,1121 196,1121 220,1120 244,965 267,809 291,820 315,804 338,803 362,795 386,786 409,785 433,771 457,768 480,769 504,760 527,746 551,701 575,679 598,678 622,681 646,679 669,681 693,679 717,683" stroke="#148a66" marker-start="url(#m117)" marker-mid="url(#m117)" marker-end="url(#m117)"/>
<polyline points="78,1121 102,1121 126,1121 149,1121 173,1121 196,1121 220,1121 244,970 267,808 291,824 315,811 338,805 362,795 386,790 409,783 433,773 457,767 480,766 504,755 527,759 551,703 575,680 598,678 622,678 646,679 669,680 693,680 717,680" stroke="#148a66" marker-start="url(#m117)" marker-mid="url(#m117)" marker-end="url(#m117)"/>
<polyline points="78,1121 102,1121 126,1121 149,1121 173,1121 196,1121 220,1121 244,986 267,831 291,823 315,807 338,801 362,789 386,791 409,780 433,774 457,770 480,769 504,764 527,747 551,704 575,678 598,679 622,680 646,679 669,680 693,678 717,682" stroke="#148a66" marker-start="url(#m117)" marker-mid="url(#m117)" marker-end="url(#m117)"/>
<polyline points="78,1121 102,1121 126,1121 149,1121 173,1121 196,1121 220,1121 244,967 267,806 291,825 315,811 338,803 362,790 386,786 409,783 433,774 457,769 480,773 504,762 527,758 551,707 575,680 598,679 622,678 646,680 669,680 693,680 717,682" stroke="#118866" marker-start="url(#m118)" marker-mid="url(#m118)" marker-end="url(#m118)"/>
<polyline points="78,1121 102,1121 126,1121 149,1121 173,1121 196,1121 220,1121 244,983 267,813 291,822 315,808 338,802 362,794 386,786 409,781 433,775 457,770 480,769 504,762 527,757 551,714 575,683 598,678 622,679 646,681 669,680 693,681 717,678" stroke="#118866" marker-start="url(#m118)" marker-mid="url(#m118)" marker-end="url(#m118)"/>
<polyline points="78,1121 102,1121 126,1121 149,1121 173,1121 196,1121 220,1121 244,975 267,809 291,822 315,805 338,801 362,797 386,787 409,786 433,774 457,769 480,767 504,762 527,760 551,722 575,681 598,679 622,679 646,683 669,678 693,681 717,681" stroke="#118866" marker-start="url(#m118)" marker-mid="url(#m118)" marker-end="url(#m118)"/>
<polyline points="78,1121 102,1121 126,1121 149,1121 173,1121 196,1121 220,1121 244,962 267,809 291,823 315,807 338,805 362,795 386,785 409,786 433,779 457,772 480,766 504,761 527,760 551,729 575,683 598,683 622,685 646,680 669,680 693,679 717,679" stroke="#0e8766" marker-start="url(#m119)" marker-mid="url(#m119)" marker-end="url(#m119)"/>
<polyline points="78,1121 102,1121 126,1121 149,1121 173,1121 196,1121 220,1119 244,962 267,806 291,824 315,808 338,804 362,796 386,788 409,787 433,775 457,771 480,774 504,760 527,763 551,747 575,693 598,684 622,681 646,682 669,680 693,679 717,682" stroke="#0e8766" marker-start="url(#m119)" marker-mid="url(#m119)" marker-end="url(#m119)"/>
<polyline points="78,1121 102,1121 126,1121 149,1121 173,1121 196,1121 220,1101 244,953 267,808 291,825 315,812 338,802 362,797 386,787 409,785 433,776 457,765 480,770 504,761 527,760 551,738 575,691 598,683 622,680 646,682 669,679 693,682 717,679" stroke="#0e8766" marker-start="url(#m119)" marker-mid="url(#m119)" marker-end="url(#m119)"/>
<polyline points="78,1121 102,1121 126,1121 149,1121 173,1121 196,1121 220,1121 244,968 267,807 291,826 315,810 338,807 362,796 386,789 409,790 433,775 457,770 480,769 504,760 527,763 551,733 575,689 598,679 622,681 646,680 669,679 693,678 717,681" stroke="#0b8566" marker-start="url(#m120)" marker-mid="url(#m120)" marker-end="url(#m120)"/>
<polyline points="78,1121 102,1121 126,1121 149,1121 173,1121 196,1121 220,1121 244,966 267,810 291,824 315,807 338,806 362,799 386,788 409,789 433,777 457,772 480,769 504,764 527,761 551,747 575,699 598,679 622,679 646,682 669,680 693,681 717,680" stroke="#0b8566" marker-start="url(#m120)" marker-mid="url(#m120)" marker-end="url(#m120)"/>
<polyline points="78,1121 102,1121 126,1121 149,1121 173,1121 196,1121 220,1119 244,946 267,810 291,825 315,811 338,804 362,798 386,791 409,787 433,776 457,769 480,769 504,764 527,762 551,754 575,702 598,679 622,678 646,679 669,679 693,679 717,678" stroke="#0b8566" marker-start="url(#m120)" marker-mid="url(#m120)" marker-end="url(#m120)"/>
<polyline points="78,1121 102,1121 126,1121 149,1121 173,1121 196,1121 220,1098 244,928 267,811 291,825 315,811 338,804 362,799 386,787 409,787 433,778 457,771 480,771 504,760 527,760 551,755 575,701 598,678 622,680 646,678 669,679 693,683 717,680" stroke="#088466" marker-start="url(#m121)" marker-mid="url(#m121)" marker-end="url(#m121)"/>
<polyline points="78,1121 102,1121 126,1121 149,1121 173,1121 196,1121 220,1103 244,955 267,813 291,828 315,810 338,799 362,796 386,792 409,788 433,776 457,771 480,773 504,762 527,762 551,753 575,704 598,678 622,682 646,679 669,681 693,679 717,683" stroke="#088466" marker-start="url(#m121)" marker-mid="url(#m121)" marker-end="url(#m121)"/>
<polyline points="78,1121 102,1121 126,1121 149,1121 173,1121 196,1121 220,1093 244,933 267,808 291,825 315,809 338,804 362,799 386,788 409,785 433,776 457,770 480,770 504,764 527,763 551,755 575,706 598,679 622,678 646,680 669,681 693,683 717,680" stroke="#088466" marker-start="url(#m121)" marker-mid="url(#m121)" marker-end="url(#m121)"/>
<polyline points="78,1121 102,1121 126,1121 149,1121 173,1121 196,1121 220,1101 244,946 267,807 291,828 315,807 338,806 362,797 386,790 409,788 433,773 457,767 480,774 504,764 527,761 551,754 575,704 598,678 622,681 646,678 669,681 693,678 717,683" stroke="#058266" marker-start="url(#m122)" marker-mid="url(#m122)" marker-end="url(#m122)"/>
<polyline points="78,1121 102,1121 126,1121 149,1121 173,1121 196,1121 220,1097 244,935 267,812 291,828 315,812 338,806 362,798 386,787 409,787 433,774 457,770 480,776 504,765 527,767 551,756 575,713 598,683 622,680 646,678 669,680 693,679 717,681" stroke="#058266" marker-start="url(#m122)" marker-mid="url(#m122)" marker-end="url(#m122)"/>
</g>
<rect x="101.90" y="664.90" width="591.10" height="470.30" fill="none" stroke="#000" stroke-width="5.3"/>
<text x="101.90" y="1168.70" font-size="29.20" text-anchor="middle" fill="#000" textLength="36.23" lengthAdjust="spacingAndGlyphs">10</text>
<text x="220.12" y="1168.70" font-size="29.20" text-anchor="middle" fill="#000" textLength="36.23" lengthAdjust="spacingAndGlyphs">15</text>
<text x="338.34" y="1168.70" font-size="29.20" text-anchor="middle" fill="#000" textLength="36.23" lengthAdjust="spacingAndGlyphs">20</text>
<text x="456.56" y="1168.70" font-size="29.20" text-anchor="middle" fill="#000" textLength="36.23" lengthAdjust="spacingAndGlyphs">25</text>
<text x="574.78" y="1168.70" font-size="29.20" text-anchor="middle" fill="#000" textLength="36.23" lengthAdjust="spacingAndGlyphs">30</text>
<text x="693.00" y="1168.70" font-size="29.20" text-anchor="middle" fill="#000" textLength="36.23" lengthAdjust="spacingAndGlyphs">35</text>
<text x="91.95" y="1133.90" font-size="29.20" text-anchor="end" fill="#000" textLength="46.12" lengthAdjust="spacingAndGlyphs">0.0</text>
<text x="91.95" y="1044.94" font-size="29.20" text-anchor="end" fill="#000" textLength="46.12" lengthAdjust="spacingAndGlyphs">0.2</text>
<text x="91.95" y="955.98" font-size="29.20" text-anchor="end" fill="#000" textLength="46.12" lengthAdjust="spacingAndGlyphs">0.4</text>
<text x="91.95" y="867.02" font-size="29.20" text-anchor="end" fill="#000" textLength="46.12" lengthAdjust="spacingAndGlyphs">0.6</text>
<text x="91.95" y="778.06" font-size="29.20" text-anchor="end" fill="#000" textLength="46.12" lengthAdjust="spacingAndGlyphs">0.8</text>
<text x="91.95" y="689.10" font-size="29.20" text-anchor="end" fill="#000" textLength="46.12" lengthAdjust="spacingAndGlyphs">1.0</text>
<text x="398.25" y="1198.70" font-size="28.20" text-anchor="middle" fill="#000" textLength="180.00" lengthAdjust="spacingAndGlyphs">Bin number</text>
<text transform="translate(35.00 1108.27) rotate(-90)" font-size="35.8" fill="#000">Concentrations (Li/Li+Si)</text>
<g stroke="#4472c4" stroke-width="4.8" fill="none">
<path d="M224.0 630.3V659.8M602.5 630.3V659.8"/>
<path d="M226.0 639.5H320.2M508.5 639.5H600.5"/>
<path d="M244.0 630.5L227.5 639.5L244.0 648.5M582.5 630.5L599.0 639.5L582.5 648.5" stroke-linecap="round" stroke-linejoin="miter"/>
</g>
<text x="361.56" y="657.80" font-size="42.00" text-anchor="start" fill="#2e75b6">48.5 Å</text>
<text x="463.46" y="1097.50" font-size="42.00" text-anchor="start" fill="#000">cSi(110)/Li</text>
<text x="3.10" y="641.60" font-size="47.00" text-anchor="start" fill="#000">(c)</text>
<rect x="998.3" y="664.9" width="311.2" height="469.7" fill="#e9f1f9"/>
<path d="M833.00 1134.60V1121.60M951.06 1134.60V1121.60M1069.12 1134.60V1121.60M1187.18 1134.60V1121.60M1305.24 1134.60V1121.60M1423.30 1134.60V1121.60M833.00 1123.00H846.00M833.00 1034.04H846.00M833.00 945.08H846.00M833.00 856.12H846.00M833.00 767.16H846.00M833.00 678.20H846.00" stroke="#000" stroke-width="5.2" fill="none"/>
<g clip-path="url(#cld)" fill="none" stroke-width="2.9" stroke-linejoin="round" stroke-opacity="0.65">
<polyline points="809,1121 833,1121 857,1121 880,1121 904,1121 927,1121 951,1121 975,1121 998,1121 1022,1121 1046,1121 1069,1121 1093,678 1116,678 1140,678 1164,678 1187,678 1211,678 1234,678 1258,678 1282,678 1305,678 1329,678 1352,678 1376,678 1400,678 1423,678 1447,678" stroke="#00a6ac" marker-start="url(#m123)" marker-mid="url(#m123)" marker-end="url(#m123)"/>
<polyline points="809,1121 833,1121 857,1121 880,1121 904,1121 927,1121 951,1121 975,1121 998,1121 1022,989 1046,770 1069,768 1093,722 1116,689 1140,679 1164,681 1187,680 1211,679 1234,683 1258,680 1282,681 1305,682 1329,681 1352,680 1376,679 1400,678 1423,681 1447,679" stroke="#00a6ac" marker-start="url(#m123)" marker-mid="url(#m123)" marker-end="url(#m123)"/>
<polyline points="809,1121 833,1121 857,1121 880,1121 904,1121 927,1121 951,1121 975,1121 998,1121 1022,1025 1046,772 1069,775 1093,748 1116,705 1140,681 1164,682 1187,685 1211,678 1234,679 1258,681 1282,681 1305,680 1329,678 1352,683 1376,678 1400,678 1423,680 1447,679" stroke="#00a3ae" marker-start="url(#m124)" marker-mid="url(#m124)" marker-end="url(#m124)"/>
<polyline points="809,1121 833,1121 857,1121 880,1121 904,1121 927,1121 951,1121 975,1121 998,1121 1022,1119 1046,778 1069,770 1093,740 1116,701 1140,679 1164,679 1187,680 1211,678 1234,679 1258,678 1282,681 1305,681 1329,681 1352,679 1376,679 1400,679 1423,683 1447,680" stroke="#00a3ae" marker-start="url(#m124)" marker-mid="url(#m124)" marker-end="url(#m124)"/>
<polyline points="809,1121 833,1121 857,1121 880,1121 904,1121 927,1121 951,1121 975,1121 998,1121 1022,1071 1046,775 1069,771 1093,756 1116,720 1140,697 1164,678 1187,678 1211,679 1234,682 1258,680 1282,679 1305,680 1329,681 1352,678 1376,678 1400,680 1423,681 1447,680" stroke="#009faf" marker-start="url(#m125)" marker-mid="url(#m125)" marker-end="url(#m125)"/>
<polyline points="809,1121 833,1121 857,1121 880,1121 904,1121 927,1121 951,1121 975,1121 998,1121 1022,1049 1046,770 1069,777 1093,734 1116,700 1140,684 1164,682 1187,681 1211,679 1234,680 1258,683 1282,678 1305,679 1329,682 1352,679 1376,678 1400,681 1423,682 1447,680" stroke="#009faf" marker-start="url(#m125)" marker-mid="url(#m125)" marker-end="url(#m125)"/>
<polyline points="809,1121 833,1121 857,1121 880,1121 904,1121 927,1121 951,1121 975,1121 998,1121 1022,1001 1046,773 1069,773 1093,753 1116,717 1140,690 1164,681 1187,681 1211,680 1234,678 1258,679 1282,682 1305,678 1329,679 1352,681 1376,685 1400,680 1423,682 1447,681" stroke="#009faf" marker-start="url(#m125)" marker-mid="url(#m125)" marker-end="url(#m125)"/>
<polyline points="809,1121 833,1121 857,1121 880,1121 904,1121 927,1121 951,1121 975,1121 998,1121 1022,992 1046,775 1069,769 1093,768 1116,731 1140,695 1164,678 1187,681 1211,678 1234,679 1258,679 1282,684 1305,681 1329,679 1352,684 1376,682 1400,681 1423,678 1447,678" stroke="#009cb1" marker-start="url(#m126)" marker-mid="url(#m126)" marker-end="url(#m126)"/>
<polyline points="809,1121 833,1121 857,1121 880,1121 904,1121 927,1121 951,1121 975,1121 998,1121 1022,935 1046,775 1069,773 1093,764 1116,739 1140,699 1164,679 1187,680 1211,680 1234,680 1258,679 1282,679 1305,679 1329,682 1352,681 1376,679 1400,682 1423,678 1447,681" stroke="#009cb1" marker-start="url(#m126)" marker-mid="url(#m126)" marker-end="url(#m126)"/>
<polyline points="809,1121 833,1121 857,1121 880,1121 904,1121 927,1121 951,1121 975,1121 998,1121 1022,984 1046,777 1069,773 1093,763 1116,742 1140,713 1164,689 1187,680 1211,682 1234,681 1258,680 1282,678 1305,679 1329,678 1352,683 1376,678 1400,680 1423,678 1447,678" stroke="#0099b2" marker-start="url(#m127)" marker-mid="url(#m127)" marker-end="url(#m127)"/>
<polyline points="809,1121 833,1121 857,1121 880,1121 904,1121 927,1121 951,1121 975,1121 998,1121 1022,965 1046,769 1069,777 1093,766 1116,733 1140,703 1164,686 1187,682 1211,681 1234,681 1258,678 1282,684 1305,681 1329,682 1352,679 1376,684 1400,683 1423,678 1447,680" stroke="#0099b2" marker-start="url(#m127)" marker-mid="url(#m127)" marker-end="url(#m127)"/>
<polyline points="809,1121 833,1121 857,1121 880,1121 904,1121 927,1121 951,1121 975,1121 998,1121 1022,1022 1046,774 1069,769 1093,772 1116,740 1140,702 1164,681 1187,682 1211,679 1234,681 1258,680 1282,679 1305,680 1329,681 1352,681 1376,680 1400,679 1423,678 1447,679" stroke="#0099b2" marker-start="url(#m127)" marker-mid="url(#m127)" marker-end="url(#m127)"/>
<polyline points="809,1121 833,1121 857,1121 880,1121 904,1121 927,1121 951,1121 975,1121 998,1121 1022,981 1046,775 1069,767 1093,766 1116,747 1140,709 1164,686 1187,682 1211,679 1234,681 1258,680 1282,678 1305,681 1329,680 1352,678 1376,680 1400,678 1423,680 1447,679" stroke="#0096b4" marker-start="url(#m128)" marker-mid="url(#m128)" marker-end="url(#m128)"/>
<polyline points="809,1121 833,1121 857,1121 880,1121 904,1121 927,1121 951,1121 975,1121 998,1121 1022,957 1046,771 1069,771 1093,769 1116,750 1140,715 1164,683 1187,681 1211,678 1234,683 1258,679 1282,679 1305,683 1329,679 1352,681 1376,681 1400,680 1423,680 1447,680" stroke="#0096b4" marker-start="url(#m128)" marker-mid="url(#m128)" marker-end="url(#m128)"/>
<polyline points="809,1121 833,1121 857,1121 880,1121 904,1121 927,1121 951,1121 975,1121 998,1121 1022,1011 1046,780 1069,773 1093,769 1116,763 1140,739 1164,700 1187,678 1211,680 1234,681 1258,682 1282,679 1305,680 1329,681 1352,678 1376,679 1400,678 1423,679 1447,679" stroke="#0093b6" marker-start="url(#m129)" marker-mid="url(#m129)" marker-end="url(#m129)"/>
<polyline points="809,1121 833,1121 857,1121 880,1121 904,1121 927,1121 951,1121 975,1121 998,1121 1022,1013 1046,771 1069,777 1093,767 1116,763 1140,720 1164,692 1187,683 1211,678 1234,679 1258,682 1282,678 1305,678 1329,678 1352,681 1376,678 1400,680 1423,680 1447,680" stroke="#0093b6" marker-start="url(#m129)" marker-mid="url(#m129)" marker-end="url(#m129)"/>
<polyline points="809,1121 833,1121 857,1121 880,1121 904,1121 927,1121 951,1121 975,1121 998,1121 1022,970 1046,781 1069,775 1093,775 1116,760 1140,721 1164,704 1187,680 1211,682 1234,680 1258,682 1282,678 1305,683 1329,681 1352,678 1376,683 1400,680 1423,682 1447,682" stroke="#0093b6" marker-start="url(#m129)" marker-mid="url(#m129)" marker-end="url(#m129)"/>
<polyline points="809,1121 833,1121 857,1121 880,1121 904,1121 927,1121 951,1121 975,1121 998,1121 1022,919 1046,784 1069,776 1093,765 1116,771 1140,752 1164,712 1187,686 1211,679 1234,679 1258,680 1282,679 1305,679 1329,683 1352,679 1376,678 1400,679 1423,679 1447,679" stroke="#008fb7" marker-start="url(#m130)" marker-mid="url(#m130)" marker-end="url(#m130)"/>
<polyline points="809,1121 833,1121 857,1121 880,1121 904,1121 927,1121 951,1121 975,1121 998,1121 1022,919 1046,776 1069,772 1093,771 1116,767 1140,742 1164,703 1187,680 1211,681 1234,682 1258,683 1282,681 1305,683 1329,679 1352,680 1376,680 1400,680 1423,679 1447,680" stroke="#008fb7" marker-start="url(#m130)" marker-mid="url(#m130)" marker-end="url(#m130)"/>
<polyline points="809,1121 833,1121 857,1121 880,1121 904,1121 927,1121 951,1121 975,1121 998,1121 1022,895 1046,773 1069,775 1093,769 1116,766 1140,744 1164,704 1187,682 1211,680 1234,678 1258,681 1282,680 1305,680 1329,678 1352,685 1376,680 1400,678 1423,679 1447,681" stroke="#008cb9" marker-start="url(#m131)" marker-mid="url(#m131)" marker-end="url(#m131)"/>
<polyline points="809,1121 833,1121 857,1121 880,1121 904,1121 927,1121 951,1121 975,1121 998,1121 1022,875 1046,781 1069,778 1093,770 1116,765 1140,748 1164,714 1187,682 1211,680 1234,680 1258,680 1282,681 1305,680 1329,681 1352,679 1376,679 1400,679 1423,679 1447,678" stroke="#008cb9" marker-start="url(#m131)" marker-mid="url(#m131)" marker-end="url(#m131)"/>
<polyline points="809,1121 833,1121 857,1121 880,1121 904,1121 927,1121 951,1121 975,1121 998,1121 1022,954 1046,773 1069,779 1093,764 1116,762 1140,765 1164,713 1187,686 1211,679 1234,678 1258,681 1282,685 1305,678 1329,680 1352,679 1376,684 1400,680 1423,679 1447,678" stroke="#008cb9" marker-start="url(#m131)" marker-mid="url(#m131)" marker-end="url(#m131)"/>
<polyline points="809,1121 833,1121 857,1121 880,1121 904,1121 927,1121 951,1121 975,1121 998,1121 1022,910 1046,769 1069,772 1093,774 1116,764 1140,751 1164,714 1187,684 1211,680 1234,678 1258,681 1282,682 1305,683 1329,680 1352,680 1376,681 1400,682 1423,679 1447,680" stroke="#0089ba" marker-start="url(#m132)" marker-mid="url(#m132)" marker-end="url(#m132)"/>
<polyline points="809,1121 833,1121 857,1121 880,1121 904,1121 927,1121 951,1121 975,1121 998,1121 1022,971 1046,773 1069,774 1093,771 1116,769 1140,759 1164,728 1187,691 1211,680 1234,681 1258,681 1282,680 1305,681 1329,682 1352,680 1376,679 1400,679 1423,683 1447,679" stroke="#0089ba" marker-start="url(#m132)" marker-mid="url(#m132)" marker-end="url(#m132)"/>
<polyline points="809,1121 833,1121 857,1121 880,1121 904,1121 927,1121 951,1121 975,1121 998,1121 1022,908 1046,777 1069,776 1093,769 1116,769 1140,759 1164,737 1187,693 1211,684 1234,679 1258,679 1282,680 1305,680 1329,682 1352,678 1376,682 1400,679 1423,678 1447,682" stroke="#0086bc" marker-start="url(#m133)" marker-mid="url(#m133)" marker-end="url(#m133)"/>
<polyline points="809,1121 833,1121 857,1121 880,1121 904,1121 927,1121 951,1121 975,1121 998,1121 1022,907 1046,782 1069,779 1093,772 1116,769 1140,762 1164,731 1187,704 1211,681 1234,678 1258,679 1282,681 1305,680 1329,681 1352,680 1376,678 1400,679 1423,678 1447,678" stroke="#0086bc" marker-start="url(#m133)" marker-mid="url(#m133)" marker-end="url(#m133)"/>
<polyline points="809,1121 833,1121 857,1121 880,1121 904,1121 927,1121 951,1121 975,1121 998,1121 1022,858 1046,775 1069,781 1093,771 1116,764 1140,759 1164,740 1187,701 1211,679 1234,678 1258,684 1282,678 1305,680 1329,679 1352,681 1376,680 1400,680 1423,683 1447,678" stroke="#0083be" marker-start="url(#m134)" marker-mid="url(#m134)" marker-end="url(#m134)"/>
<polyline points="809,1121 833,1121 857,1121 880,1121 904,1121 927,1121 951,1121 975,1121 998,1121 1022,849 1046,774 1069,779 1093,770 1116,762 1140,760 1164,736 1187,697 1211,679 1234,679 1258,682 1282,681 1305,678 1329,680 1352,678 1376,679 1400,684 1423,679 1447,680" stroke="#0083be" marker-start="url(#m134)" marker-mid="url(#m134)" marker-end="url(#m134)"/>
<polyline points="809,1121 833,1121 857,1121 880,1121 904,1121 927,1121 951,1121 975,1121 998,1121 1022,905 1046,774 1069,776 1093,771 1116,771 1140,760 1164,742 1187,704 1211,681 1234,678 1258,682 1282,682 1305,679 1329,681 1352,684 1376,678 1400,682 1423,680 1447,680" stroke="#0083be" marker-start="url(#m134)" marker-mid="url(#m134)" marker-end="url(#m134)"/>
<polyline points="809,1121 833,1121 857,1121 880,1121 904,1121 927,1121 951,1121 975,1121 998,1121 1022,860 1046,782 1069,777 1093,778 1116,768 1140,758 1164,753 1187,712 1211,683 1234,685 1258,679 1282,682 1305,678 1329,680 1352,680 1376,681 1400,684 1423,685 1447,682" stroke="#0080bf" marker-start="url(#m135)" marker-mid="url(#m135)" marker-end="url(#m135)"/>
<polyline points="809,1121 833,1121 857,1121 880,1121 904,1121 927,1121 951,1121 975,1121 998,1121 1022,885 1046,772 1069,780 1093,768 1116,769 1140,768 1164,745 1187,706 1211,693 1234,683 1258,680 1282,681 1305,681 1329,679 1352,680 1376,680 1400,681 1423,679 1447,680" stroke="#0080bf" marker-start="url(#m135)" marker-mid="url(#m135)" marker-end="url(#m135)"/>
<polyline points="809,1121 833,1121 857,1121 880,1121 904,1121 927,1121 951,1121 975,1121 998,1121 1022,893 1046,780 1069,771 1093,777 1116,765 1140,760 1164,745 1187,706 1211,683 1234,679 1258,678 1282,682 1305,680 1329,679 1352,682 1376,680 1400,679 1423,680 1447,681" stroke="#007cc1" marker-start="url(#m136)" marker-mid="url(#m136)" marker-end="url(#m136)"/>
<polyline points="809,1121 833,1121 857,1121 880,1121 904,1121 927,1121 951,1121 975,1121 998,1121 1022,887 1046,781 1069,777 1093,771 1116,773 1140,755 1164,757 1187,717 1211,701 1234,678 1258,679 1282,682 1305,678 1329,680 1352,679 1376,680 1400,679 1423,679 1447,679" stroke="#007cc1" marker-start="url(#m136)" marker-mid="url(#m136)" marker-end="url(#m136)"/>
<polyline points="809,1121 833,1121 857,1121 880,1121 904,1121 927,1121 951,1121 975,1121 998,1119 1022,879 1046,778 1069,784 1093,771 1116,769 1140,758 1164,754 1187,728 1211,698 1234,679 1258,678 1282,680 1305,679 1329,679 1352,678 1376,680 1400,679 1423,679 1447,680" stroke="#007cc1" marker-start="url(#m136)" marker-mid="url(#m136)" marker-end="url(#m136)"/>
<polyline points="809,1121 833,1121 857,1121 880,1121 904,1121 927,1121 951,1121 975,1121 998,1079 1022,846 1046,778 1069,775 1093,766 1116,770 1140,759 1164,757 1187,724 1211,691 1234,679 1258,678 1282,678 1305,680 1329,679 1352,685 1376,678 1400,680 1423,678 1447,680" stroke="#0079c2" marker-start="url(#m137)" marker-mid="url(#m137)" marker-end="url(#m137)"/>
<polyline points="809,1121 833,1121 857,1121 880,1121 904,1121 927,1121 951,1121 975,1121 998,1111 1022,871 1046,774 1069,779 1093,772 1116,768 1140,760 1164,761 1187,732 1211,699 1234,681 1258,680 1282,679 1305,679 1329,679 1352,680 1376,679 1400,680 1423,679 1447,680" stroke="#0079c2" marker-start="url(#m137)" marker-mid="url(#m137)" marker-end="url(#m137)"/>
<polyline points="809,1121 833,1121 857,1121 880,1121 904,1121 927,1121 951,1121 975,1121 998,1092 1022,848 1046,776 1069,778 1093,776 1116,767 1140,762 1164,754 1187,730 1211,696 1234,683 1258,680 1282,678 1305,679 1329,681 1352,681 1376,680 1400,683 1423,679 1447,682" stroke="#0076c4" marker-start="url(#m138)" marker-mid="url(#m138)" marker-end="url(#m138)"/>
<polyline points="809,1121 833,1121 857,1121 880,1121 904,1121 927,1121 951,1121 975,1121 998,1077 1022,845 1046,774 1069,780 1093,774 1116,762 1140,770 1164,752 1187,720 1211,691 1234,678 1258,679 1282,682 1305,678 1329,679 1352,681 1376,679 1400,679 1423,679 1447,679" stroke="#0076c4" marker-start="url(#m138)" marker-mid="url(#m138)" marker-end="url(#m138)"/>
<polyline points="809,1121 833,1121 857,1121 880,1121 904,1121 927,1121 951,1121 975,1121 998,1121 1022,794 1046,780 1069,781 1093,777 1116,771 1140,765 1164,755 1187,740 1211,706 1234,687 1258,679 1282,678 1305,682 1329,681 1352,684 1376,678 1400,683 1423,678 1447,681" stroke="#0076c4" marker-start="url(#m138)" marker-mid="url(#m138)" marker-end="url(#m138)"/>
<polyline points="809,1121 833,1121 857,1121 880,1121 904,1121 927,1121 951,1121 975,1121 998,1085 1022,789 1046,772 1069,775 1093,774 1116,766 1140,764 1164,757 1187,719 1211,701 1234,679 1258,679 1282,678 1305,679 1329,679 1352,682 1376,680 1400,682 1423,679 1447,682" stroke="#0073c6" marker-start="url(#m139)" marker-mid="url(#m139)" marker-end="url(#m139)"/>
<polyline points="809,1121 833,1121 857,1121 880,1121 904,1121 927,1121 951,1121 975,1121 998,1077 1022,833 1046,779 1069,781 1093,773 1116,772 1140,766 1164,757 1187,744 1211,713 1234,687 1258,680 1282,679 1305,681 1329,681 1352,679 1376,682 1400,680 1423,682 1447,678" stroke="#0073c6" marker-start="url(#m139)" marker-mid="url(#m139)" marker-end="url(#m139)"/>
<polyline points="809,1121 833,1121 857,1121 880,1121 904,1121 927,1121 951,1121 975,1121 998,1121 1022,834 1046,781 1069,777 1093,778 1116,772 1140,767 1164,756 1187,749 1211,717 1234,681 1258,679 1282,681 1305,679 1329,678 1352,678 1376,679 1400,680 1423,682 1447,681" stroke="#0070c7" marker-start="url(#m140)" marker-mid="url(#m140)" marker-end="url(#m140)"/>
<polyline points="809,1121 833,1121 857,1121 880,1121 904,1121 927,1121 951,1121 975,1121 998,1121 1022,786 1046,774 1069,782 1093,774 1116,769 1140,758 1164,760 1187,753 1211,719 1234,694 1258,679 1282,680 1305,680 1329,680 1352,679 1376,685 1400,679 1423,678 1447,678" stroke="#0070c7" marker-start="url(#m140)" marker-mid="url(#m140)" marker-end="url(#m140)"/>
<polyline points="809,1121 833,1121 857,1121 880,1121 904,1121 927,1121 951,1121 975,1121 998,1038 1022,785 1046,777 1069,781 1093,775 1116,773 1140,766 1164,758 1187,748 1211,714 1234,691 1258,679 1282,683 1305,683 1329,679 1352,680 1376,680 1400,678 1423,678 1447,680" stroke="#0070c7" marker-start="url(#m140)" marker-mid="url(#m140)" marker-end="url(#m140)"/>
<polyline points="809,1121 833,1121 857,1121 880,1121 904,1121 927,1121 951,1121 975,1121 998,1121 1022,789 1046,779 1069,783 1093,777 1116,773 1140,763 1164,758 1187,755 1211,719 1234,687 1258,679 1282,681 1305,680 1329,678 1352,680 1376,679 1400,678 1423,679 1447,683" stroke="#006cc9" marker-start="url(#m141)" marker-mid="url(#m141)" marker-end="url(#m141)"/>
<polyline points="809,1121 833,1121 857,1121 880,1121 904,1121 927,1121 951,1121 975,1121 998,1121 1022,784 1046,780 1069,783 1093,771 1116,772 1140,765 1164,756 1187,748 1211,713 1234,687 1258,678 1282,678 1305,678 1329,679 1352,680 1376,679 1400,684 1423,681 1447,678" stroke="#006cc9" marker-start="url(#m141)" marker-mid="url(#m141)" marker-end="url(#m141)"/>
<polyline points="809,1121 833,1121 857,1121 880,1121 904,1121 927,1121 951,1121 975,1121 998,1068 1022,824 1046,778 1069,782 1093,777 1116,773 1140,766 1164,764 1187,751 1211,710 1234,692 1258,679 1282,684 1305,679 1329,679 1352,682 1376,683 1400,679 1423,679 1447,679" stroke="#0069ca" marker-start="url(#m142)" marker-mid="url(#m142)" marker-end="url(#m142)"/>
<polyline points="809,1121 833,1121 857,1121 880,1121 904,1121 927,1121 951,1121 975,1121 998,1044 1022,787 1046,780 1069,781 1093,772 1116,770 1140,770 1164,762 1187,756 1211,731 1234,699 1258,679 1282,680 1305,681 1329,681 1352,680 1376,678 1400,678 1423,681 1447,685" stroke="#0069ca" marker-start="url(#m142)" marker-mid="url(#m142)" marker-end="url(#m142)"/>
<polyline points="809,1121 833,1121 857,1121 880,1121 904,1121 927,1121 951,1121 975,1121 998,1116 1022,790 1046,778 1069,782 1093,779 1116,777 1140,771 1164,755 1187,750 1211,725 1234,691 1258,683 1282,683 1305,680 1329,679 1352,679 1376,679 1400,679 1423,678 1447,678" stroke="#0069ca" marker-start="url(#m142)" marker-mid="url(#m142)" marker-end="url(#m142)"/>
<polyline points="809,1121 833,1121 857,1121 880,1121 904,1121 927,1121 951,1121 975,1121 998,1027 1022,792 1046,782 1069,781 1093,778 1116,771 1140,770 1164,760 1187,755 1211,725 1234,699 1258,678 1282,678 1305,679 1329,678 1352,678 1376,679 1400,679 1423,679 1447,679" stroke="#0066cc" marker-start="url(#m143)" marker-mid="url(#m143)" marker-end="url(#m143)"/>
<polyline points="809,1121 833,1121 857,1121 880,1121 904,1121 927,1121 951,1121 975,1121 998,1034 1022,790 1046,777 1069,788 1093,774 1116,770 1140,765 1164,759 1187,758 1211,721 1234,702 1258,679 1282,679 1305,679 1329,680 1352,680 1376,681 1400,679 1423,679 1447,678" stroke="#0066cc" marker-start="url(#m143)" marker-mid="url(#m143)" marker-end="url(#m143)"/>
<polyline points="809,1121 833,1121 857,1121 880,1121 904,1121 927,1121 951,1121 975,1121 998,1054 1022,787 1046,779 1069,784 1093,777 1116,775 1140,766 1164,761 1187,757 1211,733 1234,698 1258,680 1282,679 1305,678 1329,678 1352,678 1376,683 1400,678 1423,685 1447,679" stroke="#0063ce" marker-start="url(#m144)" marker-mid="url(#m144)" marker-end="url(#m144)"/>
<polyline points="809,1121 833,1121 857,1121 880,1121 904,1121 927,1121 951,1121 975,1121 998,1004 1022,788 1046,773 1069,783 1093,777 1116,770 1140,768 1164,760 1187,756 1211,732 1234,699 1258,679 1282,680 1305,681 1329,680 1352,683 1376,679 1400,683 1423,682 1447,679" stroke="#0063ce" marker-start="url(#m144)" marker-mid="url(#m144)" marker-end="url(#m144)"/>
<polyline points="809,1121 833,1121 857,1121 880,1121 904,1121 927,1121 951,1121 975,1121 998,1063 1022,787 1046,780 1069,785 1093,780 1116,777 1140,764 1164,758 1187,756 1211,754 1234,710 1258,678 1282,680 1305,680 1329,679 1352,678 1376,682 1400,680 1423,678 1447,679" stroke="#0063ce" marker-start="url(#m144)" marker-mid="url(#m144)" marker-end="url(#m144)"/>
<polyline points="809,1121 833,1121 857,1121 880,1121 904,1121 927,1121 951,1121 975,1121 998,1085 1022,787 1046,789 1069,787 1093,779 1116,775 1140,769 1164,761 1187,752 1211,750 1234,714 1258,685 1282,678 1305,679 1329,679 1352,679 1376,682 1400,678 1423,680 1447,681" stroke="#0060cf" marker-start="url(#m145)" marker-mid="url(#m145)" marker-end="url(#m145)"/>
<polyline points="809,1121 833,1121 857,1121 880,1121 904,1121 927,1121 951,1121 975,1121 998,1001 1022,788 1046,775 1069,787 1093,780 1116,778 1140,768 1164,759 1187,755 1211,745 1234,711 1258,678 1282,679 1305,679 1329,679 1352,680 1376,680 1400,678 1423,678 1447,679" stroke="#0060cf" marker-start="url(#m145)" marker-mid="url(#m145)" marker-end="url(#m145)"/>
<polyline points="809,1121 833,1121 857,1121 880,1121 904,1121 927,1121 951,1121 975,1121 998,1008 1022,787 1046,782 1069,783 1093,777 1116,770 1140,772 1164,759 1187,753 1211,754 1234,710 1258,682 1282,681 1305,680 1329,678 1352,681 1376,682 1400,682 1423,680 1447,681" stroke="#005cd1" marker-start="url(#m146)" marker-mid="url(#m146)" marker-end="url(#m146)"/>
<polyline points="809,1121 833,1121 857,1121 880,1121 904,1121 927,1121 951,1121 975,1121 998,1002 1022,786 1046,778 1069,780 1093,776 1116,774 1140,772 1164,759 1187,753 1211,757 1234,709 1258,680 1282,679 1305,683 1329,680 1352,679 1376,683 1400,685 1423,679 1447,679" stroke="#005cd1" marker-start="url(#m146)" marker-mid="url(#m146)" marker-end="url(#m146)"/>
<polyline points="809,1121 833,1121 857,1121 880,1121 904,1121 927,1121 951,1121 975,1121 998,983 1022,784 1046,781 1069,781 1093,777 1116,775 1140,769 1164,761 1187,754 1211,749 1234,722 1258,696 1282,681 1305,681 1329,678 1352,679 1376,680 1400,679 1423,678 1447,679" stroke="#005cd1" marker-start="url(#m146)" marker-mid="url(#m146)" marker-end="url(#m146)"/>
<polyline points="809,1121 833,1121 857,1121 880,1121 904,1121 927,1121 951,1121 975,1121 998,1003 1022,784 1046,781 1069,785 1093,774 1116,776 1140,769 1164,762 1187,758 1211,745 1234,728 1258,697 1282,679 1305,679 1329,680 1352,678 1376,679 1400,678 1423,682 1447,681" stroke="#0059d2" marker-start="url(#m147)" marker-mid="url(#m147)" marker-end="url(#m147)"/>
<polyline points="809,1121 833,1121 857,1121 880,1121 904,1121 927,1121 951,1121 975,1121 998,1047 1022,789 1046,785 1069,787 1093,775 1116,774 1140,765 1164,765 1187,753 1211,742 1234,708 1258,687 1282,682 1305,679 1329,683 1352,681 1376,679 1400,682 1423,678 1447,683" stroke="#0059d2" marker-start="url(#m147)" marker-mid="url(#m147)" marker-end="url(#m147)"/>
<polyline points="809,1121 833,1121 857,1121 880,1121 904,1121 927,1121 951,1121 975,1121 998,982 1022,787 1046,783 1069,782 1093,782 1116,770 1140,771 1164,761 1187,750 1211,752 1234,727 1258,687 1282,678 1305,679 1329,683 1352,680 1376,679 1400,679 1423,679 1447,680" stroke="#0056d4" marker-start="url(#m148)" marker-mid="url(#m148)" marker-end="url(#m148)"/>
<polyline points="809,1121 833,1121 857,1121 880,1121 904,1121 927,1121 951,1121 975,1121 998,992 1022,794 1046,784 1069,785 1093,773 1116,778 1140,773 1164,762 1187,760 1211,750 1234,727 1258,692 1282,680 1305,679 1329,678 1352,685 1376,678 1400,681 1423,678 1447,679" stroke="#0056d4" marker-start="url(#m148)" marker-mid="url(#m148)" marker-end="url(#m148)"/>
<polyline points="809,1121 833,1121 857,1121 880,1121 904,1121 927,1121 951,1121 975,1121 998,1004 1022,786 1046,785 1069,790 1093,778 1116,773 1140,773 1164,764 1187,758 1211,749 1234,725 1258,695 1282,679 1305,678 1329,682 1352,678 1376,678 1400,684 1423,684 1447,680" stroke="#0056d4" marker-start="url(#m148)" marker-mid="url(#m148)" marker-end="url(#m148)"/>
<polyline points="809,1121 833,1121 857,1121 880,1121 904,1121 927,1121 951,1121 975,1121 998,981 1022,790 1046,782 1069,784 1093,784 1116,774 1140,767 1164,760 1187,756 1211,753 1234,741 1258,700 1282,679 1305,681 1329,680 1352,678 1376,678 1400,678 1423,680 1447,682" stroke="#0053d6" marker-start="url(#m149)" marker-mid="url(#m149)" marker-end="url(#m149)"/>
<polyline points="809,1121 833,1121 857,1121 880,1121 904,1121 927,1121 951,1121 975,1121 998,1008 1022,791 1046,779 1069,792 1093,778 1116,777 1140,772 1164,762 1187,753 1211,755 1234,726 1258,696 1282,679 1305,682 1329,678 1352,678 1376,680 1400,681 1423,678 1447,682" stroke="#0053d6" marker-start="url(#m149)" marker-mid="url(#m149)" marker-end="url(#m149)"/>
<polyline points="809,1121 833,1121 857,1121 880,1121 904,1121 927,1121 951,1121 975,1121 998,954 1022,785 1046,786 1069,791 1093,781 1116,779 1140,771 1164,762 1187,753 1211,751 1234,732 1258,699 1282,678 1305,684 1329,679 1352,681 1376,678 1400,679 1423,683 1447,681" stroke="#0050d7" marker-start="url(#m150)" marker-mid="url(#m150)" marker-end="url(#m150)"/>
<polyline points="809,1121 833,1121 857,1121 880,1121 904,1121 927,1121 951,1121 975,1121 998,965 1022,790 1046,780 1069,790 1093,778 1116,779 1140,773 1164,761 1187,757 1211,749 1234,734 1258,702 1282,680 1305,678 1329,678 1352,682 1376,680 1400,679 1423,679 1447,679" stroke="#0050d7" marker-start="url(#m150)" marker-mid="url(#m150)" marker-end="url(#m150)"/>
<polyline points="809,1121 833,1121 857,1121 880,1121 904,1121 927,1121 951,1121 975,1121 998,997 1022,789 1046,778 1069,788 1093,778 1116,780 1140,772 1164,763 1187,760 1211,751 1234,742 1258,705 1282,681 1305,678 1329,680 1352,682 1376,679 1400,678 1423,679 1447,678" stroke="#0050d7" marker-start="url(#m150)" marker-mid="url(#m150)" marker-end="url(#m150)"/>
<polyline points="809,1121 833,1121 857,1121 880,1121 904,1121 927,1121 951,1121 975,1121 998,1009 1022,790 1046,780 1069,790 1093,781 1116,783 1140,772 1164,763 1187,758 1211,755 1234,733 1258,700 1282,680 1305,679 1329,679 1352,681 1376,679 1400,680 1423,681 1447,678" stroke="#004dd9" marker-start="url(#m151)" marker-mid="url(#m151)" marker-end="url(#m151)"/>
<polyline points="809,1121 833,1121 857,1121 880,1121 904,1121 927,1121 951,1121 975,1121 998,1015 1022,787 1046,778 1069,786 1093,785 1116,778 1140,771 1164,766 1187,754 1211,754 1234,731 1258,701 1282,682 1305,679 1329,680 1352,680 1376,678 1400,681 1423,681 1447,679" stroke="#004dd9" marker-start="url(#m151)" marker-mid="url(#m151)" marker-end="url(#m151)"/>
<polyline points="809,1121 833,1121 857,1121 880,1121 904,1121 927,1121 951,1121 975,1121 998,936 1022,794 1046,783 1069,788 1093,780 1116,778 1140,772 1164,765 1187,758 1211,756 1234,742 1258,707 1282,687 1305,679 1329,680 1352,678 1376,679 1400,679 1423,678 1447,679" stroke="#0049da" marker-start="url(#m152)" marker-mid="url(#m152)" marker-end="url(#m152)"/>
<polyline points="809,1121 833,1121 857,1121 880,1121 904,1121 927,1121 951,1121 975,1121 998,1000 1022,792 1046,786 1069,789 1093,780 1116,778 1140,770 1164,766 1187,753 1211,757 1234,743 1258,711 1282,688 1305,682 1329,681 1352,681 1376,680 1400,682 1423,681 1447,681" stroke="#0049da" marker-start="url(#m152)" marker-mid="url(#m152)" marker-end="url(#m152)"/>
<polyline points="809,1121 833,1121 857,1121 880,1121 904,1121 927,1121 951,1121 975,1121 998,984 1022,785 1046,781 1069,789 1093,776 1116,778 1140,774 1164,764 1187,760 1211,755 1234,734 1258,703 1282,683 1305,678 1329,679 1352,682 1376,681 1400,679 1423,679 1447,680" stroke="#0049da" marker-start="url(#m152)" marker-mid="url(#m152)" marker-end="url(#m152)"/>
<polyline points="809,1121 833,1121 857,1121 880,1121 904,1121 927,1121 951,1121 975,1121 998,958 1022,792 1046,787 1069,791 1093,782 1116,781 1140,772 1164,767 1187,758 1211,755 1234,753 1258,709 1282,686 1305,679 1329,680 1352,679 1376,679 1400,679 1423,682 1447,681" stroke="#0046dc" marker-start="url(#m153)" marker-mid="url(#m153)" marker-end="url(#m153)"/>
<polyline points="809,1121 833,1121 857,1121 880,1121 904,1121 927,1121 951,1121 975,1121 998,938 1022,789 1046,783 1069,791 1093,783 1116,782 1140,775 1164,768 1187,759 1211,753 1234,751 1258,717 1282,688 1305,682 1329,678 1352,679 1376,683 1400,684 1423,679 1447,679" stroke="#0046dc" marker-start="url(#m153)" marker-mid="url(#m153)" marker-end="url(#m153)"/>
<polyline points="809,1121 833,1121 857,1121 880,1121 904,1121 927,1121 951,1121 975,1121 998,990 1022,791 1046,784 1069,791 1093,778 1116,777 1140,772 1164,761 1187,758 1211,752 1234,745 1258,715 1282,687 1305,680 1329,679 1352,681 1376,680 1400,680 1423,683 1447,680" stroke="#0043de" marker-start="url(#m154)" marker-mid="url(#m154)" marker-end="url(#m154)"/>
<polyline points="809,1121 833,1121 857,1121 880,1121 904,1121 927,1121 951,1121 975,1121 998,950 1022,794 1046,783 1069,790 1093,777 1116,780 1140,772 1164,767 1187,758 1211,759 1234,749 1258,714 1282,690 1305,681 1329,678 1352,682 1376,682 1400,678 1423,679 1447,680" stroke="#0043de" marker-start="url(#m154)" marker-mid="url(#m154)" marker-end="url(#m154)"/>
<polyline points="809,1121 833,1121 857,1121 880,1121 904,1121 927,1121 951,1121 975,1121 998,937 1022,789 1046,782 1069,791 1093,782 1116,781 1140,773 1164,766 1187,760 1211,755 1234,755 1258,722 1282,689 1305,678 1329,680 1352,678 1376,679 1400,679 1423,682 1447,679" stroke="#0040df" marker-start="url(#m155)" marker-mid="url(#m155)" marker-end="url(#m155)"/>
<polyline points="809,1121 833,1121 857,1121 880,1121 904,1121 927,1121 951,1121 975,1121 998,956 1022,792 1046,779 1069,792 1093,783 1116,782 1140,774 1164,769 1187,756 1211,752 1234,750 1258,721 1282,689 1305,678 1329,682 1352,683 1376,681 1400,680 1423,680 1447,683" stroke="#0040df" marker-start="url(#m155)" marker-mid="url(#m155)" marker-end="url(#m155)"/>
<polyline points="809,1121 833,1121 857,1121 880,1121 904,1121 927,1121 951,1121 975,1121 998,940 1022,786 1046,783 1069,797 1093,782 1116,781 1140,771 1164,762 1187,755 1211,753 1234,750 1258,717 1282,689 1305,679 1329,682 1352,679 1376,679 1400,680 1423,680 1447,679" stroke="#0040df" marker-start="url(#m155)" marker-mid="url(#m155)" marker-end="url(#m155)"/>
<polyline points="809,1121 833,1121 857,1121 880,1121 904,1121 927,1121 951,1121 975,1121 998,909 1022,785 1046,782 1069,791 1093,781 1116,784 1140,776 1164,769 1187,757 1211,754 1234,745 1258,723 1282,693 1305,679 1329,683 1352,680 1376,682 1400,678 1423,680 1447,678" stroke="#003de1" marker-start="url(#m156)" marker-mid="url(#m156)" marker-end="url(#m156)"/>
<polyline points="809,1121 833,1121 857,1121 880,1121 904,1121 927,1121 951,1121 975,1121 998,929 1022,791 1046,787 1069,794 1093,787 1116,782 1140,776 1164,769 1187,761 1211,757 1234,750 1258,726 1282,695 1305,678 1329,678 1352,679 1376,678 1400,681 1423,680 1447,681" stroke="#003de1" marker-start="url(#m156)" marker-mid="url(#m156)" marker-end="url(#m156)"/>
<polyline points="809,1121 833,1121 857,1121 880,1121 904,1121 927,1121 951,1121 975,1121 998,924 1022,786 1046,788 1069,796 1093,781 1116,780 1140,773 1164,764 1187,765 1211,757 1234,751 1258,727 1282,695 1305,678 1329,680 1352,679 1376,682 1400,679 1423,679 1447,680" stroke="#0039e2" marker-start="url(#m157)" marker-mid="url(#m157)" marker-end="url(#m157)"/>
<polyline points="809,1121 833,1121 857,1121 880,1121 904,1121 927,1121 951,1121 975,1121 998,891 1022,790 1046,783 1069,795 1093,784 1116,781 1140,777 1164,764 1187,760 1211,751 1234,752 1258,737 1282,706 1305,682 1329,681 1352,680 1376,684 1400,681 1423,681 1447,679" stroke="#0039e2" marker-start="url(#m157)" marker-mid="url(#m157)" marker-end="url(#m157)"/>
<polyline points="809,1121 833,1121 857,1121 880,1121 904,1121 927,1121 951,1121 975,1121 998,905 1022,787 1046,783 1069,790 1093,786 1116,781 1140,775 1164,768 1187,762 1211,756 1234,751 1258,724 1282,693 1305,678 1329,681 1352,679 1376,680 1400,679 1423,680 1447,682" stroke="#0039e2" marker-start="url(#m157)" marker-mid="url(#m157)" marker-end="url(#m157)"/>
<polyline points="809,1121 833,1121 857,1121 880,1121 904,1121 927,1121 951,1121 975,1121 998,921 1022,790 1046,782 1069,791 1093,786 1116,784 1140,777 1164,766 1187,762 1211,755 1234,751 1258,737 1282,703 1305,684 1329,679 1352,679 1376,681 1400,679 1423,680 1447,680" stroke="#0036e4" marker-start="url(#m158)" marker-mid="url(#m158)" marker-end="url(#m158)"/>
<polyline points="809,1121 833,1121 857,1121 880,1121 904,1121 927,1121 951,1121 975,1121 998,890 1022,791 1046,786 1069,792 1093,783 1116,779 1140,774 1164,768 1187,761 1211,754 1234,751 1258,750 1282,705 1305,683 1329,679 1352,679 1376,680 1400,679 1423,680 1447,683" stroke="#0036e4" marker-start="url(#m158)" marker-mid="url(#m158)" marker-end="url(#m158)"/>
<polyline points="809,1121 833,1121 857,1121 880,1121 904,1121 927,1121 951,1121 975,1121 998,871 1022,791 1046,783 1069,799 1093,789 1116,781 1140,778 1164,767 1187,760 1211,756 1234,750 1258,742 1282,706 1305,681 1329,681 1352,681 1376,683 1400,681 1423,680 1447,681" stroke="#0033e6" marker-start="url(#m159)" marker-mid="url(#m159)" marker-end="url(#m159)"/>
<polyline points="809,1121 833,1121 857,1121 880,1121 904,1121 927,1121 951,1121 975,1121 998,874 1022,786 1046,788 1069,793 1093,782 1116,784 1140,779 1164,766 1187,757 1211,755 1234,749 1258,736 1282,701 1305,680 1329,681 1352,678 1376,679 1400,683 1423,680 1447,682" stroke="#0033e6" marker-start="url(#m159)" marker-mid="url(#m159)" marker-end="url(#m159)"/>
<polyline points="809,1121 833,1121 857,1121 880,1121 904,1121 927,1121 951,1121 975,1121 998,874 1022,793 1046,784 1069,793 1093,788 1116,785 1140,774 1164,768 1187,756 1211,761 1234,757 1258,731 1282,700 1305,684 1329,680 1352,681 1376,678 1400,679 1423,679 1447,682" stroke="#0033e6" marker-start="url(#m159)" marker-mid="url(#m159)" marker-end="url(#m159)"/>
<polyline points="809,1121 833,1121 857,1121 880,1121 904,1121 927,1121 951,1121 975,1121 998,885 1022,789 1046,787 1069,794 1093,786 1116,782 1140,779 1164,765 1187,761 1211,759 1234,755 1258,737 1282,702 1305,683 1329,680 1352,679 1376,679 1400,681 1423,682 1447,678" stroke="#0030e7" marker-start="url(#m160)" marker-mid="url(#m160)" marker-end="url(#m160)"/>
<polyline points="809,1121 833,1121 857,1121 880,1121 904,1121 927,1121 951,1121 975,1121 998,911 1022,788 1046,786 1069,796 1093,787 1116,786 1140,777 1164,767 1187,760 1211,755 1234,753 1258,748 1282,719 1305,685 1329,679 1352,683 1376,678 1400,682 1423,680 1447,679" stroke="#0030e7" marker-start="url(#m160)" marker-mid="url(#m160)" marker-end="url(#m160)"/>
<polyline points="809,1121 833,1121 857,1121 880,1121 904,1121 927,1121 951,1121 975,1121 998,881 1022,789 1046,786 1069,797 1093,789 1116,787 1140,780 1164,765 1187,760 1211,758 1234,755 1258,750 1282,718 1305,686 1329,678 1352,679 1376,678 1400,681 1423,680 1447,679" stroke="#002de9" marker-start="url(#m161)" marker-mid="url(#m161)" marker-end="url(#m161)"/>
<polyline points="809,1121 833,1121 857,1121 880,1121 904,1121 927,1121 951,1121 975,1115 998,840 1022,792 1046,783 1069,793 1093,787 1116,783 1140,777 1164,770 1187,758 1211,760 1234,753 1258,751 1282,725 1305,691 1329,683 1352,679 1376,678 1400,685 1423,680 1447,680" stroke="#002de9" marker-start="url(#m161)" marker-mid="url(#m161)" marker-end="url(#m161)"/>
<polyline points="809,1121 833,1121 857,1121 880,1121 904,1121 927,1121 951,1121 975,1121 998,904 1022,791 1046,786 1069,794 1093,787 1116,785 1140,779 1164,768 1187,760 1211,759 1234,755 1258,750 1282,716 1305,690 1329,679 1352,679 1376,678 1400,680 1423,678 1447,680" stroke="#002de9" marker-start="url(#m161)" marker-mid="url(#m161)" marker-end="url(#m161)"/>
<polyline points="809,1121 833,1121 857,1121 880,1121 904,1121 927,1121 951,1121 975,1121 998,884 1022,789 1046,784 1069,796 1093,787 1116,782 1140,778 1164,771 1187,761 1211,759 1234,752 1258,754 1282,724 1305,691 1329,679 1352,681 1376,678 1400,681 1423,682 1447,681" stroke="#0029ea" marker-start="url(#m162)" marker-mid="url(#m162)" marker-end="url(#m162)"/>
<polyline points="809,1121 833,1121 857,1121 880,1121 904,1121 927,1121 951,1121 975,1121 998,887 1022,792 1046,789 1069,796 1093,783 1116,785 1140,779 1164,772 1187,761 1211,760 1234,755 1258,754 1282,724 1305,690 1329,682 1352,680 1376,681 1400,683 1423,680 1447,679" stroke="#0029ea" marker-start="url(#m162)" marker-mid="url(#m162)" marker-end="url(#m162)"/>
<polyline points="809,1121 833,1121 857,1121 880,1121 904,1121 927,1121 951,1121 975,1121 998,851 1022,792 1046,789 1069,802 1093,791 1116,785 1140,779 1164,770 1187,761 1211,758 1234,754 1258,753 1282,734 1305,694 1329,681 1352,679 1376,678 1400,682 1423,680 1447,680" stroke="#0026ec" marker-start="url(#m163)" marker-mid="url(#m163)" marker-end="url(#m163)"/>
<polyline points="809,1121 833,1121 857,1121 880,1121 904,1121 927,1121 951,1121 975,1106 998,828 1022,793 1046,784 1069,799 1093,789 1116,783 1140,783 1164,772 1187,760 1211,760 1234,750 1258,752 1282,722 1305,690 1329,678 1352,678 1376,680 1400,681 1423,680 1447,678" stroke="#0026ec" marker-start="url(#m163)" marker-mid="url(#m163)" marker-end="url(#m163)"/>
</g>
<rect x="833.00" y="664.90" width="590.30" height="469.70" fill="none" stroke="#000" stroke-width="5.3"/>
<text x="833.00" y="1168.20" font-size="29.20" text-anchor="middle" fill="#000" textLength="36.23" lengthAdjust="spacingAndGlyphs">10</text>
<text x="951.06" y="1168.20" font-size="29.20" text-anchor="middle" fill="#000" textLength="36.23" lengthAdjust="spacingAndGlyphs">15</text>
<text x="1069.12" y="1168.20" font-size="29.20" text-anchor="middle" fill="#000" textLength="36.23" lengthAdjust="spacingAndGlyphs">20</text>
<text x="1187.18" y="1168.20" font-size="29.20" text-anchor="middle" fill="#000" textLength="36.23" lengthAdjust="spacingAndGlyphs">25</text>
<text x="1305.24" y="1168.20" font-size="29.20" text-anchor="middle" fill="#000" textLength="36.23" lengthAdjust="spacingAndGlyphs">30</text>
<text x="1423.30" y="1168.20" font-size="29.20" text-anchor="middle" fill="#000" textLength="36.23" lengthAdjust="spacingAndGlyphs">35</text>
<text x="823.05" y="1133.90" font-size="29.20" text-anchor="end" fill="#000" textLength="46.12" lengthAdjust="spacingAndGlyphs">0.0</text>
<text x="823.05" y="1044.94" font-size="29.20" text-anchor="end" fill="#000" textLength="46.12" lengthAdjust="spacingAndGlyphs">0.2</text>
<text x="823.05" y="955.98" font-size="29.20" text-anchor="end" fill="#000" textLength="46.12" lengthAdjust="spacingAndGlyphs">0.4</text>
<text x="823.05" y="867.02" font-size="29.20" text-anchor="end" fill="#000" textLength="46.12" lengthAdjust="spacingAndGlyphs">0.6</text>
<text x="823.05" y="778.06" font-size="29.20" text-anchor="end" fill="#000" textLength="46.12" lengthAdjust="spacingAndGlyphs">0.8</text>
<text x="823.05" y="689.10" font-size="29.20" text-anchor="end" fill="#000" textLength="46.12" lengthAdjust="spacingAndGlyphs">1.0</text>
<text x="1128.95" y="1198.50" font-size="28.20" text-anchor="middle" fill="#000" textLength="180.00" lengthAdjust="spacingAndGlyphs">Bin number</text>
<text transform="translate(763.00 1112.17) rotate(-90)" font-size="35.8" fill="#000">Concentrations (Li/Li+Si)</text>
<g stroke="#4472c4" stroke-width="4.8" fill="none">
<path d="M1000.5 630.8V660.0M1305.3 630.8V660.0"/>
<path d="M1002.5 641.0H1065.6M1240.2 641.0H1303.3"/>
<path d="M1020.5 632.0L1004.0 641.0L1020.5 650.0M1285.3 632.0L1301.8 641.0L1285.3 650.0" stroke-linecap="round" stroke-linejoin="miter"/>
</g>
<text x="1092.56" y="654.50" font-size="42.00" text-anchor="start" fill="#0070c0">42.0 Å</text>
<text x="1194.16" y="1096.30" font-size="42.00" text-anchor="start" fill="#000">cSi(111)/Li</text>
<text x="726.00" y="642.70" font-size="47.00" text-anchor="start" fill="#000">(d)</text>
<rect x="450.5" y="338" width="210" height="96" fill="none" stroke="#999" stroke-width="2.7"/>
<path d="M471.7 350.6V390.3" stroke="#a86e6e" stroke-width="4.4"/>
<path d="M471.7 360.5L480.3 369L471.7 377.5L463.1 369z" fill="#843c0c"/>
<path d="M512.7 350.6V390.3" stroke="#a8001e" stroke-width="4.4"/>
<path d="M512.7 360.5L521.3 369L512.7 377.5L504.1 369z" fill="#a8001e"/>
<path d="M554.2 350.6V390.3" stroke="#670030" stroke-width="4.4"/>
<path d="M554.2 360.5L562.8 369L554.2 377.5L545.6 369z" fill="#670030"/>
<path d="M595.5 350.6V390.3" stroke="#ff2a2a" stroke-width="4.4" opacity="0.62"/>
<path d="M595.5 360.5L604.1 369L595.5 377.5L586.9 369z" fill="#ff2a2a" opacity="0.62"/>
<path d="M638.3 350.6V390.3" stroke="#ff0000" stroke-width="4.4"/>
<path d="M638.3 360.5L646.9 369L638.3 377.5L629.7 369z" fill="#ff0000"/>
<text x="461.20" y="421.20" font-size="25.60" text-anchor="start" fill="#000">0 ns</text>
<text x="593.90" y="421.20" font-size="25.60" text-anchor="start" fill="#000">5 ns</text>
<path d="M521.7 411.2H577v3.6H521.7z" fill="url(#lg)"/>
<path d="M575.6 407.7L586.5 413L575.6 418.5z" fill="#e4000e"/>
</svg></body></html>
